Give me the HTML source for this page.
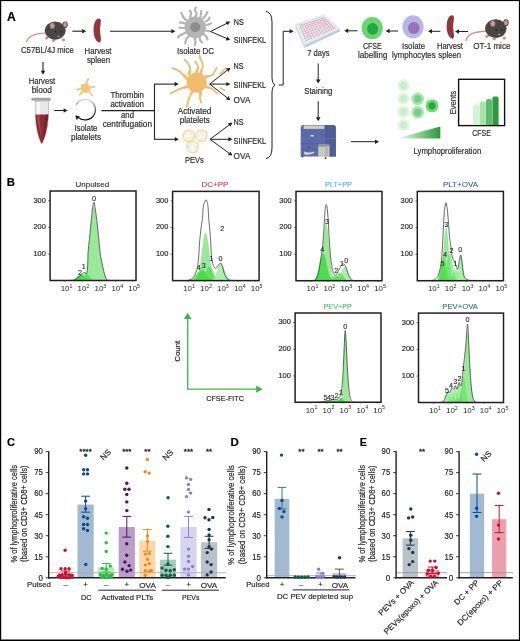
<!DOCTYPE html>
<html><head><meta charset="utf-8"><style>
html,body{margin:0;padding:0;background:#fff;overflow:hidden;width:520px;height:641px;}
svg{display:block;font-family:"Liberation Sans", sans-serif;will-change:transform;}
</style></head><body>
<svg width="520" height="641" viewBox="0 0 520 641">
<rect x="0" y="0" width="520" height="641" fill="#fff"/>
<rect x="0" y="0" width="520" height="1.1" fill="#000"/>
<rect x="0" y="0" width="1.2" height="641" fill="#000"/>
<rect x="518.9" y="0" width="1.1" height="641" fill="#000"/>
<rect x="0" y="639.5" width="520" height="1.5" fill="#000"/>
<text x="7.00" y="21.00" font-size="12" fill="#000" text-anchor="start" font-weight="bold" textLength="8.80" lengthAdjust="spacingAndGlyphs" stroke="#000" stroke-width="0.18">A</text>
<text x="6.70" y="186.40" font-size="11.2" fill="#000" text-anchor="start" font-weight="bold" textLength="8.20" lengthAdjust="spacingAndGlyphs" stroke="#000" stroke-width="0.18">B</text>
<text x="6.90" y="446.30" font-size="11.5" fill="#000" text-anchor="start" font-weight="bold" textLength="8.00" lengthAdjust="spacingAndGlyphs" stroke="#000" stroke-width="0.18">C</text>
<text x="230.50" y="446.20" font-size="11.2" fill="#000" text-anchor="start" font-weight="bold" textLength="8.30" lengthAdjust="spacingAndGlyphs" stroke="#000" stroke-width="0.18">D</text>
<text x="359.80" y="445.80" font-size="10.5" fill="#000" text-anchor="start" font-weight="bold" textLength="7.20" lengthAdjust="spacingAndGlyphs" stroke="#000" stroke-width="0.18">E</text>
<g transform="translate(55.20 30.60) scale(1.03) translate(-55.20 -30.60)"><path d="M 45.2 33.1 C 37.2 33.6, 29.2 34.6, 27.2 41.6" stroke="#c79690" stroke-width="1.3" fill="none" stroke-linecap="round"/><ellipse cx="46.9" cy="37.8" rx="1.7" ry="1.5" fill="#c99590"/><ellipse cx="53.6" cy="40.2" rx="1.7" ry="1.5" fill="#c99590"/><ellipse cx="63.2" cy="39.5" rx="1.7" ry="1.5" fill="#c99590"/><ellipse cx="55.2" cy="30.6" rx="10.2" ry="8.8" fill="#4a4646"/><ellipse cx="64.8" cy="25.0" rx="2.6" ry="3.2" fill="#4a4646"/><ellipse cx="64.8" cy="25.0" rx="1.8" ry="2.4" fill="#c99a95"/><ellipse cx="52.4" cy="25.9" rx="2.4" ry="3.0" fill="#c99a95" stroke="#5a5252" stroke-width="0.4"/><circle cx="55.6" cy="31.8" r="0.8" fill="#1c1a1a"/><circle cx="60.9" cy="31.8" r="0.8" fill="#1c1a1a"/><ellipse cx="58.4" cy="36.1" rx="1.0" ry="0.7" fill="#d49a95"/></g>
<text x="21.00" y="53.20" font-size="8.6" fill="#2a2a2a" text-anchor="start" textLength="52.80" lengthAdjust="spacingAndGlyphs" stroke="#2a2a2a" stroke-width="0.18">C57BL/4J mice</text>
<line x1="72.30" y1="31.20" x2="82.70" y2="31.20" stroke="#231f20" stroke-width="1.1"/>
<polygon points="86.20,31.20 82.20,33.50 82.20,28.90" fill="#231f20"/>
<path d="M 99.5 18.5 C 102.5 19.5, 99.5 26.5, 100.1 31.7 C 100.7 37.7, 102.0 41.5, 99.5 42.5 C 94.5 41.5, 93.0 32.9, 93.7 26.9 C 94.3 22.5, 96.0 18.0, 99.5 18.5 Z" fill="#93373b"/>
<text x="84.60" y="53.60" font-size="8.6" fill="#2a2a2a" text-anchor="start" textLength="26.90" lengthAdjust="spacingAndGlyphs" stroke="#2a2a2a" stroke-width="0.18">Harvest</text>
<text x="86.90" y="62.80" font-size="8.6" fill="#2a2a2a" text-anchor="start" textLength="23.10" lengthAdjust="spacingAndGlyphs" stroke="#2a2a2a" stroke-width="0.18">spleen</text>
<line x1="110.00" y1="31.30" x2="171.90" y2="31.30" stroke="#231f20" stroke-width="1.1"/>
<polygon points="175.40,31.30 171.40,33.60 171.40,29.00" fill="#231f20"/>
<path d="M 195.50 17.00 C 195.68 16.42, 196.70 14.58, 196.60 13.50 C 196.50 12.42, 195.03 11.48, 194.90 10.50 C 194.77 9.52, 195.65 8.08, 195.80 7.60" stroke="#b4b4b4" stroke-width="2.2" fill="none" stroke-linecap="round"/>
<path d="M 190.10 18.00 C 190.25 17.13, 191.07 14.03, 191.00 12.80 C 190.93 11.57, 189.92 10.97, 189.70 10.60" stroke="#b4b4b4" stroke-width="2.2" fill="none" stroke-linecap="round"/>
<path d="M 186.60 20.50 C 186.08 19.97, 184.38 18.58, 183.50 17.30 C 182.62 16.02, 181.67 13.55, 181.30 12.80" stroke="#b4b4b4" stroke-width="2.2" fill="none" stroke-linecap="round"/>
<path d="M 200.30 17.00 C 200.45 16.23, 201.12 13.38, 201.20 12.40 C 201.28 11.42, 200.87 11.32, 200.80 11.10" stroke="#b4b4b4" stroke-width="2.2" fill="none" stroke-linecap="round"/>
<path d="M 203.00 18.50 C 203.52 17.85, 205.37 15.68, 206.10 14.60 C 206.83 13.52, 207.18 12.43, 207.40 12.00" stroke="#b4b4b4" stroke-width="2.2" fill="none" stroke-linecap="round"/>
<path d="M 206.00 21.50 C 206.53 21.08, 208.63 19.67, 209.20 19.00 C 209.77 18.33, 209.37 17.75, 209.40 17.50" stroke="#b4b4b4" stroke-width="2.2" fill="none" stroke-linecap="round"/>
<path d="M 207.00 25.00 C 207.50 24.82, 209.30 24.18, 210.00 23.90 C 210.70 23.62, 211.00 23.40, 211.20 23.30" stroke="#b4b4b4" stroke-width="2.2" fill="none" stroke-linecap="round"/>
<path d="M 185.50 23.50 C 184.87 23.35, 182.62 22.75, 181.70 22.60 C 180.78 22.45, 180.28 22.60, 180.00 22.60" stroke="#b4b4b4" stroke-width="2.2" fill="none" stroke-linecap="round"/>
<path d="M 185.50 28.00 C 184.87 27.98, 182.70 27.95, 181.70 27.90 C 180.70 27.85, 179.87 27.73, 179.50 27.70" stroke="#b4b4b4" stroke-width="2.2" fill="none" stroke-linecap="round"/>
<path d="M 187.00 32.30 C 185.97 32.75, 182.33 34.18, 180.80 35.00 C 179.27 35.82, 178.30 36.83, 177.80 37.20" stroke="#b4b4b4" stroke-width="2.2" fill="none" stroke-linecap="round"/>
<path d="M 189.70 35.50 C 189.12 36.15, 186.93 38.08, 186.20 39.40 C 185.47 40.72, 185.45 42.73, 185.30 43.40" stroke="#b4b4b4" stroke-width="2.2" fill="none" stroke-linecap="round"/>
<path d="M 194.60 37.00 C 194.75 37.83, 195.47 40.63, 195.50 42.00 C 195.53 43.37, 194.92 44.67, 194.80 45.20" stroke="#b4b4b4" stroke-width="2.2" fill="none" stroke-linecap="round"/>
<path d="M 199.40 36.50 C 199.55 37.13, 199.85 39.30, 200.30 40.30 C 200.75 41.30, 201.80 42.13, 202.10 42.50" stroke="#b4b4b4" stroke-width="2.2" fill="none" stroke-linecap="round"/>
<path d="M 203.50 34.00 C 204.00 34.45, 205.85 35.80, 206.50 36.70 C 207.15 37.60, 207.25 38.95, 207.40 39.40" stroke="#b4b4b4" stroke-width="2.2" fill="none" stroke-linecap="round"/>
<path d="M 206.00 30.50 L 209.50 31.50" stroke="#b4b4b4" stroke-width="2.2" fill="none" stroke-linecap="round"/>
<circle cx="195.3" cy="27.3" r="10.8" fill="#b4b4b4"/>
<circle cx="195.3" cy="27.3" r="5.0" fill="#8c8c8c"/>
<text x="177.00" y="53.80" font-size="8.6" fill="#2a2a2a" text-anchor="start" textLength="37.00" lengthAdjust="spacingAndGlyphs" stroke="#2a2a2a" stroke-width="0.18">Isolate DC</text>
<line x1="210.50" y1="31.50" x2="227.07" y2="23.17" stroke="#231f20" stroke-width="1.0"/>
<polygon points="230.20,21.60 227.61,25.36 225.64,21.43" fill="#231f20"/>
<line x1="210.50" y1="31.50" x2="226.99" y2="38.61" stroke="#231f20" stroke-width="1.0"/>
<polygon points="230.20,40.00 225.66,40.44 227.40,36.40" fill="#231f20"/>
<text x="233.70" y="24.60" font-size="8.6" fill="#2a2a2a" text-anchor="start" textLength="10.00" lengthAdjust="spacingAndGlyphs" stroke="#2a2a2a" stroke-width="0.18">NS</text>
<text x="233.70" y="42.70" font-size="8.6" fill="#2a2a2a" text-anchor="start" textLength="32.40" lengthAdjust="spacingAndGlyphs" stroke="#2a2a2a" stroke-width="0.18">SIINFEKL</text>
<line x1="43.00" y1="62.00" x2="43.00" y2="71.30" stroke="#231f20" stroke-width="1.1"/>
<polygon points="43.00,74.80 40.70,70.80 45.30,70.80" fill="#231f20"/>
<text x="28.70" y="83.90" font-size="8.6" fill="#2a2a2a" text-anchor="start" textLength="26.50" lengthAdjust="spacingAndGlyphs" stroke="#2a2a2a" stroke-width="0.18">Harvest</text>
<text x="31.70" y="92.90" font-size="8.6" fill="#2a2a2a" text-anchor="start" textLength="20.30" lengthAdjust="spacingAndGlyphs" stroke="#2a2a2a" stroke-width="0.18">blood</text>
<path d="M 35.3 101 L 48.5 101 L 48.5 117 Q 47.6 133 42.2 143.6 L 41.2 143.6 Q 36.2 133 35.3 117 Z" fill="#e8e8e8" stroke="#a8a8a8" stroke-width="0.6"/>
<path d="M 35.6 114.6 L 48.2 114.6 L 48.2 117 Q 47.3 133 42.1 143.2 L 41.3 143.2 Q 36.5 133 35.6 117 Z" fill="#8b2c33"/>
<path d="M 37.2 114.6 L 39.6 114.6 L 39.6 121 L 41.4 138 L 37.2 119 Z" fill="#b8676c" opacity="0.55"/>
<path d="M 45.8 114.6 L 48.2 114.6 L 48.2 117 L 42.3 142.5 L 44.6 121 Z" fill="#6a1c22" opacity="0.6"/>
<rect x="37.0" y="102" width="3.0" height="12.3" fill="#f7f7f7"/>
<path d="M 31.2 99.3 Q 31.2 97.8 33 97.8 L 49.8 97.8 Q 50.6 97.8 50.6 99 L 50.6 100.8 L 33.5 100.8 Q 31.2 100.8 31.2 99.3 Z" fill="#a3a3a3"/>
<line x1="54.20" y1="110.50" x2="64.10" y2="110.50" stroke="#231f20" stroke-width="1.1"/>
<polygon points="67.60,110.50 63.60,112.80 63.60,108.20" fill="#231f20"/>
<path d="M 86.50 84.00 C 86.68 83.42, 87.28 81.37, 87.60 80.50 C 87.92 79.63, 88.27 79.08, 88.40 78.80" stroke="#f4c27a" stroke-width="1.7" fill="none" stroke-linecap="round"/>
<path d="M 89.50 87.30 C 90.00 87.23, 91.68 86.98, 92.50 86.90 C 93.32 86.82, 94.08 86.82, 94.40 86.80" stroke="#f4c27a" stroke-width="1.7" fill="none" stroke-linecap="round"/>
<path d="M 82.00 88.60 C 81.50 88.70, 79.83 89.03, 79.00 89.20 C 78.17 89.37, 77.33 89.53, 77.00 89.60" stroke="#f4c27a" stroke-width="1.7" fill="none" stroke-linecap="round"/>
<path d="M 83.00 91.50 C 82.63 91.83, 81.35 92.90, 80.80 93.50 C 80.25 94.10, 79.88 94.83, 79.70 95.10" stroke="#f4c27a" stroke-width="1.7" fill="none" stroke-linecap="round"/>
<path d="M 88.80 91.50 C 89.13 91.88, 90.27 93.17, 90.80 93.80 C 91.33 94.43, 91.80 95.05, 92.00 95.30" stroke="#f4c27a" stroke-width="1.7" fill="none" stroke-linecap="round"/>
<path d="M 83.00 86.00 L 81.80 84.90" stroke="#f4c27a" stroke-width="1.7" fill="none" stroke-linecap="round"/>
<circle cx="85.7" cy="88.3" r="4.7" fill="#f4c27a"/>
<defs><linearGradient id="cg" x1="0" y1="0" x2="0" y2="1"><stop offset="0" stop-color="#d8d8d8"/><stop offset="0.6" stop-color="#555"/><stop offset="1" stop-color="#111"/></linearGradient></defs>
<path d="M 78.5 117.5 A 10.3 10.3 0 1 0 76.2 104.6" stroke="url(#cg)" stroke-width="1.3" fill="none"/>
<polygon points="75.3,115.2 79.8,116.5 76.5,120" fill="#111"/>
<text x="74.40" y="130.80" font-size="8.6" fill="#2a2a2a" text-anchor="start" textLength="23.10" lengthAdjust="spacingAndGlyphs" stroke="#2a2a2a" stroke-width="0.18">Isolate</text>
<text x="71.00" y="139.50" font-size="8.6" fill="#2a2a2a" text-anchor="start" textLength="30.00" lengthAdjust="spacingAndGlyphs" stroke="#2a2a2a" stroke-width="0.18">platelets</text>
<line x1="101.30" y1="110.60" x2="154.50" y2="110.60" stroke="#231f20" stroke-width="1.1"/>
<line x1="154.50" y1="84.00" x2="154.50" y2="139.30" stroke="#231f20" stroke-width="1.1"/>
<text x="110.40" y="97.60" font-size="8.6" fill="#2a2a2a" text-anchor="start" textLength="33.60" lengthAdjust="spacingAndGlyphs" stroke="#2a2a2a" stroke-width="0.18">Thrombin</text>
<text x="110.40" y="107.10" font-size="8.6" fill="#2a2a2a" text-anchor="start" textLength="33.60" lengthAdjust="spacingAndGlyphs" stroke="#2a2a2a" stroke-width="0.18">activation</text>
<text x="121.00" y="117.80" font-size="8.6" fill="#2a2a2a" text-anchor="start" textLength="13.00" lengthAdjust="spacingAndGlyphs" stroke="#2a2a2a" stroke-width="0.18">and</text>
<text x="102.70" y="127.10" font-size="8.6" fill="#2a2a2a" text-anchor="start" textLength="49.30" lengthAdjust="spacingAndGlyphs" stroke="#2a2a2a" stroke-width="0.18">centrifugation</text>
<line x1="154.00" y1="84.10" x2="175.10" y2="84.10" stroke="#231f20" stroke-width="1.1"/>
<polygon points="178.60,84.10 174.60,86.40 174.60,81.80" fill="#231f20"/>
<line x1="154.00" y1="139.30" x2="175.30" y2="139.30" stroke="#231f20" stroke-width="1.1"/>
<polygon points="178.80,139.30 174.80,141.60 174.80,137.00" fill="#231f20"/>
<path d="M 200.60 73.30 C 200.98 72.05, 202.90 68.20, 202.90 65.80 C 202.90 63.40, 201.18 60.62, 200.60 58.90 C 200.02 57.18, 199.60 56.07, 199.40 55.50" stroke="#f2bb6e" stroke-width="1.9" fill="none" stroke-linecap="round"/>
<path d="M 200.60 73.30 L 201.41 70.67" stroke="#f2bb6e" stroke-width="2.8" fill="none" stroke-linecap="round"/>
<path d="M 189.10 73.90 C 189.28 72.93, 190.50 70.02, 190.20 68.10 C 189.90 66.18, 188.25 63.83, 187.30 62.40 C 186.35 60.97, 184.97 59.98, 184.50 59.50" stroke="#f2bb6e" stroke-width="1.9" fill="none" stroke-linecap="round"/>
<path d="M 189.10 73.90 L 189.48 71.87" stroke="#f2bb6e" stroke-width="2.8" fill="none" stroke-linecap="round"/>
<path d="M 196.60 72.20 C 196.88 71.33, 198.50 68.73, 198.30 67.00 C 198.10 65.27, 195.88 62.67, 195.40 61.80" stroke="#f2bb6e" stroke-width="1.9" fill="none" stroke-linecap="round"/>
<path d="M 196.60 72.20 L 197.19 70.38" stroke="#f2bb6e" stroke-width="2.8" fill="none" stroke-linecap="round"/>
<path d="M 186.80 78.50 C 185.63 77.35, 182.22 73.33, 179.80 71.60 C 177.38 69.87, 173.55 68.68, 172.30 68.10" stroke="#f2bb6e" stroke-width="1.9" fill="none" stroke-linecap="round"/>
<path d="M 186.80 78.50 L 184.35 76.08" stroke="#f2bb6e" stroke-width="2.8" fill="none" stroke-linecap="round"/>
<path d="M 187.30 86.60 C 186.05 86.98, 182.58 87.75, 179.80 88.90 C 177.02 90.05, 172.13 92.73, 170.60 93.50" stroke="#f2bb6e" stroke-width="1.9" fill="none" stroke-linecap="round"/>
<path d="M 187.30 86.60 L 184.68 87.41" stroke="#f2bb6e" stroke-width="2.8" fill="none" stroke-linecap="round"/>
<path d="M 192.50 91.20 C 191.93 92.35, 190.05 95.60, 189.10 98.10 C 188.15 100.60, 187.18 104.85, 186.80 106.20" stroke="#f2bb6e" stroke-width="1.9" fill="none" stroke-linecap="round"/>
<path d="M 192.50 91.20 L 191.31 93.61" stroke="#f2bb6e" stroke-width="2.8" fill="none" stroke-linecap="round"/>
<path d="M 200.60 92.40 C 200.50 93.35, 199.90 96.38, 200.00 98.10 C 200.10 99.82, 201.00 101.93, 201.20 102.70" stroke="#f2bb6e" stroke-width="1.9" fill="none" stroke-linecap="round"/>
<path d="M 200.60 92.40 L 200.39 94.39" stroke="#f2bb6e" stroke-width="2.8" fill="none" stroke-linecap="round"/>
<path d="M 205.80 76.80 C 206.85 76.52, 210.28 76.55, 212.10 75.10 C 213.92 73.65, 215.93 69.27, 216.70 68.10" stroke="#f2bb6e" stroke-width="1.9" fill="none" stroke-linecap="round"/>
<path d="M 205.80 76.80 L 208.00 76.20" stroke="#f2bb6e" stroke-width="2.8" fill="none" stroke-linecap="round"/>
<path d="M 205.80 86.60 C 206.85 86.98, 210.18 87.75, 212.10 88.90 C 214.02 90.05, 216.43 92.73, 217.30 93.50" stroke="#f2bb6e" stroke-width="1.9" fill="none" stroke-linecap="round"/>
<path d="M 205.80 86.60 L 208.00 87.41" stroke="#f2bb6e" stroke-width="2.8" fill="none" stroke-linecap="round"/>
<path d="M 220.20 73.90 L 226.00 68.10" stroke="#f2bb6e" stroke-width="1.5" fill="none" stroke-linecap="round"/>
<path d="M 220.20 87.80 L 224.50 90.50" stroke="#f2bb6e" stroke-width="1.5" fill="none" stroke-linecap="round"/>
<circle cx="196.6" cy="82.6" r="9.9" fill="#f2bb6e" stroke="#eeb35f" stroke-width="0.5"/>
<line x1="209.70" y1="84.10" x2="227.66" y2="69.87" stroke="#231f20" stroke-width="1.0"/>
<polygon points="230.40,67.70 228.63,71.91 225.90,68.46" fill="#231f20"/>
<line x1="209.70" y1="84.10" x2="226.90" y2="84.10" stroke="#231f20" stroke-width="1.0"/>
<polygon points="230.40,84.10 226.40,86.30 226.40,81.90" fill="#231f20"/>
<line x1="209.70" y1="84.10" x2="227.64" y2="98.14" stroke="#231f20" stroke-width="1.0"/>
<polygon points="230.40,100.30 225.89,99.57 228.61,96.10" fill="#231f20"/>
<text x="233.60" y="69.10" font-size="8.6" fill="#2a2a2a" text-anchor="start" textLength="10.00" lengthAdjust="spacingAndGlyphs" stroke="#2a2a2a" stroke-width="0.18">NS</text>
<text x="233.60" y="87.60" font-size="8.6" fill="#2a2a2a" text-anchor="start" textLength="32.60" lengthAdjust="spacingAndGlyphs" stroke="#2a2a2a" stroke-width="0.18">SIINFEKL</text>
<text x="233.60" y="103.10" font-size="8.6" fill="#2a2a2a" text-anchor="start" textLength="16.80" lengthAdjust="spacingAndGlyphs" stroke="#2a2a2a" stroke-width="0.18">OVA</text>
<text x="177.70" y="114.20" font-size="8.6" fill="#2a2a2a" text-anchor="start" textLength="33.70" lengthAdjust="spacingAndGlyphs" stroke="#2a2a2a" stroke-width="0.18">Activated</text>
<text x="179.80" y="123.40" font-size="8.6" fill="#2a2a2a" text-anchor="start" textLength="29.90" lengthAdjust="spacingAndGlyphs" stroke="#2a2a2a" stroke-width="0.18">platelets</text>
<circle cx="188.8" cy="135.8" r="5.6" fill="none" stroke="#f7d9a6" stroke-width="1.6"/>
<circle cx="188.8" cy="135.8" r="3.2" fill="none" stroke="#f9e3bd" stroke-width="1.0"/>
<circle cx="201.3" cy="135.8" r="5.6" fill="none" stroke="#f7d9a6" stroke-width="1.6"/>
<circle cx="201.3" cy="135.8" r="3.2" fill="none" stroke="#f9e3bd" stroke-width="1.0"/>
<circle cx="192.5" cy="147" r="5.6" fill="none" stroke="#f7d9a6" stroke-width="1.6"/>
<circle cx="192.5" cy="147" r="3.2" fill="none" stroke="#f9e3bd" stroke-width="1.0"/>
<text x="185.00" y="162.60" font-size="8.6" fill="#2a2a2a" text-anchor="start" textLength="18.70" lengthAdjust="spacingAndGlyphs" stroke="#2a2a2a" stroke-width="0.18">PEVs</text>
<line x1="210.00" y1="139.30" x2="229.60" y2="124.60" stroke="#231f20" stroke-width="1.0"/>
<polygon points="232.40,122.50 230.52,126.66 227.88,123.14" fill="#231f20"/>
<line x1="210.00" y1="139.30" x2="228.90" y2="139.30" stroke="#231f20" stroke-width="1.0"/>
<polygon points="232.40,139.30 228.40,141.50 228.40,137.10" fill="#231f20"/>
<line x1="210.00" y1="139.30" x2="229.57" y2="153.54" stroke="#231f20" stroke-width="1.0"/>
<polygon points="232.40,155.60 227.87,155.03 230.46,151.47" fill="#231f20"/>
<text x="233.60" y="125.40" font-size="8.6" fill="#2a2a2a" text-anchor="start" textLength="10.00" lengthAdjust="spacingAndGlyphs" stroke="#2a2a2a" stroke-width="0.18">NS</text>
<text x="233.60" y="143.50" font-size="8.6" fill="#2a2a2a" text-anchor="start" textLength="32.60" lengthAdjust="spacingAndGlyphs" stroke="#2a2a2a" stroke-width="0.18">SIINFEKL</text>
<text x="233.60" y="159.00" font-size="8.6" fill="#2a2a2a" text-anchor="start" textLength="16.80" lengthAdjust="spacingAndGlyphs" stroke="#2a2a2a" stroke-width="0.18">OVA</text>
<path d="M 266 11.3 Q 272 12.5 272 22 L 272 77 Q 272 83.5 275 85 Q 272 86.5 272 93 L 272 148 Q 272 157.5 266 158.5" stroke="#231f20" stroke-width="1.0" fill="none"/>
<path d="M 278.7 85 L 283.2 85 L 283.2 31.3" stroke="#231f20" stroke-width="1.0" fill="none"/>
<line x1="283.20" y1="31.30" x2="290.10" y2="31.30" stroke="#231f20" stroke-width="1.0"/>
<polygon points="293.60,31.30 289.60,33.60 289.60,29.00" fill="#231f20"/>
<polygon points="295.6,24.6 304.4,45.2 304.4,48 295.6,27.4" fill="#c3d5dc"/>
<polygon points="304.4,45.2 339.8,28.8 339.8,31.6 304.4,48" fill="#b9ccd4"/>
<polygon points="295.6,24.6 324.3,15.0 339.8,28.8 304.4,45.2" fill="#e4eef1" stroke="#cbdbe1" stroke-width="0.6"/>
<g><ellipse cx="300.10" cy="25.61" rx="1.0" ry="0.8" fill="#e7a0bb"/><ellipse cx="300.98" cy="27.71" rx="1.0" ry="0.8" fill="#e7a0bb"/><ellipse cx="301.85" cy="29.80" rx="1.0" ry="0.8" fill="#e7a0bb"/><ellipse cx="302.73" cy="31.90" rx="1.0" ry="0.8" fill="#e7a0bb"/><ellipse cx="303.61" cy="34.00" rx="1.0" ry="0.8" fill="#e7a0bb"/><ellipse cx="304.49" cy="36.10" rx="1.0" ry="0.8" fill="#e7a0bb"/><ellipse cx="305.37" cy="38.20" rx="1.0" ry="0.8" fill="#e7a0bb"/><ellipse cx="306.24" cy="40.30" rx="1.0" ry="0.8" fill="#e7a0bb"/><ellipse cx="302.24" cy="24.90" rx="1.0" ry="0.8" fill="#e7a0bb"/><ellipse cx="303.18" cy="26.94" rx="1.0" ry="0.8" fill="#e7a0bb"/><ellipse cx="304.11" cy="28.99" rx="1.0" ry="0.8" fill="#e7a0bb"/><ellipse cx="305.05" cy="31.03" rx="1.0" ry="0.8" fill="#e7a0bb"/><ellipse cx="305.98" cy="33.08" rx="1.0" ry="0.8" fill="#e7a0bb"/><ellipse cx="306.91" cy="35.12" rx="1.0" ry="0.8" fill="#e7a0bb"/><ellipse cx="307.85" cy="37.17" rx="1.0" ry="0.8" fill="#e7a0bb"/><ellipse cx="308.78" cy="39.21" rx="1.0" ry="0.8" fill="#e7a0bb"/><ellipse cx="304.39" cy="24.19" rx="1.0" ry="0.8" fill="#e7a0bb"/><ellipse cx="305.38" cy="26.18" rx="1.0" ry="0.8" fill="#e7a0bb"/><ellipse cx="306.37" cy="28.17" rx="1.0" ry="0.8" fill="#e7a0bb"/><ellipse cx="307.36" cy="30.16" rx="1.0" ry="0.8" fill="#e7a0bb"/><ellipse cx="308.35" cy="32.16" rx="1.0" ry="0.8" fill="#e7a0bb"/><ellipse cx="309.34" cy="34.15" rx="1.0" ry="0.8" fill="#e7a0bb"/><ellipse cx="310.33" cy="36.14" rx="1.0" ry="0.8" fill="#e7a0bb"/><ellipse cx="311.32" cy="38.13" rx="1.0" ry="0.8" fill="#e7a0bb"/><ellipse cx="306.53" cy="23.48" rx="1.0" ry="0.8" fill="#e7a0bb"/><ellipse cx="307.58" cy="25.42" rx="1.0" ry="0.8" fill="#e7a0bb"/><ellipse cx="308.63" cy="27.36" rx="1.0" ry="0.8" fill="#e7a0bb"/><ellipse cx="309.67" cy="29.30" rx="1.0" ry="0.8" fill="#e7a0bb"/><ellipse cx="310.72" cy="31.23" rx="1.0" ry="0.8" fill="#e7a0bb"/><ellipse cx="311.77" cy="33.17" rx="1.0" ry="0.8" fill="#e7a0bb"/><ellipse cx="312.81" cy="35.11" rx="1.0" ry="0.8" fill="#e7a0bb"/><ellipse cx="313.86" cy="37.05" rx="1.0" ry="0.8" fill="#e7a0bb"/><ellipse cx="308.68" cy="22.77" rx="1.0" ry="0.8" fill="#e7a0bb"/><ellipse cx="309.78" cy="24.65" rx="1.0" ry="0.8" fill="#e7a0bb"/><ellipse cx="310.88" cy="26.54" rx="1.0" ry="0.8" fill="#e7a0bb"/><ellipse cx="311.99" cy="28.43" rx="1.0" ry="0.8" fill="#e7a0bb"/><ellipse cx="313.09" cy="30.31" rx="1.0" ry="0.8" fill="#e7a0bb"/><ellipse cx="314.19" cy="32.20" rx="1.0" ry="0.8" fill="#e7a0bb"/><ellipse cx="315.30" cy="34.08" rx="1.0" ry="0.8" fill="#e7a0bb"/><ellipse cx="316.40" cy="35.97" rx="1.0" ry="0.8" fill="#e7a0bb"/><ellipse cx="310.82" cy="22.06" rx="1.0" ry="0.8" fill="#e7a0bb"/><ellipse cx="311.98" cy="23.89" rx="1.0" ry="0.8" fill="#e7a0bb"/><ellipse cx="313.14" cy="25.72" rx="1.0" ry="0.8" fill="#e7a0bb"/><ellipse cx="314.30" cy="27.56" rx="1.0" ry="0.8" fill="#e7a0bb"/><ellipse cx="315.46" cy="29.39" rx="1.0" ry="0.8" fill="#e7a0bb"/><ellipse cx="316.62" cy="31.22" rx="1.0" ry="0.8" fill="#e7a0bb"/><ellipse cx="317.78" cy="33.05" rx="1.0" ry="0.8" fill="#e7a0bb"/><ellipse cx="318.94" cy="34.89" rx="1.0" ry="0.8" fill="#e7a0bb"/><ellipse cx="312.97" cy="21.35" rx="1.0" ry="0.8" fill="#e7a0bb"/><ellipse cx="314.18" cy="23.13" rx="1.0" ry="0.8" fill="#e7a0bb"/><ellipse cx="315.40" cy="24.91" rx="1.0" ry="0.8" fill="#e7a0bb"/><ellipse cx="316.61" cy="26.69" rx="1.0" ry="0.8" fill="#e7a0bb"/><ellipse cx="317.83" cy="28.47" rx="1.0" ry="0.8" fill="#e7a0bb"/><ellipse cx="319.04" cy="30.25" rx="1.0" ry="0.8" fill="#e7a0bb"/><ellipse cx="320.26" cy="32.03" rx="1.0" ry="0.8" fill="#e7a0bb"/><ellipse cx="321.48" cy="33.81" rx="1.0" ry="0.8" fill="#e7a0bb"/><ellipse cx="315.11" cy="20.64" rx="1.0" ry="0.8" fill="#e7a0bb"/><ellipse cx="316.38" cy="22.36" rx="1.0" ry="0.8" fill="#e7a0bb"/><ellipse cx="317.65" cy="24.09" rx="1.0" ry="0.8" fill="#e7a0bb"/><ellipse cx="318.93" cy="25.82" rx="1.0" ry="0.8" fill="#e7a0bb"/><ellipse cx="320.20" cy="27.54" rx="1.0" ry="0.8" fill="#e7a0bb"/><ellipse cx="321.47" cy="29.27" rx="1.0" ry="0.8" fill="#e7a0bb"/><ellipse cx="322.74" cy="31.00" rx="1.0" ry="0.8" fill="#e7a0bb"/><ellipse cx="324.01" cy="32.72" rx="1.0" ry="0.8" fill="#e7a0bb"/><ellipse cx="317.26" cy="19.93" rx="1.0" ry="0.8" fill="#e7a0bb"/><ellipse cx="318.58" cy="21.60" rx="1.0" ry="0.8" fill="#e7a0bb"/><ellipse cx="319.91" cy="23.28" rx="1.0" ry="0.8" fill="#e7a0bb"/><ellipse cx="321.24" cy="24.95" rx="1.0" ry="0.8" fill="#e7a0bb"/><ellipse cx="322.57" cy="26.62" rx="1.0" ry="0.8" fill="#e7a0bb"/><ellipse cx="323.90" cy="28.30" rx="1.0" ry="0.8" fill="#e7a0bb"/><ellipse cx="325.22" cy="29.97" rx="1.0" ry="0.8" fill="#e7a0bb"/><ellipse cx="326.55" cy="31.64" rx="1.0" ry="0.8" fill="#e7a0bb"/><ellipse cx="319.40" cy="19.22" rx="1.0" ry="0.8" fill="#e7a0bb"/><ellipse cx="320.78" cy="20.84" rx="1.0" ry="0.8" fill="#e7a0bb"/><ellipse cx="322.17" cy="22.46" rx="1.0" ry="0.8" fill="#e7a0bb"/><ellipse cx="323.55" cy="24.08" rx="1.0" ry="0.8" fill="#e7a0bb"/><ellipse cx="324.94" cy="25.70" rx="1.0" ry="0.8" fill="#e7a0bb"/><ellipse cx="326.32" cy="27.32" rx="1.0" ry="0.8" fill="#e7a0bb"/><ellipse cx="327.71" cy="28.94" rx="1.0" ry="0.8" fill="#e7a0bb"/><ellipse cx="329.09" cy="30.56" rx="1.0" ry="0.8" fill="#e7a0bb"/><ellipse cx="321.55" cy="18.51" rx="1.0" ry="0.8" fill="#e7a0bb"/><ellipse cx="322.99" cy="20.08" rx="1.0" ry="0.8" fill="#e7a0bb"/><ellipse cx="324.43" cy="21.64" rx="1.0" ry="0.8" fill="#e7a0bb"/><ellipse cx="325.87" cy="23.21" rx="1.0" ry="0.8" fill="#e7a0bb"/><ellipse cx="327.31" cy="24.78" rx="1.0" ry="0.8" fill="#e7a0bb"/><ellipse cx="328.75" cy="26.34" rx="1.0" ry="0.8" fill="#e7a0bb"/><ellipse cx="330.19" cy="27.91" rx="1.0" ry="0.8" fill="#e7a0bb"/><ellipse cx="331.63" cy="29.48" rx="1.0" ry="0.8" fill="#e7a0bb"/><ellipse cx="323.69" cy="17.80" rx="1.0" ry="0.8" fill="#e7a0bb"/><ellipse cx="325.19" cy="19.31" rx="1.0" ry="0.8" fill="#e7a0bb"/><ellipse cx="326.68" cy="20.83" rx="1.0" ry="0.8" fill="#e7a0bb"/><ellipse cx="328.18" cy="22.34" rx="1.0" ry="0.8" fill="#e7a0bb"/><ellipse cx="329.68" cy="23.85" rx="1.0" ry="0.8" fill="#e7a0bb"/><ellipse cx="331.17" cy="25.37" rx="1.0" ry="0.8" fill="#e7a0bb"/><ellipse cx="332.67" cy="26.88" rx="1.0" ry="0.8" fill="#e7a0bb"/><ellipse cx="334.17" cy="28.40" rx="1.0" ry="0.8" fill="#e7a0bb"/></g>
<text x="307.30" y="56.20" font-size="8.6" fill="#2a2a2a" text-anchor="start" textLength="22.30" lengthAdjust="spacingAndGlyphs" stroke="#2a2a2a" stroke-width="0.18">7 days</text>
<line x1="357.50" y1="30.80" x2="347.70" y2="30.80" stroke="#231f20" stroke-width="1.0"/>
<polygon points="344.20,30.80 348.20,28.50 348.20,33.10" fill="#231f20"/>
<ellipse cx="372.2" cy="28.1" rx="10.6" ry="11.2" fill="#6fd46f"/>
<ellipse cx="372.6" cy="28.8" rx="5.6" ry="5.9" fill="#22aa44"/>
<text x="363.00" y="49.40" font-size="8.6" fill="#2a2a2a" text-anchor="start" textLength="18.70" lengthAdjust="spacingAndGlyphs" stroke="#2a2a2a" stroke-width="0.18">CFSE</text>
<text x="358.00" y="57.90" font-size="8.6" fill="#2a2a2a" text-anchor="start" textLength="29.50" lengthAdjust="spacingAndGlyphs" stroke="#2a2a2a" stroke-width="0.18">labelling</text>
<line x1="398.00" y1="31.00" x2="389.10" y2="31.00" stroke="#231f20" stroke-width="1.0"/>
<polygon points="385.60,31.00 389.60,28.70 389.60,33.30" fill="#231f20"/>
<ellipse cx="413" cy="26.8" rx="10.6" ry="11.5" fill="#b8b5e8"/>
<ellipse cx="413.8" cy="28" rx="5.8" ry="6" fill="#9a72b8"/>
<text x="402.00" y="49.00" font-size="8.6" fill="#2a2a2a" text-anchor="start" textLength="23.00" lengthAdjust="spacingAndGlyphs" stroke="#2a2a2a" stroke-width="0.18">Isolate</text>
<text x="392.00" y="57.60" font-size="8.6" fill="#2a2a2a" text-anchor="start" textLength="43.60" lengthAdjust="spacingAndGlyphs" stroke="#2a2a2a" stroke-width="0.18">lymphocytes</text>
<line x1="440.40" y1="31.30" x2="431.50" y2="31.30" stroke="#231f20" stroke-width="1.0"/>
<polygon points="428.00,31.30 432.00,29.00 432.00,33.60" fill="#231f20"/>
<path d="M 452.6 15.3 C 455.6 16.3, 452.6 23.3, 453.2 28.2 C 453.8 34.1, 455.1 37.8, 452.6 38.8 C 447.6 37.8, 446.1 29.4, 446.8 23.5 C 447.4 19.3, 449.1 14.8, 452.6 15.3 Z" fill="#93373b"/>
<text x="437.00" y="49.20" font-size="8.6" fill="#2a2a2a" text-anchor="start" textLength="25.90" lengthAdjust="spacingAndGlyphs" stroke="#2a2a2a" stroke-width="0.18">Harvest</text>
<text x="438.30" y="57.60" font-size="8.6" fill="#2a2a2a" text-anchor="start" textLength="22.70" lengthAdjust="spacingAndGlyphs" stroke="#2a2a2a" stroke-width="0.18">spleen</text>
<line x1="468.00" y1="31.50" x2="458.50" y2="31.50" stroke="#231f20" stroke-width="1.0"/>
<polygon points="455.00,31.50 459.00,29.20 459.00,33.80" fill="#231f20"/>
<g transform="translate(495.80 28.60) scale(1.06) translate(-495.80 -28.60)"><path d="M 485.8 31.1 C 477.8 31.6, 469.8 32.6, 467.8 39.6" stroke="#c79690" stroke-width="1.3" fill="none" stroke-linecap="round"/><ellipse cx="487.5" cy="35.8" rx="1.7" ry="1.5" fill="#c99590"/><ellipse cx="494.2" cy="38.2" rx="1.7" ry="1.5" fill="#c99590"/><ellipse cx="503.8" cy="37.5" rx="1.7" ry="1.5" fill="#c99590"/><ellipse cx="495.8" cy="28.6" rx="10.2" ry="8.8" fill="#4a4646"/><ellipse cx="505.4" cy="23.0" rx="2.6" ry="3.2" fill="#4a4646"/><ellipse cx="505.4" cy="23.0" rx="1.8" ry="2.4" fill="#c99a95"/><ellipse cx="493.0" cy="23.9" rx="2.4" ry="3.0" fill="#c99a95" stroke="#5a5252" stroke-width="0.4"/><circle cx="496.2" cy="29.8" r="0.8" fill="#1c1a1a"/><circle cx="501.5" cy="29.8" r="0.8" fill="#1c1a1a"/><ellipse cx="499.0" cy="34.1" rx="1.0" ry="0.7" fill="#d49a95"/></g>
<text x="473.30" y="49.20" font-size="8.6" fill="#2a2a2a" text-anchor="start" textLength="37.10" lengthAdjust="spacingAndGlyphs" stroke="#2a2a2a" stroke-width="0.18">OT-1 mice</text>
<line x1="318.20" y1="63.50" x2="318.20" y2="80.00" stroke="#231f20" stroke-width="1.0"/>
<polygon points="318.20,83.50 315.90,79.50 320.50,79.50" fill="#231f20"/>
<text x="304.20" y="94.10" font-size="8.6" fill="#2a2a2a" text-anchor="start" textLength="28.20" lengthAdjust="spacingAndGlyphs" stroke="#2a2a2a" stroke-width="0.18">Staining</text>
<line x1="318.20" y1="101.20" x2="318.20" y2="117.70" stroke="#231f20" stroke-width="1.0"/>
<polygon points="318.20,121.20 315.90,117.20 320.50,117.20" fill="#231f20"/>
<path d="M 300.7 128 Q 300.7 125.1 303.5 125.1 L 333 125.1 Q 335.8 125.1 335.8 128 L 335.8 156.4 L 300.7 156.4 Z" fill="#5b6ba8"/>
<path d="M 325.2 125.1 L 333 125.1 Q 335.8 125.1 335.8 128 L 335.8 156.4 L 325.2 156.4 Z" fill="#4f5d98"/>
<rect x="303.6" y="125.5" width="20.8" height="3.4" fill="#cfcfc8"/>
<line x1="300.7" y1="138.4" x2="335.8" y2="138.4" stroke="#6c7bb5" stroke-width="0.5"/>
<line x1="300.7" y1="143.8" x2="318" y2="143.8" stroke="#4a578f" stroke-width="0.6"/>
<line x1="300.7" y1="149.5" x2="318" y2="149.5" stroke="#4a578f" stroke-width="0.5"/>
<rect x="310.6" y="135" width="3.2" height="1.5" fill="#d8dbe8"/>
<rect x="307.4" y="146.6" width="2.8" height="1.2" fill="#3e4a80"/>
<path d="M 304 151.6 Q 309 153.4 314.2 151.4 L 314.2 153 Q 309 155.6 304.4 154.4 Z" fill="#d9d9d4"/>
<rect x="318.2" y="144.6" width="11.3" height="12.4" rx="0.8" fill="#c9c9c4"/>
<rect x="318.2" y="144.6" width="11.3" height="2.0" fill="#8e8e8a"/>
<rect x="325" y="146" width="3.2" height="10" fill="#b5b5b0"/>
<circle cx="302.3" cy="156.6" r="0.8" fill="#2a2a2a"/>
<circle cx="325.5" cy="158.2" r="0.9" fill="#2a2a2a"/>
<line x1="351.00" y1="141.70" x2="375.50" y2="141.70" stroke="#231f20" stroke-width="1.0"/>
<polygon points="379.00,141.70 375.00,144.00 375.00,139.40" fill="#231f20"/>
<circle cx="403.5" cy="85.4" r="6.1" fill="#e0f5e0"/><circle cx="403.5" cy="85.4" r="3.6" fill="#cdeccf"/>
<circle cx="403.5" cy="98.7" r="6.1" fill="#e0f5e0"/><circle cx="403.5" cy="98.7" r="3.6" fill="#cdeccf"/>
<circle cx="403.5" cy="111.8" r="6.1" fill="#e0f5e0"/><circle cx="403.5" cy="111.8" r="3.6" fill="#cdeccf"/>
<circle cx="403.5" cy="125" r="6.1" fill="#e0f5e0"/><circle cx="403.5" cy="125" r="3.6" fill="#cdeccf"/>
<circle cx="417.7" cy="98.9" r="6.3" fill="#a9e6ab"/><circle cx="417.7" cy="98.9" r="3.6" fill="#72cf80"/>
<circle cx="417.7" cy="112.3" r="6.3" fill="#a9e6ab"/><circle cx="417.7" cy="112.3" r="3.6" fill="#72cf80"/>
<circle cx="432" cy="105.8" r="6.5" fill="#6fd86f"/><circle cx="432" cy="105.8" r="3.6" fill="#23a93b"/>
<defs><linearGradient id="tg" x1="0" y1="0" x2="1" y2="0"><stop offset="0" stop-color="#ffffff"/><stop offset="1" stop-color="#239b38"/></linearGradient></defs>
<polygon points="396,138.6 440.3,126.6 440.3,138.6" fill="url(#tg)"/>
<text x="413.50" y="153.90" font-size="9.2" fill="#2a2a2a" text-anchor="start" textLength="67.70" lengthAdjust="spacingAndGlyphs" stroke="#2a2a2a" stroke-width="0.18">Lymphoproliferation</text>
<rect x="458.6" y="79.3" width="46" height="46.3" fill="none" stroke="#111" stroke-width="1.4"/>
<path d="M 473 125 L 473 106.6 Q 473 104.6 475 104.6 L 477.3 104.6 Q 479.3 104.6 479.3 106.6 L 479.3 125 Z" fill="#d4f2d4"/>
<path d="M 479.6 125 L 479.6 103.5 Q 479.6 101.5 481.6 101.5 L 483.6 101.5 Q 485.6 101.5 485.6 103.5 L 485.6 125 Z" fill="#a6e3a6"/>
<path d="M 485.8 125 L 485.8 101 Q 485.8 99 487.8 99 L 490 99 Q 492 99 492 101 L 492 125 Z" fill="#5dbb6c"/>
<path d="M 492.4 125 L 492.4 98.5 Q 492.4 96.5 494.4 96.5 L 496.6 96.5 Q 498.6 96.5 498.6 98.5 L 498.6 125 Z" fill="#2e9a40"/>
<text x="455.60" y="114.60" font-size="8.6" fill="#2a2a2a" text-anchor="start" textLength="23.80" lengthAdjust="spacingAndGlyphs" transform="rotate(-90 455.60 114.60)" stroke="#2a2a2a" stroke-width="0.18">Events</text>
<text x="472.30" y="135.80" font-size="8.6" fill="#2a2a2a" text-anchor="start" textLength="18.50" lengthAdjust="spacingAndGlyphs" stroke="#2a2a2a" stroke-width="0.18">CFSE</text>
<text x="92.35" y="187.00" font-size="8.1" fill="#231f20" text-anchor="middle" textLength="33.70" lengthAdjust="spacingAndGlyphs" stroke="#231f20" stroke-width="0.1">Unpulsed</text>
<path d="M 79.00 280.50 C 79.75 280.00, 82.25 278.48, 83.50 277.50 C 84.75 276.52, 85.80 276.52, 86.50 274.60 C 87.20 272.68, 87.38 269.73, 87.70 266.00 C 88.02 262.27, 88.05 256.85, 88.40 252.20 C 88.75 247.55, 89.33 242.78, 89.80 238.10 C 90.27 233.42, 90.72 228.45, 91.20 224.10 C 91.68 219.75, 92.25 214.97, 92.70 212.00 C 93.15 209.03, 93.50 206.30, 93.90 206.30 C 94.30 206.30, 94.58 209.03, 95.10 212.00 C 95.62 214.97, 96.45 219.75, 97.00 224.10 C 97.55 228.45, 97.93 233.42, 98.40 238.10 C 98.87 242.78, 99.10 247.37, 99.80 252.20 C 100.50 257.03, 101.70 262.97, 102.60 267.10 C 103.50 271.23, 104.37 274.77, 105.20 277.00 C 106.03 279.23, 107.20 279.92, 107.60 280.50 Z" fill="#9ae99a" stroke="#5ccf5c" stroke-width="0.4" stroke-opacity="0.6"/>
<path d="M 63.50 280.50 L 63.50 280.50 L 63.75 280.50 L 64.00 280.50 L 64.25 280.50 L 64.50 280.50 L 64.75 280.50 L 65.00 280.50 L 65.25 280.50 L 65.50 280.50 L 65.75 280.50 L 66.00 280.50 L 66.25 280.50 L 66.50 280.49 L 66.75 280.49 L 67.00 280.49 L 67.25 280.49 L 67.50 280.49 L 67.75 280.48 L 68.00 280.48 L 68.25 280.48 L 68.50 280.47 L 68.75 280.46 L 69.00 280.45 L 69.25 280.44 L 69.50 280.43 L 69.75 280.42 L 70.00 280.40 L 70.25 280.39 L 70.50 280.36 L 70.75 280.34 L 71.00 280.31 L 71.25 280.27 L 71.50 280.24 L 71.75 280.19 L 72.00 280.14 L 72.25 280.09 L 72.50 280.02 L 72.75 279.95 L 73.00 279.87 L 73.25 279.78 L 73.50 279.69 L 73.75 279.58 L 74.00 279.47 L 74.25 279.34 L 74.50 279.20 L 74.75 279.06 L 75.00 278.90 L 75.25 278.73 L 75.50 278.55 L 75.75 278.36 L 76.00 278.17 L 76.25 277.96 L 76.50 277.75 L 76.75 277.54 L 77.00 277.31 L 77.25 277.09 L 77.50 276.86 L 77.75 276.63 L 78.00 276.41 L 78.25 276.19 L 78.50 275.97 L 78.75 275.76 L 79.00 275.56 L 79.25 275.38 L 79.50 275.21 L 79.75 275.05 L 80.00 274.91 L 80.25 274.79 L 80.50 274.68 L 80.75 274.60 L 81.00 274.55 L 81.25 274.51 L 81.50 274.50 L 81.75 274.52 L 82.00 274.58 L 82.25 274.68 L 82.50 274.82 L 82.75 275.00 L 83.00 275.21 L 83.25 275.44 L 83.50 275.70 L 83.75 275.97 L 84.00 276.26 L 84.25 276.56 L 84.50 276.86 L 84.75 277.16 L 85.00 277.46 L 85.25 277.75 L 85.50 278.03 L 85.75 278.30 L 86.00 278.55 L 86.25 278.79 L 86.50 279.00 L 86.75 279.20 L 87.00 279.38 L 87.25 279.54 L 87.50 279.69 L 87.75 279.82 L 88.00 279.93 L 88.25 280.02 L 88.50 280.11 L 88.75 280.18 L 89.00 280.24 L 89.25 280.29 L 89.50 280.33 L 89.75 280.36 L 90.00 280.39 L 90.25 280.41 L 90.50 280.43 L 90.75 280.45 L 91.00 280.46 L 91.25 280.47 L 91.50 280.48 L 91.75 280.48 L 92.00 280.49 L 92.25 280.49 L 92.50 280.49 L 92.75 280.49 L 93.00 280.50 L 93.25 280.50 L 93.50 280.50 L 93.75 280.50 L 94.00 280.50 L 94.25 280.50 L 94.50 280.50 L 94.75 280.50 L 95.00 280.50 L 95.25 280.50 L 95.50 280.50 L 95.75 280.50 L 96.00 280.50 L 96.25 280.50 L 96.50 280.50 L 96.75 280.50 L 97.00 280.50 L 97.25 280.50 L 97.50 280.50 L 97.75 280.50 L 98.00 280.50 L 98.25 280.50 L 98.50 280.50 L 98.75 280.50 L 99.00 280.50 L 99.25 280.50 L 99.50 280.50 L 99.50 280.50 Z" fill="#4ddd4d" stroke="#5ccf5c" stroke-width="0.4" stroke-opacity="0.6"/>
<path d="M 72.50 280.50 L 72.50 280.50 L 72.75 280.50 L 73.00 280.50 L 73.25 280.50 L 73.50 280.50 L 73.75 280.50 L 74.00 280.50 L 74.25 280.50 L 74.50 280.50 L 74.75 280.49 L 75.00 280.49 L 75.25 280.49 L 75.50 280.48 L 75.75 280.48 L 76.00 280.47 L 76.25 280.46 L 76.50 280.45 L 76.75 280.44 L 77.00 280.42 L 77.25 280.39 L 77.50 280.36 L 77.75 280.33 L 78.00 280.29 L 78.25 280.23 L 78.50 280.17 L 78.75 280.10 L 79.00 280.01 L 79.25 279.90 L 79.50 279.78 L 79.75 279.64 L 80.00 279.48 L 80.25 279.31 L 80.50 279.10 L 80.75 278.88 L 81.00 278.63 L 81.25 278.36 L 81.50 278.07 L 81.75 277.75 L 82.00 277.42 L 82.25 277.07 L 82.50 276.70 L 82.75 276.33 L 83.00 275.95 L 83.25 275.57 L 83.50 275.20 L 83.75 274.84 L 84.00 274.49 L 84.25 274.17 L 84.50 273.88 L 84.75 273.62 L 85.00 273.41 L 85.25 273.23 L 85.50 273.10 L 85.75 273.03 L 86.00 273.00 L 86.25 273.03 L 86.50 273.10 L 86.75 273.23 L 87.00 273.41 L 87.25 273.62 L 87.50 273.88 L 87.75 274.17 L 88.00 274.49 L 88.25 274.84 L 88.50 275.20 L 88.75 275.57 L 89.00 275.95 L 89.25 276.33 L 89.50 276.70 L 89.75 277.07 L 90.00 277.42 L 90.25 277.75 L 90.50 278.07 L 90.75 278.36 L 91.00 278.63 L 91.25 278.88 L 91.50 279.10 L 91.75 279.31 L 92.00 279.48 L 92.25 279.64 L 92.50 279.78 L 92.75 279.90 L 93.00 280.01 L 93.25 280.10 L 93.50 280.17 L 93.75 280.23 L 94.00 280.29 L 94.25 280.33 L 94.50 280.36 L 94.75 280.39 L 95.00 280.42 L 95.25 280.44 L 95.50 280.45 L 95.75 280.46 L 96.00 280.47 L 96.25 280.48 L 96.50 280.48 L 96.75 280.49 L 97.00 280.49 L 97.25 280.49 L 97.50 280.50 L 97.75 280.50 L 98.00 280.50 L 98.25 280.50 L 98.50 280.50 L 98.75 280.50 L 99.00 280.50 L 99.25 280.50 L 99.50 280.50 L 99.50 280.50 Z" fill="rgba(70,222,70,0.72)" stroke="#5ccf5c" stroke-width="0.4" stroke-opacity="0.6"/>
<path d="M 50.80 280.50 C 54.33 280.48, 67.97 280.57, 72.00 280.40 C 76.03 280.23, 74.00 279.98, 75.00 279.50 C 76.00 279.02, 77.00 278.22, 78.00 277.50 C 79.00 276.78, 80.17 275.90, 81.00 275.20 C 81.83 274.50, 82.33 273.73, 83.00 273.30 C 83.67 272.87, 84.45 272.55, 85.00 272.60 C 85.55 272.65, 85.92 273.93, 86.30 273.60 C 86.68 273.27, 87.05 272.53, 87.30 270.60 C 87.55 268.67, 87.67 265.07, 87.80 262.00 C 87.93 258.93, 87.82 256.18, 88.10 252.20 C 88.38 248.22, 89.03 242.78, 89.50 238.10 C 89.97 233.42, 90.43 228.78, 90.90 224.10 C 91.37 219.42, 91.90 213.35, 92.30 210.00 C 92.70 206.65, 93.03 205.32, 93.30 204.00 C 93.57 202.68, 93.70 202.10, 93.90 202.10 C 94.10 202.10, 94.25 202.68, 94.50 204.00 C 94.75 205.32, 94.93 206.65, 95.40 210.00 C 95.87 213.35, 96.75 219.42, 97.30 224.10 C 97.85 228.78, 98.23 233.42, 98.70 238.10 C 99.17 242.78, 99.67 248.55, 100.10 252.20 C 100.53 255.85, 100.83 257.52, 101.30 260.00 C 101.77 262.48, 102.42 264.93, 102.90 267.10 C 103.38 269.27, 103.77 271.35, 104.20 273.00 C 104.63 274.65, 105.03 275.90, 105.50 277.00 C 105.97 278.10, 106.42 279.03, 107.00 279.60 C 107.58 280.17, 104.28 280.25, 109.00 280.40 C 113.72 280.55, 130.92 280.48, 135.30 280.50" fill="none" stroke="#383838" stroke-width="0.75"/>
<text x="94.00" y="200.60" font-size="7.2" fill="#222" text-anchor="middle" stroke="#222" stroke-width="0.1">0</text>
<text x="83.70" y="268.80" font-size="7.2" fill="#222" text-anchor="middle" stroke="#222" stroke-width="0.1">1</text>
<text x="80.00" y="274.70" font-size="7.2" fill="#222" text-anchor="middle" stroke="#222" stroke-width="0.1">2</text>
<rect x="50.10" y="191.00" width="85.90" height="89.50" fill="none" stroke="#231f20" stroke-width="1.5"/>
<line x1="48.10" y1="254.10" x2="50.10" y2="254.10" stroke="#231f20" stroke-width="0.6"/>
<text x="45.80" y="255.90" font-size="7.9" fill="#231f20" text-anchor="end" textLength="12.40" lengthAdjust="spacingAndGlyphs" stroke="#231f20" stroke-width="0.18">100</text>
<line x1="48.10" y1="227.40" x2="50.10" y2="227.40" stroke="#231f20" stroke-width="0.6"/>
<text x="45.80" y="229.20" font-size="7.9" fill="#231f20" text-anchor="end" textLength="12.40" lengthAdjust="spacingAndGlyphs" stroke="#231f20" stroke-width="0.18">200</text>
<line x1="48.10" y1="200.70" x2="50.10" y2="200.70" stroke="#231f20" stroke-width="0.6"/>
<text x="45.80" y="202.50" font-size="7.9" fill="#231f20" text-anchor="end" textLength="12.40" lengthAdjust="spacingAndGlyphs" stroke="#231f20" stroke-width="0.18">300</text>
<text x="60.70" y="290.70" font-size="7.9" fill="#231f20">10<tspan font-size="5.3" dy="-3.2">1</tspan></text>
<line x1="65.00" y1="280.50" x2="65.00" y2="281.70" stroke="#231f20" stroke-width="0.5"/>
<text x="77.60" y="290.70" font-size="7.9" fill="#231f20">10<tspan font-size="5.3" dy="-3.2">2</tspan></text>
<line x1="81.90" y1="280.50" x2="81.90" y2="281.70" stroke="#231f20" stroke-width="0.5"/>
<text x="94.50" y="290.70" font-size="7.9" fill="#231f20">10<tspan font-size="5.3" dy="-3.2">3</tspan></text>
<line x1="98.80" y1="280.50" x2="98.80" y2="281.70" stroke="#231f20" stroke-width="0.5"/>
<text x="111.40" y="290.70" font-size="7.9" fill="#231f20">10<tspan font-size="5.3" dy="-3.2">4</tspan></text>
<line x1="115.70" y1="280.50" x2="115.70" y2="281.70" stroke="#231f20" stroke-width="0.5"/>
<text x="128.30" y="290.70" font-size="7.9" fill="#231f20">10<tspan font-size="5.3" dy="-3.2">5</tspan></text>
<line x1="132.60" y1="280.50" x2="132.60" y2="281.70" stroke="#231f20" stroke-width="0.5"/>
<text x="214.95" y="187.40" font-size="8.1" fill="#d6304f" text-anchor="middle" textLength="26.90" lengthAdjust="spacingAndGlyphs" stroke="#d6304f" stroke-width="0.1">DC+PP</text>
<path d="M 189.85 280.60 L 189.85 280.60 L 190.10 280.60 L 190.35 280.60 L 190.60 280.60 L 190.85 280.59 L 191.10 280.59 L 191.35 280.59 L 191.60 280.58 L 191.85 280.58 L 192.10 280.57 L 192.35 280.56 L 192.60 280.55 L 192.85 280.54 L 193.10 280.52 L 193.35 280.50 L 193.60 280.47 L 193.85 280.43 L 194.10 280.39 L 194.35 280.33 L 194.60 280.26 L 194.85 280.18 L 195.10 280.07 L 195.35 279.95 L 195.60 279.80 L 195.85 279.62 L 196.10 279.41 L 196.35 279.16 L 196.60 278.86 L 196.85 278.52 L 197.10 278.12 L 197.35 277.65 L 197.60 277.12 L 197.85 276.52 L 198.10 275.83 L 198.35 275.05 L 198.60 274.19 L 198.85 273.22 L 199.10 272.15 L 199.35 270.98 L 199.60 269.69 L 199.85 268.31 L 200.10 266.81 L 200.35 265.21 L 200.60 263.51 L 200.85 261.73 L 201.10 259.86 L 201.35 257.92 L 201.60 255.93 L 201.85 253.90 L 202.10 251.85 L 202.35 249.80 L 202.60 247.77 L 202.85 245.79 L 203.10 243.87 L 203.35 242.05 L 203.60 240.34 L 203.85 238.77 L 204.10 237.36 L 204.35 236.13 L 204.60 235.10 L 204.85 234.28 L 205.10 233.68 L 205.35 233.32 L 205.60 233.20 L 205.85 233.32 L 206.10 233.68 L 206.35 234.28 L 206.60 235.10 L 206.85 236.13 L 207.10 237.36 L 207.35 238.77 L 207.60 240.34 L 207.85 242.05 L 208.10 243.87 L 208.35 245.79 L 208.60 247.77 L 208.85 249.80 L 209.10 251.85 L 209.35 253.90 L 209.60 255.93 L 209.85 257.92 L 210.10 259.86 L 210.35 261.73 L 210.60 263.51 L 210.85 265.21 L 211.10 266.81 L 211.35 268.31 L 211.60 269.69 L 211.85 270.98 L 212.10 272.15 L 212.35 273.22 L 212.60 274.19 L 212.85 275.05 L 213.10 275.83 L 213.35 276.52 L 213.60 277.12 L 213.85 277.65 L 214.10 278.12 L 214.35 278.52 L 214.60 278.86 L 214.85 279.16 L 215.10 279.41 L 215.35 279.62 L 215.60 279.80 L 215.85 279.95 L 216.10 280.07 L 216.35 280.18 L 216.60 280.26 L 216.85 280.33 L 217.10 280.39 L 217.35 280.43 L 217.60 280.47 L 217.85 280.50 L 218.10 280.52 L 218.35 280.54 L 218.60 280.55 L 218.85 280.56 L 219.10 280.57 L 219.35 280.58 L 219.60 280.58 L 219.85 280.59 L 220.10 280.59 L 220.35 280.59 L 220.60 280.60 L 220.85 280.60 L 221.10 280.60 L 221.35 280.60 L 221.35 280.60 Z" fill="#9ae99a" stroke="#5ccf5c" stroke-width="0.4" stroke-opacity="0.6"/>
<path d="M 185.20 280.60 L 185.20 280.60 L 185.45 280.60 L 185.70 280.60 L 185.95 280.60 L 186.20 280.60 L 186.45 280.60 L 186.70 280.60 L 186.95 280.60 L 187.20 280.60 L 187.45 280.59 L 187.70 280.59 L 187.95 280.59 L 188.20 280.59 L 188.45 280.59 L 188.70 280.58 L 188.95 280.58 L 189.20 280.57 L 189.45 280.56 L 189.70 280.55 L 189.95 280.54 L 190.20 280.53 L 190.45 280.51 L 190.70 280.50 L 190.95 280.47 L 191.20 280.45 L 191.45 280.41 L 191.70 280.38 L 191.95 280.33 L 192.20 280.28 L 192.45 280.22 L 192.70 280.15 L 192.95 280.07 L 193.20 279.97 L 193.45 279.87 L 193.70 279.75 L 193.95 279.62 L 194.20 279.47 L 194.45 279.30 L 194.70 279.11 L 194.95 278.91 L 195.20 278.68 L 195.45 278.43 L 195.70 278.17 L 195.95 277.88 L 196.20 277.57 L 196.45 277.24 L 196.70 276.89 L 196.95 276.52 L 197.20 276.13 L 197.45 275.73 L 197.70 275.31 L 197.95 274.89 L 198.20 274.45 L 198.45 274.02 L 198.70 273.58 L 198.95 273.14 L 199.20 272.71 L 199.45 272.30 L 199.70 271.90 L 199.95 271.51 L 200.20 271.16 L 200.45 270.83 L 200.70 270.53 L 200.95 270.27 L 201.20 270.05 L 201.45 269.87 L 201.70 269.74 L 201.95 269.65 L 202.20 269.60 L 202.45 269.61 L 202.70 269.66 L 202.95 269.76 L 203.20 269.90 L 203.45 270.09 L 203.70 270.32 L 203.95 270.59 L 204.20 270.89 L 204.45 271.23 L 204.70 271.59 L 204.95 271.97 L 205.20 272.38 L 205.45 272.80 L 205.70 273.23 L 205.95 273.66 L 206.20 274.10 L 206.45 274.54 L 206.70 274.97 L 206.95 275.40 L 207.20 275.81 L 207.45 276.21 L 207.70 276.59 L 207.95 276.96 L 208.20 277.30 L 208.45 277.63 L 208.70 277.94 L 208.95 278.22 L 209.20 278.48 L 209.45 278.73 L 209.70 278.95 L 209.95 279.15 L 210.20 279.33 L 210.45 279.50 L 210.70 279.64 L 210.95 279.78 L 211.20 279.89 L 211.45 279.99 L 211.70 280.08 L 211.95 280.16 L 212.20 280.23 L 212.45 280.29 L 212.70 280.34 L 212.95 280.38 L 213.20 280.42 L 213.45 280.45 L 213.70 280.48 L 213.95 280.50 L 214.20 280.52 L 214.45 280.53 L 214.70 280.55 L 214.95 280.56 L 215.20 280.57 L 215.45 280.57 L 215.70 280.58 L 215.95 280.58 L 216.20 280.59 L 216.45 280.59 L 216.70 280.59 L 216.95 280.59 L 217.20 280.59 L 217.45 280.60 L 217.70 280.60 L 217.95 280.60 L 218.20 280.60 L 218.45 280.60 L 218.70 280.60 L 218.95 280.60 L 219.20 280.60 L 219.40 280.60 Z" fill="#4ddd4d" stroke="#5ccf5c" stroke-width="0.4" stroke-opacity="0.6"/>
<path d="M 182.40 280.60 L 182.40 280.60 L 182.65 280.60 L 182.90 280.60 L 183.15 280.60 L 183.40 280.60 L 183.65 280.60 L 183.90 280.60 L 184.15 280.60 L 184.40 280.60 L 184.65 280.60 L 184.90 280.59 L 185.15 280.59 L 185.40 280.59 L 185.65 280.59 L 185.90 280.59 L 186.15 280.58 L 186.40 280.58 L 186.65 280.57 L 186.90 280.56 L 187.15 280.55 L 187.40 280.54 L 187.65 280.53 L 187.90 280.51 L 188.15 280.50 L 188.40 280.47 L 188.65 280.45 L 188.90 280.42 L 189.15 280.38 L 189.40 280.34 L 189.65 280.29 L 189.90 280.23 L 190.15 280.16 L 190.40 280.09 L 190.65 280.00 L 190.90 279.90 L 191.15 279.80 L 191.40 279.67 L 191.65 279.53 L 191.90 279.38 L 192.15 279.21 L 192.40 279.03 L 192.65 278.83 L 192.90 278.61 L 193.15 278.37 L 193.40 278.12 L 193.65 277.85 L 193.90 277.56 L 194.15 277.26 L 194.40 276.94 L 194.65 276.61 L 194.90 276.27 L 195.15 275.93 L 195.40 275.57 L 195.65 275.21 L 195.90 274.85 L 196.15 274.50 L 196.40 274.15 L 196.65 273.81 L 196.90 273.48 L 197.15 273.17 L 197.40 272.87 L 197.65 272.61 L 197.90 272.36 L 198.15 272.15 L 198.40 271.97 L 198.65 271.82 L 198.90 271.71 L 199.15 271.64 L 199.40 271.60 L 199.65 271.61 L 199.90 271.65 L 200.15 271.73 L 200.40 271.85 L 200.65 272.00 L 200.90 272.19 L 201.15 272.41 L 201.40 272.66 L 201.65 272.93 L 201.90 273.23 L 202.15 273.54 L 202.40 273.87 L 202.65 274.22 L 202.90 274.57 L 203.15 274.93 L 203.40 275.28 L 203.65 275.64 L 203.90 276.00 L 204.15 276.34 L 204.40 276.68 L 204.65 277.01 L 204.90 277.32 L 205.15 277.62 L 205.40 277.90 L 205.65 278.17 L 205.90 278.42 L 206.15 278.65 L 206.40 278.87 L 206.65 279.07 L 206.90 279.25 L 207.15 279.41 L 207.40 279.56 L 207.65 279.70 L 207.90 279.82 L 208.15 279.93 L 208.40 280.02 L 208.65 280.10 L 208.90 280.18 L 209.15 280.24 L 209.40 280.30 L 209.65 280.35 L 209.90 280.39 L 210.15 280.42 L 210.40 280.45 L 210.65 280.48 L 210.90 280.50 L 211.15 280.52 L 211.40 280.53 L 211.65 280.55 L 211.90 280.56 L 212.15 280.56 L 212.40 280.57 L 212.65 280.58 L 212.90 280.58 L 213.15 280.59 L 213.40 280.59 L 213.65 280.59 L 213.90 280.59 L 214.15 280.59 L 214.40 280.60 L 214.65 280.60 L 214.90 280.60 L 215.15 280.60 L 215.40 280.60 L 215.65 280.60 L 215.90 280.60 L 216.15 280.60 L 216.40 280.60 L 216.60 280.60 Z" fill="rgba(70,222,70,0.72)" stroke="#5ccf5c" stroke-width="0.4" stroke-opacity="0.6"/>
<path d="M 193.65 280.60 L 193.65 280.60 L 193.90 280.60 L 194.15 280.60 L 194.40 280.60 L 194.65 280.60 L 194.90 280.60 L 195.15 280.60 L 195.40 280.60 L 195.65 280.59 L 195.90 280.59 L 196.15 280.59 L 196.40 280.59 L 196.65 280.58 L 196.90 280.58 L 197.15 280.57 L 197.40 280.56 L 197.65 280.55 L 197.90 280.54 L 198.15 280.52 L 198.40 280.50 L 198.65 280.47 L 198.90 280.44 L 199.15 280.41 L 199.40 280.36 L 199.65 280.31 L 199.90 280.25 L 200.15 280.17 L 200.40 280.09 L 200.65 279.98 L 200.90 279.87 L 201.15 279.73 L 201.40 279.57 L 201.65 279.39 L 201.90 279.19 L 202.15 278.96 L 202.40 278.71 L 202.65 278.42 L 202.90 278.10 L 203.15 277.76 L 203.40 277.38 L 203.65 276.97 L 203.90 276.53 L 204.15 276.05 L 204.40 275.55 L 204.65 275.03 L 204.90 274.47 L 205.15 273.90 L 205.40 273.31 L 205.65 272.71 L 205.90 272.11 L 206.15 271.50 L 206.40 270.90 L 206.65 270.32 L 206.90 269.75 L 207.15 269.21 L 207.40 268.71 L 207.65 268.25 L 207.90 267.83 L 208.15 267.46 L 208.40 267.16 L 208.65 266.92 L 208.90 266.74 L 209.15 266.64 L 209.40 266.60 L 209.65 266.64 L 209.90 266.74 L 210.15 266.92 L 210.40 267.16 L 210.65 267.46 L 210.90 267.83 L 211.15 268.25 L 211.40 268.71 L 211.65 269.21 L 211.90 269.75 L 212.15 270.32 L 212.40 270.90 L 212.65 271.50 L 212.90 272.11 L 213.15 272.71 L 213.40 273.31 L 213.65 273.90 L 213.90 274.47 L 214.15 275.03 L 214.40 275.55 L 214.65 276.05 L 214.90 276.53 L 215.15 276.97 L 215.40 277.38 L 215.65 277.76 L 215.90 278.10 L 216.15 278.42 L 216.40 278.71 L 216.65 278.96 L 216.90 279.19 L 217.15 279.39 L 217.40 279.57 L 217.65 279.73 L 217.90 279.87 L 218.15 279.98 L 218.40 280.09 L 218.65 280.17 L 218.90 280.25 L 219.15 280.31 L 219.40 280.36 L 219.65 280.41 L 219.90 280.44 L 220.15 280.47 L 220.40 280.50 L 220.65 280.52 L 220.90 280.54 L 221.15 280.55 L 221.40 280.56 L 221.65 280.57 L 221.90 280.58 L 222.15 280.58 L 222.40 280.59 L 222.65 280.59 L 222.90 280.59 L 223.15 280.59 L 223.40 280.60 L 223.65 280.60 L 223.90 280.60 L 224.15 280.60 L 224.40 280.60 L 224.65 280.60 L 224.90 280.60 L 225.15 280.60 L 225.15 280.60 Z" fill="rgba(70,222,70,0.72)" stroke="#5ccf5c" stroke-width="0.4" stroke-opacity="0.6"/>
<path d="M 203.50 280.60 L 203.50 280.60 L 203.75 280.60 L 204.00 280.60 L 204.25 280.60 L 204.50 280.60 L 204.75 280.60 L 205.00 280.60 L 205.25 280.60 L 205.50 280.60 L 205.75 280.60 L 206.00 280.60 L 206.25 280.60 L 206.50 280.60 L 206.75 280.60 L 207.00 280.60 L 207.25 280.60 L 207.50 280.60 L 207.75 280.59 L 208.00 280.59 L 208.25 280.59 L 208.50 280.59 L 208.75 280.58 L 209.00 280.58 L 209.25 280.57 L 209.50 280.56 L 209.75 280.55 L 210.00 280.53 L 210.25 280.51 L 210.50 280.48 L 210.75 280.45 L 211.00 280.41 L 211.25 280.36 L 211.50 280.30 L 211.75 280.23 L 212.00 280.14 L 212.25 280.04 L 212.50 279.91 L 212.75 279.76 L 213.00 279.59 L 213.25 279.38 L 213.50 279.15 L 213.75 278.88 L 214.00 278.57 L 214.25 278.23 L 214.50 277.84 L 214.75 277.40 L 215.00 276.92 L 215.25 276.40 L 215.50 275.83 L 215.75 275.21 L 216.00 274.55 L 216.25 273.85 L 216.50 273.12 L 216.75 272.36 L 217.00 271.57 L 217.25 270.77 L 217.50 269.97 L 217.75 269.17 L 218.00 268.38 L 218.25 267.62 L 218.50 266.89 L 218.75 266.22 L 219.00 265.60 L 219.25 265.05 L 219.50 264.58 L 219.75 264.19 L 220.00 263.90 L 220.25 263.70 L 220.50 263.61 L 220.75 263.61 L 221.00 263.69 L 221.25 263.85 L 221.50 264.07 L 221.75 264.36 L 222.00 264.72 L 222.25 265.13 L 222.50 265.60 L 222.75 266.11 L 223.00 266.67 L 223.25 267.27 L 223.50 267.89 L 223.75 268.54 L 224.00 269.21 L 224.25 269.88 L 224.50 270.56 L 224.75 271.24 L 225.00 271.90 L 225.25 272.56 L 225.50 273.20 L 225.75 273.81 L 226.00 274.41 L 226.25 274.97 L 226.50 275.51 L 226.75 276.01 L 227.00 276.48 L 227.25 276.92 L 227.50 277.33 L 227.75 277.70 L 228.00 278.05 L 228.25 278.36 L 228.50 278.64 L 228.75 278.90 L 229.00 279.12 L 229.25 279.33 L 229.50 279.51 L 229.75 279.66 L 230.00 279.80 L 230.25 279.92 L 230.50 280.03 L 230.75 280.12 L 231.00 280.20 L 231.25 280.27 L 231.50 280.32 L 231.75 280.37 L 232.00 280.41 L 232.25 280.45 L 232.50 280.47 L 232.75 280.50 L 233.00 280.52 L 233.25 280.53 L 233.50 280.55 L 233.75 280.56 L 234.00 280.57 L 234.25 280.57 L 234.50 280.58 L 234.75 280.58 L 235.00 280.59 L 235.25 280.59 L 235.50 280.59 L 235.75 280.59 L 236.00 280.60 L 236.25 280.60 L 236.50 280.60 L 236.75 280.60 L 237.00 280.60 L 237.25 280.60 L 237.50 280.60 L 237.70 280.60 Z" fill="#acefac" stroke="#5ccf5c" stroke-width="0.4" stroke-opacity="0.6"/>
<path d="M 173.40 280.60 C 175.33 280.58, 182.43 280.57, 185.00 280.50 C 187.57 280.43, 187.60 280.53, 188.80 280.20 C 190.00 279.87, 191.23 279.27, 192.20 278.50 C 193.17 277.73, 193.88 276.88, 194.60 275.60 C 195.32 274.32, 196.02 272.25, 196.50 270.80 C 196.98 269.35, 197.17 268.83, 197.50 266.90 C 197.83 264.97, 198.17 263.00, 198.50 259.20 C 198.83 255.40, 199.23 247.92, 199.50 244.10 C 199.77 240.28, 199.80 239.28, 200.10 236.30 C 200.40 233.32, 200.90 229.18, 201.30 226.20 C 201.70 223.22, 202.18 221.52, 202.50 218.40 C 202.82 215.28, 202.88 210.13, 203.20 207.50 C 203.52 204.87, 203.93 203.90, 204.40 202.60 C 204.87 201.30, 205.52 199.70, 206.00 199.70 C 206.48 199.70, 206.95 201.30, 207.30 202.60 C 207.65 203.90, 207.87 204.87, 208.10 207.50 C 208.33 210.13, 208.47 215.28, 208.70 218.40 C 208.93 221.52, 209.23 223.22, 209.50 226.20 C 209.77 229.18, 210.08 233.32, 210.30 236.30 C 210.52 239.28, 210.65 241.40, 210.80 244.10 C 210.95 246.80, 210.93 249.50, 211.20 252.50 C 211.47 255.50, 211.97 259.78, 212.40 262.10 C 212.83 264.42, 213.27 265.35, 213.80 266.40 C 214.33 267.45, 214.95 268.47, 215.60 268.40 C 216.25 268.33, 216.87 266.88, 217.70 266.00 C 218.53 265.12, 219.80 263.03, 220.60 263.10 C 221.40 263.17, 221.95 264.88, 222.50 266.40 C 223.05 267.92, 223.33 270.43, 223.90 272.20 C 224.47 273.97, 225.17 275.80, 225.90 277.00 C 226.63 278.20, 227.27 278.83, 228.30 279.40 C 229.33 279.97, 227.10 280.20, 232.10 280.40 C 237.10 280.60, 253.93 280.57, 258.30 280.60" fill="none" stroke="#383838" stroke-width="0.75"/>
<text x="222.30" y="231.00" font-size="7.2" fill="#222" text-anchor="middle" stroke="#222" stroke-width="0.1">2</text>
<text x="220.60" y="261.30" font-size="7.2" fill="#222" text-anchor="middle" stroke="#222" stroke-width="0.1">0</text>
<text x="211.20" y="260.60" font-size="7.2" fill="#222" text-anchor="middle" stroke="#222" stroke-width="0.1">1</text>
<text x="198.80" y="269.70" font-size="7.2" fill="#222" text-anchor="middle" stroke="#222" stroke-width="0.1">4</text>
<text x="203.80" y="267.60" font-size="7.2" fill="#222" text-anchor="middle" stroke="#222" stroke-width="0.1">3</text>
<rect x="172.60" y="191.40" width="86.50" height="89.20" fill="none" stroke="#231f20" stroke-width="1.5"/>
<line x1="170.60" y1="254.20" x2="172.60" y2="254.20" stroke="#231f20" stroke-width="0.6"/>
<text x="168.30" y="256.00" font-size="7.9" fill="#231f20" text-anchor="end" textLength="12.40" lengthAdjust="spacingAndGlyphs" stroke="#231f20" stroke-width="0.18">100</text>
<line x1="170.60" y1="227.50" x2="172.60" y2="227.50" stroke="#231f20" stroke-width="0.6"/>
<text x="168.30" y="229.30" font-size="7.9" fill="#231f20" text-anchor="end" textLength="12.40" lengthAdjust="spacingAndGlyphs" stroke="#231f20" stroke-width="0.18">200</text>
<line x1="170.60" y1="200.80" x2="172.60" y2="200.80" stroke="#231f20" stroke-width="0.6"/>
<text x="168.30" y="202.60" font-size="7.9" fill="#231f20" text-anchor="end" textLength="12.40" lengthAdjust="spacingAndGlyphs" stroke="#231f20" stroke-width="0.18">300</text>
<text x="183.20" y="290.80" font-size="7.9" fill="#231f20">10<tspan font-size="5.3" dy="-3.2">1</tspan></text>
<line x1="187.50" y1="280.60" x2="187.50" y2="281.80" stroke="#231f20" stroke-width="0.5"/>
<text x="200.10" y="290.80" font-size="7.9" fill="#231f20">10<tspan font-size="5.3" dy="-3.2">2</tspan></text>
<line x1="204.40" y1="280.60" x2="204.40" y2="281.80" stroke="#231f20" stroke-width="0.5"/>
<text x="217.00" y="290.80" font-size="7.9" fill="#231f20">10<tspan font-size="5.3" dy="-3.2">3</tspan></text>
<line x1="221.30" y1="280.60" x2="221.30" y2="281.80" stroke="#231f20" stroke-width="0.5"/>
<text x="233.90" y="290.80" font-size="7.9" fill="#231f20">10<tspan font-size="5.3" dy="-3.2">4</tspan></text>
<line x1="238.20" y1="280.60" x2="238.20" y2="281.80" stroke="#231f20" stroke-width="0.5"/>
<text x="250.80" y="290.80" font-size="7.9" fill="#231f20">10<tspan font-size="5.3" dy="-3.2">5</tspan></text>
<line x1="255.10" y1="280.60" x2="255.10" y2="281.80" stroke="#231f20" stroke-width="0.5"/>
<text x="338.45" y="187.40" font-size="8.1" fill="#49aee3" text-anchor="middle" textLength="26.90" lengthAdjust="spacingAndGlyphs" stroke="#49aee3" stroke-width="0.1">PLT+PP</text>
<path d="M 312.50 280.70 L 312.50 280.70 L 312.75 280.70 L 313.00 280.70 L 313.25 280.70 L 313.50 280.70 L 313.75 280.70 L 314.00 280.69 L 314.25 280.69 L 314.50 280.69 L 314.75 280.68 L 315.00 280.67 L 315.25 280.66 L 315.50 280.65 L 315.75 280.63 L 316.00 280.60 L 316.25 280.57 L 316.50 280.52 L 316.75 280.46 L 317.00 280.37 L 317.25 280.27 L 317.50 280.13 L 317.75 279.96 L 318.00 279.74 L 318.25 279.46 L 318.50 279.12 L 318.75 278.70 L 319.00 278.20 L 319.25 277.58 L 319.50 276.85 L 319.75 275.98 L 320.00 274.96 L 320.25 273.78 L 320.50 272.42 L 320.75 270.87 L 321.00 269.13 L 321.25 267.18 L 321.50 265.03 L 321.75 262.69 L 322.00 260.15 L 322.25 257.45 L 322.50 254.60 L 322.75 251.64 L 323.00 248.59 L 323.25 245.51 L 323.50 242.44 L 323.75 239.43 L 324.00 236.53 L 324.25 233.81 L 324.50 231.32 L 324.75 229.11 L 325.00 227.22 L 325.25 225.71 L 325.50 224.60 L 325.75 223.93 L 326.00 223.70 L 326.25 223.90 L 326.50 224.49 L 326.75 225.45 L 327.00 226.78 L 327.25 228.44 L 327.50 230.40 L 327.75 232.62 L 328.00 235.06 L 328.25 237.67 L 328.50 240.42 L 328.75 243.25 L 329.00 246.13 L 329.25 249.00 L 329.50 251.84 L 329.75 254.60 L 330.00 257.27 L 330.25 259.80 L 330.50 262.19 L 330.75 264.43 L 331.00 266.49 L 331.25 268.37 L 331.50 270.08 L 331.75 271.62 L 332.00 272.99 L 332.25 274.19 L 332.50 275.25 L 332.75 276.17 L 333.00 276.95 L 333.25 277.63 L 333.50 278.20 L 333.75 278.67 L 334.00 279.07 L 334.25 279.40 L 334.50 279.67 L 334.75 279.89 L 335.00 280.07 L 335.25 280.21 L 335.50 280.32 L 335.75 280.41 L 336.00 280.48 L 336.25 280.53 L 336.50 280.58 L 336.75 280.61 L 337.00 280.63 L 337.25 280.65 L 337.50 280.66 L 337.75 280.67 L 338.00 280.68 L 338.25 280.69 L 338.50 280.69 L 338.75 280.69 L 339.00 280.70 L 339.25 280.70 L 339.50 280.70 L 339.50 280.70 Z" fill="#9ae99a" stroke="#5ccf5c" stroke-width="0.4" stroke-opacity="0.6"/>
<path d="M 307.80 280.70 L 307.80 280.70 L 308.05 280.70 L 308.30 280.70 L 308.55 280.70 L 308.80 280.70 L 309.05 280.69 L 309.30 280.69 L 309.55 280.69 L 309.80 280.69 L 310.05 280.68 L 310.30 280.68 L 310.55 280.67 L 310.80 280.66 L 311.05 280.65 L 311.30 280.63 L 311.55 280.61 L 311.80 280.59 L 312.05 280.56 L 312.30 280.52 L 312.55 280.48 L 312.80 280.42 L 313.05 280.35 L 313.30 280.27 L 313.55 280.17 L 313.80 280.05 L 314.05 279.90 L 314.30 279.73 L 314.55 279.54 L 314.80 279.30 L 315.05 279.03 L 315.30 278.72 L 315.55 278.36 L 315.80 277.96 L 316.05 277.50 L 316.30 276.98 L 316.55 276.40 L 316.80 275.76 L 317.05 275.05 L 317.30 274.28 L 317.55 273.44 L 317.80 272.54 L 318.05 271.57 L 318.30 270.55 L 318.55 269.47 L 318.80 268.34 L 319.05 267.17 L 319.30 265.97 L 319.55 264.76 L 319.80 263.53 L 320.05 262.31 L 320.30 261.11 L 320.55 259.94 L 320.80 258.82 L 321.05 257.77 L 321.30 256.80 L 321.55 255.91 L 321.80 255.14 L 322.05 254.48 L 322.30 253.95 L 322.55 253.56 L 322.80 253.31 L 323.05 253.20 L 323.30 253.25 L 323.55 253.44 L 323.80 253.78 L 324.05 254.25 L 324.30 254.86 L 324.55 255.59 L 324.80 256.43 L 325.05 257.37 L 325.30 258.39 L 325.55 259.49 L 325.80 260.64 L 326.05 261.83 L 326.30 263.04 L 326.55 264.27 L 326.80 265.49 L 327.05 266.70 L 327.30 267.88 L 327.55 269.02 L 327.80 270.12 L 328.05 271.17 L 328.30 272.16 L 328.55 273.09 L 328.80 273.95 L 329.05 274.75 L 329.30 275.48 L 329.55 276.15 L 329.80 276.75 L 330.05 277.30 L 330.30 277.78 L 330.55 278.21 L 330.80 278.58 L 331.05 278.91 L 331.30 279.20 L 331.55 279.45 L 331.80 279.66 L 332.05 279.84 L 332.30 279.99 L 332.55 280.12 L 332.80 280.23 L 333.05 280.32 L 333.30 280.39 L 333.55 280.46 L 333.80 280.51 L 334.05 280.55 L 334.30 280.58 L 334.55 280.61 L 334.80 280.63 L 335.05 280.64 L 335.30 280.66 L 335.55 280.67 L 335.80 280.67 L 336.05 280.68 L 336.30 280.69 L 336.55 280.69 L 336.80 280.69 L 337.05 280.69 L 337.30 280.70 L 337.55 280.70 L 337.80 280.70 L 338.05 280.70 L 338.30 280.70 L 338.40 280.70 Z" fill="#4ddd4d" stroke="#5ccf5c" stroke-width="0.4" stroke-opacity="0.6"/>
<path d="M 331.40 280.70 L 331.40 280.70 L 331.65 280.70 L 331.90 280.70 L 332.15 280.70 L 332.40 280.70 L 332.65 280.70 L 332.90 280.70 L 333.15 280.70 L 333.40 280.70 L 333.65 280.70 L 333.90 280.70 L 334.15 280.70 L 334.40 280.70 L 334.65 280.70 L 334.90 280.70 L 335.15 280.69 L 335.40 280.69 L 335.65 280.69 L 335.90 280.68 L 336.15 280.67 L 336.40 280.66 L 336.65 280.64 L 336.90 280.62 L 337.15 280.59 L 337.40 280.54 L 337.65 280.49 L 337.90 280.42 L 338.15 280.33 L 338.40 280.22 L 338.65 280.08 L 338.90 279.91 L 339.15 279.71 L 339.40 279.46 L 339.65 279.16 L 339.90 278.81 L 340.15 278.40 L 340.40 277.93 L 340.65 277.40 L 340.90 276.81 L 341.15 276.15 L 341.40 275.45 L 341.65 274.69 L 341.90 273.89 L 342.15 273.05 L 342.40 272.21 L 342.65 271.36 L 342.90 270.53 L 343.15 269.74 L 343.40 269.01 L 343.65 268.35 L 343.90 267.78 L 344.15 267.32 L 344.40 266.98 L 344.65 266.77 L 344.90 266.70 L 345.15 266.75 L 345.40 266.89 L 345.65 267.13 L 345.90 267.46 L 346.15 267.86 L 346.40 268.35 L 346.65 268.89 L 346.90 269.49 L 347.15 270.13 L 347.40 270.81 L 347.65 271.50 L 347.90 272.21 L 348.15 272.91 L 348.40 273.61 L 348.65 274.29 L 348.90 274.94 L 349.15 275.57 L 349.40 276.15 L 349.65 276.70 L 349.90 277.21 L 350.15 277.67 L 350.40 278.09 L 350.65 278.47 L 350.90 278.81 L 351.15 279.10 L 351.40 279.36 L 351.65 279.59 L 351.90 279.78 L 352.15 279.95 L 352.40 280.08 L 352.65 280.20 L 352.90 280.30 L 353.15 280.38 L 353.40 280.45 L 353.65 280.50 L 353.90 280.54 L 354.15 280.58 L 354.40 280.61 L 354.65 280.63 L 354.90 280.65 L 355.15 280.66 L 355.40 280.67 L 355.65 280.68 L 355.90 280.68 L 356.15 280.69 L 356.40 280.69 L 356.65 280.69 L 356.90 280.70 L 357.15 280.70 L 357.40 280.70 L 357.65 280.70 L 357.90 280.70 L 358.15 280.70 L 358.40 280.70 L 358.40 280.70 Z" fill="#acefac" stroke="#5ccf5c" stroke-width="0.4" stroke-opacity="0.6"/>
<path d="M 326.50 280.70 L 326.50 280.70 L 326.75 280.70 L 327.00 280.70 L 327.25 280.70 L 327.50 280.70 L 327.75 280.70 L 328.00 280.70 L 328.25 280.70 L 328.50 280.69 L 328.75 280.69 L 329.00 280.69 L 329.25 280.69 L 329.50 280.68 L 329.75 280.68 L 330.00 280.67 L 330.25 280.66 L 330.50 280.65 L 330.75 280.63 L 331.00 280.61 L 331.25 280.59 L 331.50 280.56 L 331.75 280.52 L 332.00 280.47 L 332.25 280.42 L 332.50 280.35 L 332.75 280.27 L 333.00 280.17 L 333.25 280.06 L 333.50 279.93 L 333.75 279.79 L 334.00 279.62 L 334.25 279.43 L 334.50 279.21 L 334.75 278.97 L 335.00 278.71 L 335.25 278.42 L 335.50 278.10 L 335.75 277.77 L 336.00 277.41 L 336.25 277.04 L 336.50 276.65 L 336.75 276.25 L 337.00 275.85 L 337.25 275.44 L 337.50 275.05 L 337.75 274.66 L 338.00 274.29 L 338.25 273.95 L 338.50 273.64 L 338.75 273.37 L 339.00 273.13 L 339.25 272.95 L 339.50 272.81 L 339.75 272.73 L 340.00 272.70 L 340.25 272.73 L 340.50 272.81 L 340.75 272.95 L 341.00 273.13 L 341.25 273.37 L 341.50 273.64 L 341.75 273.95 L 342.00 274.29 L 342.25 274.66 L 342.50 275.05 L 342.75 275.44 L 343.00 275.85 L 343.25 276.25 L 343.50 276.65 L 343.75 277.04 L 344.00 277.41 L 344.25 277.77 L 344.50 278.10 L 344.75 278.42 L 345.00 278.71 L 345.25 278.97 L 345.50 279.21 L 345.75 279.43 L 346.00 279.62 L 346.25 279.79 L 346.50 279.93 L 346.75 280.06 L 347.00 280.17 L 347.25 280.27 L 347.50 280.35 L 347.75 280.42 L 348.00 280.47 L 348.25 280.52 L 348.50 280.56 L 348.75 280.59 L 349.00 280.61 L 349.25 280.63 L 349.50 280.65 L 349.75 280.66 L 350.00 280.67 L 350.25 280.68 L 350.50 280.68 L 350.75 280.69 L 351.00 280.69 L 351.25 280.69 L 351.50 280.69 L 351.75 280.70 L 352.00 280.70 L 352.25 280.70 L 352.50 280.70 L 352.75 280.70 L 353.00 280.70 L 353.25 280.70 L 353.50 280.70 L 353.50 280.70 Z" fill="rgba(70,222,70,0.72)" stroke="#5ccf5c" stroke-width="0.4" stroke-opacity="0.6"/>
<path d="M 322.30 280.70 L 322.30 280.70 L 322.55 280.70 L 322.80 280.70 L 323.05 280.70 L 323.30 280.70 L 323.55 280.70 L 323.80 280.70 L 324.05 280.70 L 324.30 280.70 L 324.55 280.70 L 324.80 280.69 L 325.05 280.69 L 325.30 280.69 L 325.55 280.69 L 325.80 280.68 L 326.05 280.67 L 326.30 280.67 L 326.55 280.66 L 326.80 280.64 L 327.05 280.63 L 327.30 280.61 L 327.55 280.59 L 327.80 280.56 L 328.05 280.52 L 328.30 280.48 L 328.55 280.43 L 328.80 280.37 L 329.05 280.30 L 329.30 280.22 L 329.55 280.13 L 329.80 280.02 L 330.05 279.90 L 330.30 279.77 L 330.55 279.62 L 330.80 279.45 L 331.05 279.27 L 331.30 279.08 L 331.55 278.87 L 331.80 278.64 L 332.05 278.41 L 332.30 278.17 L 332.55 277.92 L 332.80 277.67 L 333.05 277.42 L 333.30 277.17 L 333.55 276.93 L 333.80 276.70 L 334.05 276.48 L 334.30 276.29 L 334.55 276.12 L 334.80 275.97 L 335.05 275.85 L 335.30 275.77 L 335.55 275.72 L 335.80 275.70 L 336.05 275.72 L 336.30 275.77 L 336.55 275.85 L 336.80 275.97 L 337.05 276.12 L 337.30 276.29 L 337.55 276.48 L 337.80 276.70 L 338.05 276.93 L 338.30 277.17 L 338.55 277.42 L 338.80 277.67 L 339.05 277.92 L 339.30 278.17 L 339.55 278.41 L 339.80 278.64 L 340.05 278.87 L 340.30 279.08 L 340.55 279.27 L 340.80 279.45 L 341.05 279.62 L 341.30 279.77 L 341.55 279.90 L 341.80 280.02 L 342.05 280.13 L 342.30 280.22 L 342.55 280.30 L 342.80 280.37 L 343.05 280.43 L 343.30 280.48 L 343.55 280.52 L 343.80 280.56 L 344.05 280.59 L 344.30 280.61 L 344.55 280.63 L 344.80 280.64 L 345.05 280.66 L 345.30 280.67 L 345.55 280.67 L 345.80 280.68 L 346.05 280.69 L 346.30 280.69 L 346.55 280.69 L 346.80 280.69 L 347.05 280.70 L 347.30 280.70 L 347.55 280.70 L 347.80 280.70 L 348.05 280.70 L 348.30 280.70 L 348.55 280.70 L 348.80 280.70 L 349.05 280.70 L 349.30 280.70 L 349.30 280.70 Z" fill="rgba(70,222,70,0.72)" stroke="#5ccf5c" stroke-width="0.4" stroke-opacity="0.6"/>
<path d="M 296.50 280.70 L 296.75 280.70 L 297.00 280.70 L 297.25 280.70 L 297.50 280.70 L 297.75 280.70 L 298.00 280.70 L 298.25 280.70 L 298.50 280.70 L 298.75 280.70 L 299.00 280.70 L 299.25 280.70 L 299.50 280.70 L 299.75 280.70 L 300.00 280.70 L 300.25 280.70 L 300.50 280.70 L 300.75 280.70 L 301.00 280.70 L 301.25 280.70 L 301.50 280.70 L 301.75 280.70 L 302.00 280.70 L 302.25 280.70 L 302.50 280.70 L 302.75 280.70 L 303.00 280.70 L 303.25 280.70 L 303.50 280.70 L 303.75 280.70 L 304.00 280.70 L 304.25 280.70 L 304.50 280.70 L 304.75 280.70 L 305.00 280.70 L 305.25 280.70 L 305.50 280.70 L 305.75 280.70 L 306.00 280.70 L 306.25 280.70 L 306.50 280.70 L 306.75 280.70 L 307.00 280.70 L 307.25 280.70 L 307.50 280.70 L 307.75 280.70 L 308.00 280.70 L 308.25 280.70 L 308.50 280.70 L 308.75 280.70 L 309.00 280.70 L 309.25 280.70 L 309.50 280.70 L 309.75 280.70 L 310.00 280.70 L 310.25 280.70 L 310.50 280.70 L 310.75 280.70 L 311.00 280.70 L 311.25 280.70 L 311.50 280.69 L 311.75 280.69 L 312.00 280.69 L 312.25 280.68 L 312.50 280.67 L 312.75 280.66 L 313.00 280.64 L 313.25 280.62 L 313.50 280.59 L 313.75 280.56 L 314.00 280.51 L 314.25 280.45 L 314.50 280.37 L 314.75 280.27 L 315.00 280.14 L 315.25 279.98 L 315.50 279.79 L 315.75 279.55 L 316.00 279.27 L 316.25 278.93 L 316.50 278.53 L 316.75 278.06 L 317.00 277.52 L 317.25 276.89 L 317.50 276.18 L 317.75 275.38 L 318.00 274.48 L 318.25 273.49 L 318.50 272.40 L 318.75 271.22 L 319.00 269.94 L 319.25 268.58 L 319.50 267.14 L 319.75 265.64 L 320.00 264.07 L 320.25 262.47 L 320.50 260.83 L 320.75 259.17 L 321.00 257.51 L 321.25 255.85 L 321.50 254.18 L 321.75 252.50 L 322.00 250.76 L 322.25 248.92 L 322.50 246.90 L 322.75 244.61 L 323.00 241.97 L 323.25 238.92 L 323.50 235.43 L 323.75 231.52 L 324.00 227.32 L 324.25 222.97 L 324.50 218.69 L 324.75 214.72 L 325.00 211.27 L 325.25 208.50 L 325.50 206.50 L 325.75 205.25 L 326.00 204.69 L 326.25 204.68 L 326.50 204.96 L 326.75 205.63 L 327.00 206.82 L 327.25 208.60 L 327.50 210.99 L 327.75 213.98 L 328.00 217.50 L 328.25 221.45 L 328.50 225.71 L 328.75 230.11 L 329.00 234.53 L 329.25 238.84 L 329.50 242.91 L 329.75 246.68 L 330.00 250.11 L 330.25 253.17 L 330.50 255.90 L 330.75 258.30 L 331.00 260.44 L 331.25 262.34 L 331.50 264.05 L 331.75 265.59 L 332.00 266.99 L 332.25 268.27 L 332.50 269.43 L 332.75 270.48 L 333.00 271.42 L 333.25 272.26 L 333.50 272.99 L 333.75 273.61 L 334.00 274.13 L 334.25 274.55 L 334.50 274.86 L 334.75 275.08 L 335.00 275.21 L 335.25 275.25 L 335.50 275.21 L 335.75 275.10 L 336.00 274.91 L 336.25 274.67 L 336.50 274.37 L 336.75 274.02 L 337.00 273.63 L 337.25 273.19 L 337.50 272.73 L 337.75 272.24 L 338.00 271.73 L 338.25 271.21 L 338.50 270.67 L 338.75 270.13 L 339.00 269.59 L 339.25 269.06 L 339.50 268.53 L 339.75 268.02 L 340.00 267.53 L 340.25 267.05 L 340.50 266.61 L 340.75 266.19 L 341.00 265.80 L 341.25 265.45 L 341.50 265.13 L 341.75 264.85 L 342.00 264.61 L 342.25 264.42 L 342.50 264.26 L 342.75 264.14 L 343.00 264.06 L 343.25 264.01 L 343.50 264.00 L 343.75 264.03 L 344.00 264.11 L 344.25 264.27 L 344.50 264.51 L 344.75 264.82 L 345.00 265.20 L 345.25 265.66 L 345.50 266.18 L 345.75 266.76 L 346.00 267.39 L 346.25 268.07 L 346.50 268.79 L 346.75 269.53 L 347.00 270.29 L 347.25 271.06 L 347.50 271.83 L 347.75 272.59 L 348.00 273.33 L 348.25 274.05 L 348.50 274.73 L 348.75 275.39 L 349.00 276.00 L 349.25 276.57 L 349.50 277.09 L 349.75 277.57 L 350.00 278.00 L 350.25 278.40 L 350.50 278.74 L 350.75 279.05 L 351.00 279.32 L 351.25 279.55 L 351.50 279.75 L 351.75 279.92 L 352.00 280.07 L 352.25 280.19 L 352.50 280.29 L 352.75 280.37 L 353.00 280.44 L 353.25 280.50 L 353.50 280.54 L 353.75 280.58 L 354.00 280.61 L 354.25 280.63 L 354.50 280.65 L 354.75 280.66 L 355.00 280.67 L 355.25 280.68 L 355.50 280.68 L 355.75 280.69 L 356.00 280.69 L 356.25 280.69 L 356.50 280.70 L 356.75 280.70 L 357.00 280.70 L 357.25 280.70 L 357.50 280.70 L 357.75 280.70 L 358.00 280.70 L 358.25 280.70 L 358.50 280.70 L 358.75 280.70 L 359.00 280.70 L 359.25 280.70 L 359.50 280.70 L 359.75 280.70 L 360.00 280.70 L 360.25 280.70 L 360.50 280.70 L 360.75 280.70 L 361.00 280.70 L 361.25 280.70 L 361.50 280.70 L 361.75 280.70 L 362.00 280.70 L 362.25 280.70 L 362.50 280.70 L 362.75 280.70 L 363.00 280.70 L 363.25 280.70 L 363.50 280.70 L 363.75 280.70 L 364.00 280.70 L 364.25 280.70 L 364.50 280.70 L 364.75 280.70 L 365.00 280.70 L 365.25 280.70 L 365.50 280.70 L 365.75 280.70 L 366.00 280.70 L 366.25 280.70 L 366.50 280.70 L 366.75 280.70 L 367.00 280.70 L 367.25 280.70 L 367.50 280.70 L 367.75 280.70 L 368.00 280.70 L 368.25 280.70 L 368.50 280.70 L 368.75 280.70 L 369.00 280.70 L 369.25 280.70 L 369.50 280.70 L 369.75 280.70 L 370.00 280.70 L 370.25 280.70 L 370.50 280.70 L 370.75 280.70 L 371.00 280.70 L 371.25 280.70 L 371.50 280.70 L 371.75 280.70 L 372.00 280.70 L 372.25 280.70 L 372.50 280.70 L 372.75 280.70 L 373.00 280.70 L 373.25 280.70 L 373.50 280.70 L 373.75 280.70 L 374.00 280.70 L 374.25 280.70 L 374.50 280.70 L 374.75 280.70 L 375.00 280.70 L 375.25 280.70 L 375.50 280.70 L 375.75 280.70 L 376.00 280.70 L 376.25 280.70 L 376.50 280.70 L 376.75 280.70 L 377.00 280.70 L 377.25 280.70 L 377.50 280.70 L 377.75 280.70 L 378.00 280.70 L 378.25 280.70 L 378.50 280.70 L 378.75 280.70 L 379.00 280.70 L 379.25 280.70 L 379.50 280.70 L 379.75 280.70 L 380.00 280.70 L 380.25 280.70 L 380.50 280.70 L 380.75 280.70 L 381.00 280.70 L 381.25 280.70 L 381.50 280.70" fill="none" stroke="#383838" stroke-width="0.75"/>
<text x="326.90" y="223.50" font-size="7.2" fill="#222" text-anchor="middle" stroke="#222" stroke-width="0.1">3</text>
<text x="322.20" y="252.20" font-size="7.2" fill="#222" text-anchor="middle" stroke="#222" stroke-width="0.1">4</text>
<text x="336.20" y="273.20" font-size="7.2" fill="#222" text-anchor="middle" stroke="#222" stroke-width="0.1">2</text>
<text x="342.00" y="266.20" font-size="7.2" fill="#222" text-anchor="middle" stroke="#222" stroke-width="0.1">1</text>
<text x="346.30" y="262.70" font-size="7.2" fill="#222" text-anchor="middle" stroke="#222" stroke-width="0.1">0</text>
<rect x="296.00" y="191.40" width="86.00" height="89.30" fill="none" stroke="#231f20" stroke-width="1.5"/>
<line x1="294.00" y1="254.30" x2="296.00" y2="254.30" stroke="#231f20" stroke-width="0.6"/>
<text x="291.70" y="256.10" font-size="7.9" fill="#231f20" text-anchor="end" textLength="12.40" lengthAdjust="spacingAndGlyphs" stroke="#231f20" stroke-width="0.18">100</text>
<line x1="294.00" y1="227.60" x2="296.00" y2="227.60" stroke="#231f20" stroke-width="0.6"/>
<text x="291.70" y="229.40" font-size="7.9" fill="#231f20" text-anchor="end" textLength="12.40" lengthAdjust="spacingAndGlyphs" stroke="#231f20" stroke-width="0.18">200</text>
<line x1="294.00" y1="200.90" x2="296.00" y2="200.90" stroke="#231f20" stroke-width="0.6"/>
<text x="291.70" y="202.70" font-size="7.9" fill="#231f20" text-anchor="end" textLength="12.40" lengthAdjust="spacingAndGlyphs" stroke="#231f20" stroke-width="0.18">300</text>
<text x="306.60" y="290.90" font-size="7.9" fill="#231f20">10<tspan font-size="5.3" dy="-3.2">1</tspan></text>
<line x1="310.90" y1="280.70" x2="310.90" y2="281.90" stroke="#231f20" stroke-width="0.5"/>
<text x="323.50" y="290.90" font-size="7.9" fill="#231f20">10<tspan font-size="5.3" dy="-3.2">2</tspan></text>
<line x1="327.80" y1="280.70" x2="327.80" y2="281.90" stroke="#231f20" stroke-width="0.5"/>
<text x="340.40" y="290.90" font-size="7.9" fill="#231f20">10<tspan font-size="5.3" dy="-3.2">3</tspan></text>
<line x1="344.70" y1="280.70" x2="344.70" y2="281.90" stroke="#231f20" stroke-width="0.5"/>
<text x="357.30" y="290.90" font-size="7.9" fill="#231f20">10<tspan font-size="5.3" dy="-3.2">4</tspan></text>
<line x1="361.60" y1="280.70" x2="361.60" y2="281.90" stroke="#231f20" stroke-width="0.5"/>
<text x="374.20" y="290.90" font-size="7.9" fill="#231f20">10<tspan font-size="5.3" dy="-3.2">5</tspan></text>
<line x1="378.50" y1="280.70" x2="378.50" y2="281.90" stroke="#231f20" stroke-width="0.5"/>
<text x="460.45" y="187.40" font-size="8.1" fill="#2f5f8f" text-anchor="middle" textLength="35.10" lengthAdjust="spacingAndGlyphs" stroke="#2f5f8f" stroke-width="0.1">PLT+OVA</text>
<path d="M 434.30 280.70 L 434.30 280.70 L 434.55 280.70 L 434.80 280.70 L 435.05 280.70 L 435.30 280.70 L 435.55 280.70 L 435.80 280.70 L 436.05 280.70 L 436.30 280.69 L 436.55 280.69 L 436.80 280.68 L 437.05 280.67 L 437.30 280.66 L 437.55 280.64 L 437.80 280.61 L 438.05 280.57 L 438.30 280.51 L 438.55 280.42 L 438.80 280.31 L 439.05 280.15 L 439.30 279.94 L 439.55 279.67 L 439.80 279.31 L 440.05 278.84 L 440.30 278.26 L 440.55 277.52 L 440.80 276.61 L 441.05 275.50 L 441.30 274.17 L 441.55 272.59 L 441.80 270.75 L 442.05 268.64 L 442.30 266.25 L 442.55 263.59 L 442.80 260.68 L 443.05 257.55 L 443.30 254.24 L 443.55 250.82 L 443.80 247.35 L 444.05 243.91 L 444.30 240.60 L 444.55 237.50 L 444.80 234.71 L 445.05 232.31 L 445.30 230.39 L 445.55 229.00 L 445.80 228.20 L 446.05 228.01 L 446.30 228.35 L 446.55 229.17 L 446.80 230.44 L 447.05 232.13 L 447.30 234.19 L 447.55 236.58 L 447.80 239.23 L 448.05 242.08 L 448.30 245.06 L 448.55 248.12 L 448.80 251.19 L 449.05 254.22 L 449.30 257.15 L 449.55 259.95 L 449.80 262.59 L 450.05 265.04 L 450.30 267.28 L 450.55 269.30 L 450.80 271.11 L 451.05 272.71 L 451.30 274.10 L 451.55 275.30 L 451.80 276.32 L 452.05 277.18 L 452.30 277.90 L 452.55 278.49 L 452.80 278.98 L 453.05 279.37 L 453.30 279.68 L 453.55 279.92 L 453.80 280.11 L 454.05 280.26 L 454.30 280.38 L 454.55 280.46 L 454.80 280.53 L 455.05 280.58 L 455.30 280.61 L 455.55 280.64 L 455.80 280.66 L 456.05 280.67 L 456.30 280.68 L 456.55 280.69 L 456.80 280.69 L 457.05 280.69 L 457.30 280.70 L 457.55 280.70 L 457.70 280.70 Z" fill="#9ae99a" stroke="#5ccf5c" stroke-width="0.4" stroke-opacity="0.6"/>
<path d="M 431.70 280.70 L 431.70 280.70 L 431.95 280.70 L 432.20 280.70 L 432.45 280.70 L 432.70 280.70 L 432.95 280.70 L 433.20 280.70 L 433.45 280.70 L 433.70 280.70 L 433.95 280.70 L 434.20 280.70 L 434.45 280.70 L 434.70 280.70 L 434.95 280.70 L 435.20 280.70 L 435.45 280.70 L 435.70 280.69 L 435.95 280.69 L 436.20 280.68 L 436.45 280.67 L 436.70 280.65 L 436.95 280.62 L 437.20 280.58 L 437.45 280.52 L 437.70 280.43 L 437.95 280.31 L 438.20 280.13 L 438.45 279.89 L 438.70 279.57 L 438.95 279.15 L 439.20 278.61 L 439.45 277.93 L 439.70 277.10 L 439.95 276.08 L 440.20 274.89 L 440.45 273.51 L 440.70 271.96 L 440.95 270.25 L 441.20 268.42 L 441.45 266.53 L 441.70 264.62 L 441.95 262.76 L 442.20 261.04 L 442.45 259.52 L 442.70 258.27 L 442.95 257.36 L 443.20 256.83 L 443.45 256.70 L 443.70 256.86 L 443.95 257.23 L 444.20 257.81 L 444.45 258.58 L 444.70 259.52 L 444.95 260.61 L 445.20 261.81 L 445.45 263.11 L 445.70 264.47 L 445.95 265.86 L 446.20 267.26 L 446.45 268.64 L 446.70 269.97 L 446.95 271.25 L 447.20 272.45 L 447.45 273.57 L 447.70 274.59 L 447.95 275.51 L 448.20 276.33 L 448.45 277.06 L 448.70 277.69 L 448.95 278.24 L 449.20 278.71 L 449.45 279.10 L 449.70 279.43 L 449.95 279.70 L 450.20 279.91 L 450.45 280.09 L 450.70 280.23 L 450.95 280.35 L 451.20 280.43 L 451.45 280.50 L 451.70 280.55 L 451.95 280.59 L 452.20 280.62 L 452.45 280.64 L 452.70 280.66 L 452.95 280.67 L 453.20 280.68 L 453.45 280.69 L 453.70 280.69 L 453.95 280.69 L 454.20 280.70 L 454.45 280.70 L 454.70 280.70 L 454.95 280.70 L 455.10 280.70 Z" fill="rgba(70,222,70,0.72)" stroke="#5ccf5c" stroke-width="0.4" stroke-opacity="0.6"/>
<path d="M 429.90 280.70 L 429.90 280.70 L 430.15 280.70 L 430.40 280.70 L 430.65 280.70 L 430.90 280.70 L 431.15 280.70 L 431.40 280.70 L 431.65 280.70 L 431.90 280.70 L 432.15 280.70 L 432.40 280.70 L 432.65 280.70 L 432.90 280.70 L 433.15 280.70 L 433.40 280.70 L 433.65 280.70 L 433.90 280.70 L 434.15 280.69 L 434.40 280.69 L 434.65 280.68 L 434.90 280.67 L 435.15 280.66 L 435.40 280.63 L 435.65 280.60 L 435.90 280.54 L 436.15 280.47 L 436.40 280.37 L 436.65 280.23 L 436.90 280.04 L 437.15 279.80 L 437.40 279.48 L 437.65 279.09 L 437.90 278.60 L 438.15 278.01 L 438.40 277.31 L 438.65 276.51 L 438.90 275.60 L 439.15 274.60 L 439.40 273.54 L 439.65 272.43 L 439.90 271.32 L 440.15 270.24 L 440.40 269.23 L 440.65 268.35 L 440.90 267.62 L 441.15 267.09 L 441.40 266.78 L 441.65 266.70 L 441.90 266.79 L 442.15 267.01 L 442.40 267.35 L 442.65 267.80 L 442.90 268.35 L 443.15 268.98 L 443.40 269.68 L 443.65 270.44 L 443.90 271.23 L 444.15 272.05 L 444.40 272.86 L 444.65 273.66 L 444.90 274.44 L 445.15 275.19 L 445.40 275.89 L 445.65 276.54 L 445.90 277.13 L 446.15 277.67 L 446.40 278.15 L 446.65 278.58 L 446.90 278.95 L 447.15 279.27 L 447.40 279.54 L 447.65 279.77 L 447.90 279.96 L 448.15 280.11 L 448.40 280.24 L 448.65 280.35 L 448.90 280.43 L 449.15 280.49 L 449.40 280.54 L 449.65 280.58 L 449.90 280.61 L 450.15 280.64 L 450.40 280.65 L 450.65 280.67 L 450.90 280.68 L 451.15 280.68 L 451.40 280.69 L 451.65 280.69 L 451.90 280.69 L 452.15 280.70 L 452.40 280.70 L 452.65 280.70 L 452.90 280.70 L 453.15 280.70 L 453.30 280.70 Z" fill="rgba(70,222,70,0.72)" stroke="#5ccf5c" stroke-width="0.4" stroke-opacity="0.6"/>
<path d="M 438.30 280.70 L 438.30 280.70 L 438.55 280.70 L 438.80 280.70 L 439.05 280.70 L 439.30 280.69 L 439.55 280.69 L 439.80 280.69 L 440.05 280.68 L 440.30 280.67 L 440.55 280.66 L 440.80 280.65 L 441.05 280.63 L 441.30 280.60 L 441.55 280.56 L 441.80 280.51 L 442.05 280.45 L 442.30 280.36 L 442.55 280.25 L 442.80 280.12 L 443.05 279.94 L 443.30 279.72 L 443.55 279.46 L 443.80 279.13 L 444.05 278.73 L 444.30 278.26 L 444.55 277.70 L 444.80 277.05 L 445.05 276.29 L 445.30 275.43 L 445.55 274.46 L 445.80 273.38 L 446.05 272.19 L 446.30 270.89 L 446.55 269.50 L 446.80 268.04 L 447.05 266.52 L 447.30 264.95 L 447.55 263.38 L 447.80 261.82 L 448.05 260.32 L 448.30 258.90 L 448.55 257.59 L 448.80 256.43 L 449.05 255.44 L 449.30 254.66 L 449.55 254.10 L 449.80 253.78 L 450.05 253.70 L 450.30 253.88 L 450.55 254.30 L 450.80 254.95 L 451.05 255.81 L 451.30 256.87 L 451.55 258.10 L 451.80 259.45 L 452.05 260.91 L 452.30 262.44 L 452.55 264.01 L 452.80 265.58 L 453.05 267.13 L 453.30 268.63 L 453.55 270.07 L 453.80 271.42 L 454.05 272.67 L 454.30 273.82 L 454.55 274.86 L 454.80 275.79 L 455.05 276.61 L 455.30 277.32 L 455.55 277.93 L 455.80 278.46 L 456.05 278.90 L 456.30 279.27 L 456.55 279.57 L 456.80 279.82 L 457.05 280.02 L 457.30 280.18 L 457.55 280.30 L 457.80 280.40 L 458.05 280.48 L 458.30 280.53 L 458.55 280.58 L 458.80 280.61 L 459.05 280.64 L 459.30 280.66 L 459.55 280.67 L 459.80 280.68 L 460.05 280.68 L 460.30 280.69 L 460.55 280.69 L 460.80 280.70 L 461.05 280.70 L 461.30 280.70 L 461.55 280.70 L 461.70 280.70 Z" fill="rgba(90,226,90,0.6)" stroke="#5ccf5c" stroke-width="0.4" stroke-opacity="0.6"/>
<path d="M 444.75 280.70 L 444.75 280.70 L 445.00 280.70 L 445.25 280.70 L 445.50 280.70 L 445.75 280.70 L 446.00 280.70 L 446.25 280.69 L 446.50 280.69 L 446.75 280.69 L 447.00 280.68 L 447.25 280.68 L 447.50 280.67 L 447.75 280.65 L 448.00 280.63 L 448.25 280.61 L 448.50 280.58 L 448.75 280.54 L 449.00 280.48 L 449.25 280.41 L 449.50 280.33 L 449.75 280.22 L 450.00 280.08 L 450.25 279.92 L 450.50 279.72 L 450.75 279.49 L 451.00 279.21 L 451.25 278.89 L 451.50 278.52 L 451.75 278.11 L 452.00 277.64 L 452.25 277.13 L 452.50 276.57 L 452.75 275.97 L 453.00 275.35 L 453.25 274.69 L 453.50 274.03 L 453.75 273.36 L 454.00 272.71 L 454.25 272.09 L 454.50 271.51 L 454.75 270.99 L 455.00 270.55 L 455.25 270.18 L 455.50 269.92 L 455.75 269.75 L 456.00 269.70 L 456.25 269.75 L 456.50 269.92 L 456.75 270.18 L 457.00 270.55 L 457.25 270.99 L 457.50 271.51 L 457.75 272.09 L 458.00 272.71 L 458.25 273.36 L 458.50 274.03 L 458.75 274.69 L 459.00 275.35 L 459.25 275.97 L 459.50 276.57 L 459.75 277.13 L 460.00 277.64 L 460.25 278.11 L 460.50 278.52 L 460.75 278.89 L 461.00 279.21 L 461.25 279.49 L 461.50 279.72 L 461.75 279.92 L 462.00 280.08 L 462.25 280.22 L 462.50 280.33 L 462.75 280.41 L 463.00 280.48 L 463.25 280.54 L 463.50 280.58 L 463.75 280.61 L 464.00 280.63 L 464.25 280.65 L 464.50 280.67 L 464.75 280.68 L 465.00 280.68 L 465.25 280.69 L 465.50 280.69 L 465.75 280.69 L 466.00 280.70 L 466.25 280.70 L 466.50 280.70 L 466.75 280.70 L 467.00 280.70 L 467.25 280.70 L 467.25 280.70 Z" fill="rgba(90,226,90,0.6)" stroke="#5ccf5c" stroke-width="0.4" stroke-opacity="0.6"/>
<path d="M 451.80 280.70 L 451.80 280.70 L 452.05 280.70 L 452.30 280.70 L 452.55 280.70 L 452.80 280.70 L 453.05 280.70 L 453.30 280.70 L 453.55 280.70 L 453.80 280.70 L 454.05 280.70 L 454.30 280.69 L 454.55 280.69 L 454.80 280.68 L 455.05 280.66 L 455.30 280.63 L 455.55 280.59 L 455.80 280.51 L 456.05 280.40 L 456.30 280.23 L 456.55 279.97 L 456.80 279.61 L 457.05 279.12 L 457.30 278.44 L 457.55 277.56 L 457.80 276.44 L 458.05 275.06 L 458.30 273.41 L 458.55 271.51 L 458.80 269.39 L 459.05 267.12 L 459.30 264.78 L 459.55 262.50 L 459.80 260.38 L 460.05 258.57 L 460.30 257.18 L 460.55 256.30 L 460.80 256.00 L 461.05 256.19 L 461.30 256.76 L 461.55 257.68 L 461.80 258.90 L 462.05 260.38 L 462.30 262.06 L 462.55 263.86 L 462.80 265.72 L 463.05 267.58 L 463.30 269.39 L 463.55 271.10 L 463.80 272.68 L 464.05 274.10 L 464.30 275.36 L 464.55 276.44 L 464.80 277.36 L 465.05 278.12 L 465.30 278.73 L 465.55 279.23 L 465.80 279.61 L 466.05 279.91 L 466.30 280.14 L 466.55 280.30 L 466.80 280.43 L 467.05 280.51 L 467.30 280.57 L 467.55 280.62 L 467.80 280.65 L 468.05 280.67 L 468.30 280.68 L 468.55 280.69 L 468.80 280.69 L 469.05 280.70 L 469.30 280.70 L 469.55 280.70 L 469.80 280.70 L 469.80 280.70 Z" fill="#acefac" stroke="#5ccf5c" stroke-width="0.4" stroke-opacity="0.6"/>
<path d="M 418.00 280.70 C 419.67 280.68, 425.78 280.63, 428.00 280.60 C 430.22 280.57, 430.20 280.67, 431.30 280.50 C 432.40 280.33, 433.48 280.32, 434.60 279.60 C 435.72 278.88, 437.12 277.87, 438.00 276.20 C 438.88 274.53, 439.35 272.02, 439.90 269.60 C 440.45 267.18, 440.92 264.80, 441.30 261.70 C 441.68 258.60, 441.93 254.98, 442.20 251.00 C 442.47 247.02, 442.68 242.22, 442.90 237.80 C 443.12 233.38, 443.25 228.92, 443.50 224.50 C 443.75 220.08, 444.12 214.55, 444.40 211.30 C 444.68 208.05, 444.95 206.45, 445.20 205.00 C 445.45 203.55, 445.67 202.60, 445.90 202.60 C 446.13 202.60, 446.33 203.55, 446.60 205.00 C 446.87 206.45, 447.17 208.05, 447.50 211.30 C 447.83 214.55, 448.25 220.08, 448.60 224.50 C 448.95 228.92, 449.27 234.47, 449.60 237.80 C 449.93 241.13, 450.30 242.30, 450.60 244.50 C 450.90 246.70, 451.08 248.80, 451.40 251.00 C 451.72 253.20, 451.98 255.92, 452.50 257.70 C 453.02 259.48, 453.83 260.15, 454.50 261.70 C 455.17 263.25, 455.93 265.78, 456.50 267.00 C 457.07 268.22, 457.42 270.12, 457.90 269.00 C 458.38 267.88, 458.92 262.63, 459.40 260.30 C 459.88 257.97, 460.40 255.00, 460.80 255.00 C 461.20 255.00, 461.40 257.42, 461.80 260.30 C 462.20 263.18, 462.72 269.42, 463.20 272.30 C 463.68 275.18, 463.93 276.38, 464.70 277.60 C 465.47 278.82, 466.95 279.13, 467.80 279.60 C 468.65 280.07, 464.00 280.22, 469.80 280.40 C 475.60 280.58, 497.13 280.65, 502.60 280.70" fill="none" stroke="#383838" stroke-width="0.75"/>
<text x="446.30" y="227.00" font-size="7.2" fill="#222" text-anchor="middle" stroke="#222" stroke-width="0.1">3</text>
<text x="451.40" y="252.90" font-size="7.2" fill="#222" text-anchor="middle" stroke="#222" stroke-width="0.1">2</text>
<text x="460.30" y="252.20" font-size="7.2" fill="#222" text-anchor="middle" stroke="#222" stroke-width="0.1">0</text>
<text x="444.90" y="257.10" font-size="7.2" fill="#222" text-anchor="middle" stroke="#222" stroke-width="0.1">4</text>
<text x="442.50" y="265.50" font-size="7.2" fill="#222" text-anchor="middle" stroke="#222" stroke-width="0.1">5</text>
<text x="455.20" y="266.20" font-size="7.2" fill="#222" text-anchor="middle" stroke="#222" stroke-width="0.1">1</text>
<rect x="417.30" y="191.40" width="86.10" height="89.30" fill="none" stroke="#231f20" stroke-width="1.5"/>
<line x1="415.30" y1="254.30" x2="417.30" y2="254.30" stroke="#231f20" stroke-width="0.6"/>
<text x="413.00" y="256.10" font-size="7.9" fill="#231f20" text-anchor="end" textLength="12.40" lengthAdjust="spacingAndGlyphs" stroke="#231f20" stroke-width="0.18">100</text>
<line x1="415.30" y1="227.60" x2="417.30" y2="227.60" stroke="#231f20" stroke-width="0.6"/>
<text x="413.00" y="229.40" font-size="7.9" fill="#231f20" text-anchor="end" textLength="12.40" lengthAdjust="spacingAndGlyphs" stroke="#231f20" stroke-width="0.18">200</text>
<line x1="415.30" y1="200.90" x2="417.30" y2="200.90" stroke="#231f20" stroke-width="0.6"/>
<text x="413.00" y="202.70" font-size="7.9" fill="#231f20" text-anchor="end" textLength="12.40" lengthAdjust="spacingAndGlyphs" stroke="#231f20" stroke-width="0.18">300</text>
<text x="427.90" y="290.90" font-size="7.9" fill="#231f20">10<tspan font-size="5.3" dy="-3.2">1</tspan></text>
<line x1="432.20" y1="280.70" x2="432.20" y2="281.90" stroke="#231f20" stroke-width="0.5"/>
<text x="444.80" y="290.90" font-size="7.9" fill="#231f20">10<tspan font-size="5.3" dy="-3.2">2</tspan></text>
<line x1="449.10" y1="280.70" x2="449.10" y2="281.90" stroke="#231f20" stroke-width="0.5"/>
<text x="461.70" y="290.90" font-size="7.9" fill="#231f20">10<tspan font-size="5.3" dy="-3.2">3</tspan></text>
<line x1="466.00" y1="280.70" x2="466.00" y2="281.90" stroke="#231f20" stroke-width="0.5"/>
<text x="478.60" y="290.90" font-size="7.9" fill="#231f20">10<tspan font-size="5.3" dy="-3.2">4</tspan></text>
<line x1="482.90" y1="280.70" x2="482.90" y2="281.90" stroke="#231f20" stroke-width="0.5"/>
<text x="495.50" y="290.90" font-size="7.9" fill="#231f20">10<tspan font-size="5.3" dy="-3.2">5</tspan></text>
<line x1="499.80" y1="280.70" x2="499.80" y2="281.90" stroke="#231f20" stroke-width="0.5"/>
<text x="337.70" y="309.00" font-size="8.1" fill="#3fbf5f" text-anchor="middle" textLength="28.40" lengthAdjust="spacingAndGlyphs" stroke="#3fbf5f" stroke-width="0.1">PEV+PP</text>
<path d="M 337.32 402.30 L 337.32 402.30 L 337.57 402.30 L 337.82 402.30 L 338.07 402.30 L 338.32 402.30 L 338.57 402.30 L 338.82 402.30 L 339.07 402.29 L 339.32 402.28 L 339.57 402.26 L 339.82 402.23 L 340.07 402.17 L 340.32 402.06 L 340.57 401.88 L 340.82 401.58 L 341.07 401.11 L 341.32 400.39 L 341.57 399.31 L 341.82 397.77 L 342.07 395.63 L 342.32 392.78 L 342.57 389.09 L 342.82 384.52 L 343.07 379.07 L 343.32 372.83 L 343.57 366.01 L 343.82 358.92 L 344.07 351.97 L 344.32 345.62 L 344.57 340.33 L 344.82 336.54 L 345.07 334.55 L 345.32 334.47 L 345.57 335.84 L 345.82 338.50 L 346.07 342.29 L 346.32 346.99 L 346.57 352.36 L 346.82 358.12 L 347.07 364.00 L 347.32 369.77 L 347.57 375.23 L 347.82 380.22 L 348.07 384.66 L 348.32 388.49 L 348.57 391.71 L 348.82 394.34 L 349.07 396.44 L 349.32 398.07 L 349.57 399.31 L 349.82 400.23 L 350.07 400.90 L 350.32 401.37 L 350.57 401.69 L 350.82 401.91 L 351.07 402.06 L 351.32 402.15 L 351.57 402.21 L 351.82 402.25 L 352.07 402.27 L 352.32 402.28 L 352.57 402.29 L 352.82 402.29 L 353.07 402.30 L 353.07 402.30 Z" fill="#9ae99a" stroke="#5ccf5c" stroke-width="0.4" stroke-opacity="0.6"/>
<path d="M 332.00 402.30 L 332.00 402.30 L 332.25 402.30 L 332.50 402.30 L 332.75 402.30 L 333.00 402.30 L 333.25 402.30 L 333.50 402.30 L 333.75 402.29 L 334.00 402.29 L 334.25 402.28 L 334.50 402.28 L 334.75 402.27 L 335.00 402.25 L 335.25 402.23 L 335.50 402.20 L 335.75 402.16 L 336.00 402.10 L 336.25 402.03 L 336.50 401.94 L 336.75 401.83 L 337.00 401.69 L 337.25 401.52 L 337.50 401.33 L 337.75 401.10 L 338.00 400.84 L 338.25 400.55 L 338.50 400.24 L 338.75 399.91 L 339.00 399.57 L 339.25 399.23 L 339.50 398.90 L 339.75 398.60 L 340.00 398.33 L 340.25 398.11 L 340.50 397.94 L 340.75 397.84 L 341.00 397.80 L 341.25 397.84 L 341.50 397.94 L 341.75 398.11 L 342.00 398.33 L 342.25 398.60 L 342.50 398.90 L 342.75 399.23 L 343.00 399.57 L 343.25 399.91 L 343.50 400.24 L 343.75 400.55 L 344.00 400.84 L 344.25 401.10 L 344.50 401.33 L 344.75 401.52 L 345.00 401.69 L 345.25 401.83 L 345.50 401.94 L 345.75 402.03 L 346.00 402.10 L 346.25 402.16 L 346.50 402.20 L 346.75 402.23 L 347.00 402.25 L 347.25 402.27 L 347.50 402.28 L 347.75 402.28 L 348.00 402.29 L 348.25 402.29 L 348.50 402.30 L 348.75 402.30 L 349.00 402.30 L 349.25 402.30 L 349.50 402.30 L 349.75 402.30 L 350.00 402.30 L 350.00 402.30 Z" fill="#4ddd4d" stroke="#5ccf5c" stroke-width="0.4" stroke-opacity="0.6"/>
<path d="M 322.50 402.30 L 322.50 402.30 L 322.75 402.30 L 323.00 402.30 L 323.25 402.30 L 323.50 402.30 L 323.75 402.30 L 324.00 402.30 L 324.25 402.30 L 324.50 402.30 L 324.75 402.30 L 325.00 402.30 L 325.25 402.30 L 325.50 402.29 L 325.75 402.29 L 326.00 402.29 L 326.25 402.28 L 326.50 402.28 L 326.75 402.27 L 327.00 402.27 L 327.25 402.26 L 327.50 402.25 L 327.75 402.23 L 328.00 402.21 L 328.25 402.19 L 328.50 402.17 L 328.75 402.14 L 329.00 402.10 L 329.25 402.06 L 329.50 402.01 L 329.75 401.96 L 330.00 401.89 L 330.25 401.82 L 330.50 401.74 L 330.75 401.65 L 331.00 401.55 L 331.25 401.44 L 331.50 401.33 L 331.75 401.20 L 332.00 401.07 L 332.25 400.93 L 332.50 400.78 L 332.75 400.63 L 333.00 400.48 L 333.25 400.33 L 333.50 400.18 L 333.75 400.04 L 334.00 399.90 L 334.25 399.77 L 334.50 399.65 L 334.75 399.55 L 335.00 399.46 L 335.25 399.39 L 335.50 399.34 L 335.75 399.31 L 336.00 399.30 L 336.25 399.31 L 336.50 399.34 L 336.75 399.39 L 337.00 399.46 L 337.25 399.55 L 337.50 399.65 L 337.75 399.77 L 338.00 399.90 L 338.25 400.04 L 338.50 400.18 L 338.75 400.33 L 339.00 400.48 L 339.25 400.63 L 339.50 400.78 L 339.75 400.93 L 340.00 401.07 L 340.25 401.20 L 340.50 401.33 L 340.75 401.44 L 341.00 401.55 L 341.25 401.65 L 341.50 401.74 L 341.75 401.82 L 342.00 401.89 L 342.25 401.96 L 342.50 402.01 L 342.75 402.06 L 343.00 402.10 L 343.25 402.14 L 343.50 402.17 L 343.75 402.19 L 344.00 402.21 L 344.25 402.23 L 344.50 402.25 L 344.75 402.26 L 345.00 402.27 L 345.25 402.27 L 345.50 402.28 L 345.75 402.28 L 346.00 402.29 L 346.25 402.29 L 346.50 402.29 L 346.75 402.30 L 347.00 402.30 L 347.25 402.30 L 347.50 402.30 L 347.75 402.30 L 348.00 402.30 L 348.25 402.30 L 348.50 402.30 L 348.75 402.30 L 349.00 402.30 L 349.25 402.30 L 349.50 402.30 L 349.50 402.30 Z" fill="rgba(70,222,70,0.72)" stroke="#5ccf5c" stroke-width="0.4" stroke-opacity="0.6"/>
<path d="M 311.00 402.30 L 311.00 402.30 L 311.25 402.30 L 311.50 402.30 L 311.75 402.30 L 312.00 402.30 L 312.25 402.30 L 312.50 402.30 L 312.75 402.30 L 313.00 402.30 L 313.25 402.30 L 313.50 402.30 L 313.75 402.30 L 314.00 402.30 L 314.25 402.30 L 314.50 402.30 L 314.75 402.30 L 315.00 402.30 L 315.25 402.30 L 315.50 402.29 L 315.75 402.29 L 316.00 402.29 L 316.25 402.29 L 316.50 402.29 L 316.75 402.28 L 317.00 402.28 L 317.25 402.28 L 317.50 402.27 L 317.75 402.27 L 318.00 402.26 L 318.25 402.25 L 318.50 402.24 L 318.75 402.23 L 319.00 402.22 L 319.25 402.21 L 319.50 402.19 L 319.75 402.18 L 320.00 402.16 L 320.25 402.14 L 320.50 402.11 L 320.75 402.09 L 321.00 402.06 L 321.25 402.02 L 321.50 401.99 L 321.75 401.95 L 322.00 401.91 L 322.25 401.87 L 322.50 401.82 L 322.75 401.77 L 323.00 401.72 L 323.25 401.66 L 323.50 401.60 L 323.75 401.54 L 324.00 401.48 L 324.25 401.41 L 324.50 401.34 L 324.75 401.28 L 325.00 401.21 L 325.25 401.14 L 325.50 401.07 L 325.75 401.01 L 326.00 400.94 L 326.25 400.88 L 326.50 400.82 L 326.75 400.76 L 327.00 400.71 L 327.25 400.66 L 327.50 400.62 L 327.75 400.59 L 328.00 400.56 L 328.25 400.53 L 328.50 400.51 L 328.75 400.50 L 329.00 400.50 L 329.25 400.50 L 329.50 400.51 L 329.75 400.53 L 330.00 400.56 L 330.25 400.59 L 330.50 400.62 L 330.75 400.66 L 331.00 400.71 L 331.25 400.76 L 331.50 400.82 L 331.75 400.88 L 332.00 400.94 L 332.25 401.01 L 332.50 401.07 L 332.75 401.14 L 333.00 401.21 L 333.25 401.28 L 333.50 401.34 L 333.75 401.41 L 334.00 401.48 L 334.25 401.54 L 334.50 401.60 L 334.75 401.66 L 335.00 401.72 L 335.25 401.77 L 335.50 401.82 L 335.75 401.87 L 336.00 401.91 L 336.25 401.95 L 336.50 401.99 L 336.75 402.02 L 337.00 402.06 L 337.25 402.09 L 337.50 402.11 L 337.75 402.14 L 338.00 402.16 L 338.25 402.18 L 338.50 402.19 L 338.75 402.21 L 339.00 402.22 L 339.25 402.23 L 339.50 402.24 L 339.75 402.25 L 340.00 402.26 L 340.25 402.27 L 340.50 402.27 L 340.75 402.28 L 341.00 402.28 L 341.25 402.28 L 341.50 402.29 L 341.75 402.29 L 342.00 402.29 L 342.25 402.29 L 342.50 402.29 L 342.75 402.30 L 343.00 402.30 L 343.25 402.30 L 343.50 402.30 L 343.75 402.30 L 344.00 402.30 L 344.25 402.30 L 344.50 402.30 L 344.75 402.30 L 345.00 402.30 L 345.25 402.30 L 345.50 402.30 L 345.75 402.30 L 346.00 402.30 L 346.25 402.30 L 346.50 402.30 L 346.75 402.30 L 347.00 402.30 L 347.00 402.30 Z" fill="rgba(70,222,70,0.72)" stroke="#5ccf5c" stroke-width="0.4" stroke-opacity="0.6"/>
<path d="M 295.60 402.30 L 295.85 402.30 L 296.10 402.30 L 296.35 402.30 L 296.60 402.30 L 296.85 402.30 L 297.10 402.30 L 297.35 402.30 L 297.60 402.30 L 297.85 402.30 L 298.10 402.30 L 298.35 402.30 L 298.60 402.30 L 298.85 402.30 L 299.10 402.30 L 299.35 402.30 L 299.60 402.30 L 299.85 402.30 L 300.10 402.30 L 300.35 402.30 L 300.60 402.30 L 300.85 402.30 L 301.10 402.30 L 301.35 402.30 L 301.60 402.30 L 301.85 402.30 L 302.10 402.30 L 302.35 402.30 L 302.60 402.30 L 302.85 402.30 L 303.10 402.30 L 303.35 402.30 L 303.60 402.30 L 303.85 402.30 L 304.10 402.30 L 304.35 402.30 L 304.60 402.30 L 304.85 402.30 L 305.10 402.30 L 305.35 402.30 L 305.60 402.30 L 305.85 402.30 L 306.10 402.30 L 306.35 402.30 L 306.60 402.30 L 306.85 402.30 L 307.10 402.30 L 307.35 402.30 L 307.60 402.30 L 307.85 402.30 L 308.10 402.30 L 308.35 402.30 L 308.60 402.30 L 308.85 402.30 L 309.10 402.30 L 309.35 402.30 L 309.60 402.30 L 309.85 402.30 L 310.10 402.30 L 310.35 402.30 L 310.60 402.30 L 310.85 402.30 L 311.10 402.30 L 311.35 402.30 L 311.60 402.30 L 311.85 402.30 L 312.10 402.30 L 312.35 402.30 L 312.60 402.30 L 312.85 402.30 L 313.10 402.30 L 313.35 402.30 L 313.60 402.30 L 313.85 402.30 L 314.10 402.30 L 314.35 402.30 L 314.60 402.29 L 314.85 402.29 L 315.10 402.29 L 315.35 402.29 L 315.60 402.29 L 315.85 402.29 L 316.10 402.28 L 316.35 402.28 L 316.60 402.27 L 316.85 402.27 L 317.10 402.26 L 317.35 402.26 L 317.60 402.25 L 317.85 402.24 L 318.10 402.23 L 318.35 402.22 L 318.60 402.21 L 318.85 402.19 L 319.10 402.17 L 319.35 402.16 L 319.60 402.13 L 319.85 402.11 L 320.10 402.09 L 320.35 402.06 L 320.60 402.03 L 320.85 402.00 L 321.10 401.96 L 321.35 401.92 L 321.60 401.88 L 321.85 401.84 L 322.10 401.79 L 322.35 401.75 L 322.60 401.70 L 322.85 401.64 L 323.10 401.59 L 323.35 401.54 L 323.60 401.48 L 323.85 401.42 L 324.10 401.36 L 324.35 401.31 L 324.60 401.25 L 324.85 401.19 L 325.10 401.14 L 325.35 401.08 L 325.60 401.03 L 325.85 400.98 L 326.10 400.93 L 326.35 400.88 L 326.60 400.84 L 326.85 400.80 L 327.10 400.76 L 327.35 400.72 L 327.60 400.69 L 327.85 400.66 L 328.10 400.62 L 328.35 400.59 L 328.60 400.56 L 328.85 400.53 L 329.10 400.49 L 329.35 400.46 L 329.60 400.42 L 329.85 400.38 L 330.10 400.33 L 330.35 400.29 L 330.60 400.23 L 330.85 400.18 L 331.10 400.12 L 331.35 400.05 L 331.60 399.98 L 331.85 399.92 L 332.10 399.85 L 332.35 399.78 L 332.60 399.71 L 332.85 399.64 L 333.10 399.58 L 333.35 399.53 L 333.60 399.48 L 333.85 399.45 L 334.10 399.42 L 334.35 399.40 L 334.60 399.39 L 334.85 399.38 L 335.10 399.39 L 335.35 399.39 L 335.60 399.40 L 335.85 399.41 L 336.10 399.41 L 336.35 399.40 L 336.60 399.37 L 336.85 399.33 L 337.10 399.26 L 337.35 399.16 L 337.60 399.04 L 337.85 398.89 L 338.10 398.70 L 338.35 398.48 L 338.60 398.24 L 338.85 397.96 L 339.10 397.66 L 339.35 397.33 L 339.60 396.96 L 339.85 396.54 L 340.10 396.06 L 340.35 395.51 L 340.60 394.84 L 340.85 394.02 L 341.10 393.00 L 341.35 391.74 L 341.60 390.18 L 341.85 388.26 L 342.10 385.91 L 342.35 383.08 L 342.60 379.73 L 342.85 375.83 L 343.10 371.37 L 343.35 366.39 L 343.60 360.96 L 343.85 355.19 L 344.10 349.27 L 344.35 343.45 L 344.60 338.06 L 344.85 333.52 L 345.10 330.50 L 345.35 330.79 L 345.60 333.46 L 345.85 337.20 L 346.10 341.63 L 346.35 346.47 L 346.60 351.52 L 346.85 356.60 L 347.10 361.58 L 347.35 366.36 L 347.60 370.86 L 347.85 375.03 L 348.10 378.85 L 348.35 382.29 L 348.60 385.36 L 348.85 388.06 L 349.10 390.42 L 349.35 392.46 L 349.60 394.21 L 349.85 395.69 L 350.10 396.93 L 350.35 397.97 L 350.60 398.83 L 350.85 399.54 L 351.10 400.12 L 351.35 400.58 L 351.60 400.96 L 351.85 401.26 L 352.10 401.49 L 352.35 401.68 L 352.60 401.83 L 352.85 401.94 L 353.10 402.03 L 353.35 402.09 L 353.60 402.15 L 353.85 402.19 L 354.10 402.22 L 354.35 402.24 L 354.60 402.25 L 354.85 402.27 L 355.10 402.28 L 355.35 402.28 L 355.60 402.29 L 355.85 402.29 L 356.10 402.29 L 356.35 402.30 L 356.60 402.30 L 356.85 402.30 L 357.10 402.30 L 357.35 402.30 L 357.60 402.30 L 357.85 402.30 L 358.10 402.30 L 358.35 402.30 L 358.60 402.30 L 358.85 402.30 L 359.10 402.30 L 359.35 402.30 L 359.60 402.30 L 359.85 402.30 L 360.10 402.30 L 360.35 402.30 L 360.60 402.30 L 360.85 402.30 L 361.10 402.30 L 361.35 402.30 L 361.60 402.30 L 361.85 402.30 L 362.10 402.30 L 362.35 402.30 L 362.60 402.30 L 362.85 402.30 L 363.10 402.30 L 363.35 402.30 L 363.60 402.30 L 363.85 402.30 L 364.10 402.30 L 364.35 402.30 L 364.60 402.30 L 364.85 402.30 L 365.10 402.30 L 365.35 402.30 L 365.60 402.30 L 365.85 402.30 L 366.10 402.30 L 366.35 402.30 L 366.60 402.30 L 366.85 402.30 L 367.10 402.30 L 367.35 402.30 L 367.60 402.30 L 367.85 402.30 L 368.10 402.30 L 368.35 402.30 L 368.60 402.30 L 368.85 402.30 L 369.10 402.30 L 369.35 402.30 L 369.60 402.30 L 369.85 402.30 L 370.10 402.30 L 370.35 402.30 L 370.60 402.30 L 370.85 402.30 L 371.10 402.30 L 371.35 402.30 L 371.60 402.30 L 371.85 402.30 L 372.10 402.30 L 372.35 402.30 L 372.60 402.30 L 372.85 402.30 L 373.10 402.30 L 373.35 402.30 L 373.60 402.30 L 373.85 402.30 L 374.10 402.30 L 374.35 402.30 L 374.60 402.30 L 374.85 402.30 L 375.10 402.30 L 375.35 402.30 L 375.60 402.30 L 375.85 402.30 L 376.10 402.30 L 376.35 402.30 L 376.60 402.30 L 376.85 402.30 L 377.10 402.30 L 377.35 402.30 L 377.60 402.30 L 377.85 402.30 L 378.10 402.30 L 378.35 402.30 L 378.60 402.30 L 378.85 402.30 L 379.10 402.30 L 379.35 402.30 L 379.60 402.30 L 379.85 402.30 L 380.10 402.30 L 380.35 402.30" fill="none" stroke="#383838" stroke-width="0.75"/>
<text x="345.20" y="328.50" font-size="7.2" fill="#222" text-anchor="middle" stroke="#222" stroke-width="0.1">0</text>
<text x="325.50" y="400.40" font-size="7.2" fill="#222" text-anchor="middle" stroke="#222" stroke-width="0.1">5</text>
<text x="329.00" y="400.40" font-size="7.2" fill="#222" text-anchor="middle" stroke="#222" stroke-width="0.1">4</text>
<text x="332.60" y="399.90" font-size="7.2" fill="#222" text-anchor="middle" stroke="#222" stroke-width="0.1">3</text>
<text x="336.80" y="398.30" font-size="7.2" fill="#222" text-anchor="middle" stroke="#222" stroke-width="0.1">2</text>
<text x="341.00" y="394.70" font-size="7.2" fill="#222" text-anchor="middle" stroke="#222" stroke-width="0.1">1</text>
<rect x="295.10" y="313.00" width="85.90" height="89.30" fill="none" stroke="#231f20" stroke-width="1.5"/>
<line x1="293.10" y1="375.90" x2="295.10" y2="375.90" stroke="#231f20" stroke-width="0.6"/>
<text x="290.80" y="377.70" font-size="7.9" fill="#231f20" text-anchor="end" textLength="12.40" lengthAdjust="spacingAndGlyphs" stroke="#231f20" stroke-width="0.18">100</text>
<line x1="293.10" y1="349.20" x2="295.10" y2="349.20" stroke="#231f20" stroke-width="0.6"/>
<text x="290.80" y="351.00" font-size="7.9" fill="#231f20" text-anchor="end" textLength="12.40" lengthAdjust="spacingAndGlyphs" stroke="#231f20" stroke-width="0.18">200</text>
<line x1="293.10" y1="322.50" x2="295.10" y2="322.50" stroke="#231f20" stroke-width="0.6"/>
<text x="290.80" y="324.30" font-size="7.9" fill="#231f20" text-anchor="end" textLength="12.40" lengthAdjust="spacingAndGlyphs" stroke="#231f20" stroke-width="0.18">300</text>
<text x="305.70" y="412.50" font-size="7.9" fill="#231f20">10<tspan font-size="5.3" dy="-3.2">1</tspan></text>
<line x1="310.00" y1="402.30" x2="310.00" y2="403.50" stroke="#231f20" stroke-width="0.5"/>
<text x="322.60" y="412.50" font-size="7.9" fill="#231f20">10<tspan font-size="5.3" dy="-3.2">2</tspan></text>
<line x1="326.90" y1="402.30" x2="326.90" y2="403.50" stroke="#231f20" stroke-width="0.5"/>
<text x="339.50" y="412.50" font-size="7.9" fill="#231f20">10<tspan font-size="5.3" dy="-3.2">3</tspan></text>
<line x1="343.80" y1="402.30" x2="343.80" y2="403.50" stroke="#231f20" stroke-width="0.5"/>
<text x="356.40" y="412.50" font-size="7.9" fill="#231f20">10<tspan font-size="5.3" dy="-3.2">4</tspan></text>
<line x1="360.70" y1="402.30" x2="360.70" y2="403.50" stroke="#231f20" stroke-width="0.5"/>
<text x="373.30" y="412.50" font-size="7.9" fill="#231f20">10<tspan font-size="5.3" dy="-3.2">5</tspan></text>
<line x1="377.60" y1="402.30" x2="377.60" y2="403.50" stroke="#231f20" stroke-width="0.5"/>
<text x="460.15" y="309.10" font-size="8.1" fill="#1f7a5f" text-anchor="middle" textLength="35.70" lengthAdjust="spacingAndGlyphs" stroke="#1f7a5f" stroke-width="0.1">PEV+OVA</text>
<path d="M 448.16 402.50 L 448.16 402.50 L 448.41 402.49 L 448.66 402.49 L 448.91 402.49 L 449.16 402.49 L 449.41 402.49 L 449.66 402.49 L 449.91 402.48 L 450.16 402.48 L 450.41 402.48 L 450.66 402.47 L 450.91 402.47 L 451.16 402.46 L 451.41 402.45 L 451.66 402.45 L 451.91 402.44 L 452.16 402.42 L 452.41 402.41 L 452.66 402.39 L 452.91 402.38 L 453.16 402.35 L 453.41 402.33 L 453.66 402.30 L 453.91 402.26 L 454.16 402.22 L 454.41 402.18 L 454.66 402.13 L 454.91 402.06 L 455.16 401.99 L 455.41 401.91 L 455.66 401.82 L 455.91 401.71 L 456.16 401.59 L 456.41 401.45 L 456.66 401.30 L 456.91 401.12 L 457.16 400.91 L 457.41 400.68 L 457.66 400.42 L 457.91 400.13 L 458.16 399.80 L 458.41 399.43 L 458.66 399.01 L 458.91 398.54 L 459.16 398.02 L 459.41 397.44 L 459.66 396.80 L 459.91 396.08 L 460.16 395.29 L 460.41 394.42 L 460.66 393.45 L 460.91 392.40 L 461.16 391.24 L 461.41 389.98 L 461.66 388.61 L 461.91 387.12 L 462.16 385.51 L 462.41 383.77 L 462.66 381.90 L 462.91 379.90 L 463.16 377.76 L 463.41 375.49 L 463.66 373.09 L 463.91 370.56 L 464.16 367.91 L 464.41 365.14 L 464.66 362.27 L 464.91 359.32 L 465.16 356.29 L 465.41 353.22 L 465.66 350.14 L 465.91 347.07 L 466.16 344.06 L 466.41 341.16 L 466.66 338.43 L 466.91 335.94 L 467.16 333.80 L 467.41 332.16 L 467.66 331.72 L 467.91 333.99 L 468.16 337.40 L 468.41 341.45 L 468.66 345.86 L 468.91 350.45 L 469.16 355.07 L 469.41 359.62 L 469.66 364.01 L 469.91 368.18 L 470.16 372.09 L 470.41 375.73 L 470.66 379.06 L 470.91 382.09 L 471.16 384.83 L 471.41 387.28 L 471.66 389.45 L 471.91 391.36 L 472.16 393.04 L 472.41 394.51 L 472.66 395.77 L 472.91 396.86 L 473.16 397.80 L 473.41 398.59 L 473.66 399.27 L 473.91 399.83 L 474.16 400.31 L 474.41 400.71 L 474.66 401.04 L 474.91 401.31 L 475.16 401.54 L 475.41 401.73 L 475.66 401.88 L 475.91 402.00 L 476.16 402.10 L 476.41 402.18 L 476.66 402.25 L 476.91 402.30 L 477.16 402.34 L 477.41 402.38 L 477.66 402.40 L 477.91 402.43 L 478.16 402.44 L 478.41 402.45 L 478.66 402.47 L 478.91 402.47 L 479.16 402.48 L 479.41 402.48 L 479.66 402.49 L 479.91 402.49 L 480.16 402.49 L 480.41 402.49 L 480.66 402.50 L 480.91 402.50 L 481.16 402.50 L 481.41 402.50 L 481.66 402.50 L 481.91 402.50 L 482.16 402.50 L 482.41 402.50 L 482.66 402.50 L 482.91 402.50 L 483.16 402.50 L 483.41 402.50 L 483.66 402.50 L 483.91 402.50 L 484.16 402.50 L 484.41 402.50 L 484.66 402.50 L 484.91 402.50 L 485.16 402.50 L 485.41 402.50 L 485.66 402.50 L 485.91 402.50 L 486.16 402.50 L 486.41 402.50 L 486.66 402.50 L 486.91 402.50 L 487.04 402.50 Z" fill="#9ae99a" stroke="#5ccf5c" stroke-width="0.4" stroke-opacity="0.6"/>
<path d="M 455.20 402.50 L 455.20 402.50 L 455.45 402.50 L 455.70 402.50 L 455.95 402.49 L 456.20 402.49 L 456.45 402.48 L 456.70 402.47 L 456.95 402.45 L 457.20 402.42 L 457.45 402.37 L 457.70 402.29 L 457.95 402.19 L 458.20 402.03 L 458.45 401.81 L 458.70 401.51 L 458.95 401.10 L 459.20 400.56 L 459.45 399.86 L 459.70 398.98 L 459.95 397.90 L 460.20 396.60 L 460.45 395.08 L 460.70 393.34 L 460.95 391.41 L 461.20 389.34 L 461.45 387.17 L 461.70 384.99 L 461.95 382.87 L 462.20 380.93 L 462.45 379.24 L 462.70 377.91 L 462.95 376.99 L 463.20 376.54 L 463.45 376.59 L 463.70 377.13 L 463.95 378.14 L 464.20 379.56 L 464.45 381.30 L 464.70 383.29 L 464.95 385.42 L 465.20 387.61 L 465.45 389.76 L 465.70 391.81 L 465.95 393.70 L 466.20 395.40 L 466.45 396.88 L 466.70 398.13 L 466.95 399.17 L 467.20 400.01 L 467.45 400.68 L 467.70 401.19 L 467.95 401.58 L 468.20 401.86 L 468.45 402.07 L 468.70 402.21 L 468.95 402.31 L 469.20 402.38 L 469.45 402.42 L 469.70 402.45 L 469.95 402.47 L 470.20 402.48 L 470.45 402.49 L 470.70 402.49 L 470.95 402.50 L 471.20 402.50 L 471.40 402.50 Z" fill="rgba(90,226,90,0.55)" stroke="#5ccf5c" stroke-width="0.4" stroke-opacity="0.6"/>
<path d="M 452.25 402.50 L 452.25 402.50 L 452.50 402.50 L 452.75 402.50 L 453.00 402.49 L 453.25 402.49 L 453.50 402.48 L 453.75 402.46 L 454.00 402.42 L 454.25 402.37 L 454.50 402.28 L 454.75 402.14 L 455.00 401.93 L 455.25 401.62 L 455.50 401.19 L 455.75 400.59 L 456.00 399.79 L 456.25 398.77 L 456.50 397.51 L 456.75 396.01 L 457.00 394.28 L 457.25 392.37 L 457.50 390.37 L 457.75 388.37 L 458.00 386.49 L 458.25 384.85 L 458.50 383.58 L 458.75 382.78 L 459.00 382.50 L 459.25 382.78 L 459.50 383.58 L 459.75 384.85 L 460.00 386.49 L 460.25 388.37 L 460.50 390.37 L 460.75 392.37 L 461.00 394.28 L 461.25 396.01 L 461.50 397.51 L 461.75 398.77 L 462.00 399.79 L 462.25 400.59 L 462.50 401.19 L 462.75 401.62 L 463.00 401.93 L 463.25 402.14 L 463.50 402.28 L 463.75 402.37 L 464.00 402.42 L 464.25 402.46 L 464.50 402.48 L 464.75 402.49 L 465.00 402.49 L 465.25 402.50 L 465.50 402.50 L 465.75 402.50 L 465.75 402.50 Z" fill="rgba(90,226,90,0.55)" stroke="#5ccf5c" stroke-width="0.4" stroke-opacity="0.6"/>
<path d="M 448.10 402.50 L 448.10 402.50 L 448.35 402.50 L 448.60 402.50 L 448.85 402.50 L 449.10 402.49 L 449.35 402.48 L 449.60 402.47 L 449.85 402.45 L 450.10 402.42 L 450.35 402.37 L 450.60 402.29 L 450.85 402.17 L 451.10 401.99 L 451.35 401.74 L 451.60 401.40 L 451.85 400.94 L 452.10 400.33 L 452.35 399.58 L 452.60 398.65 L 452.85 397.55 L 453.10 396.28 L 453.35 394.89 L 453.60 393.40 L 453.85 391.89 L 454.10 390.42 L 454.35 389.09 L 454.60 387.96 L 454.85 387.12 L 455.10 386.62 L 455.35 386.51 L 455.60 386.78 L 455.85 387.42 L 456.10 388.38 L 456.35 389.60 L 456.60 391.00 L 456.85 392.49 L 457.10 394.00 L 457.35 395.46 L 457.60 396.81 L 457.85 398.01 L 458.10 399.04 L 458.35 399.90 L 458.60 400.59 L 458.85 401.13 L 459.10 401.55 L 459.35 401.85 L 459.60 402.07 L 459.85 402.22 L 460.10 402.32 L 460.35 402.39 L 460.60 402.43 L 460.85 402.46 L 461.10 402.48 L 461.35 402.49 L 461.60 402.49 L 461.85 402.50 L 462.10 402.50 L 462.35 402.50 L 462.50 402.50 Z" fill="rgba(90,226,90,0.55)" stroke="#5ccf5c" stroke-width="0.4" stroke-opacity="0.6"/>
<path d="M 444.60 402.50 L 444.60 402.50 L 444.85 402.50 L 445.10 402.50 L 445.35 402.50 L 445.60 402.49 L 445.85 402.49 L 446.10 402.48 L 446.35 402.46 L 446.60 402.43 L 446.85 402.39 L 447.10 402.33 L 447.35 402.23 L 447.60 402.09 L 447.85 401.88 L 448.10 401.60 L 448.35 401.23 L 448.60 400.74 L 448.85 400.12 L 449.10 399.37 L 449.35 398.47 L 449.60 397.45 L 449.85 396.31 L 450.10 395.11 L 450.35 393.88 L 450.60 392.69 L 450.85 391.60 L 451.10 390.69 L 451.35 390.00 L 451.60 389.60 L 451.85 389.51 L 452.10 389.73 L 452.35 390.25 L 452.60 391.03 L 452.85 392.02 L 453.10 393.15 L 453.35 394.37 L 453.60 395.60 L 453.85 396.78 L 454.10 397.87 L 454.35 398.85 L 454.60 399.69 L 454.85 400.39 L 455.10 400.95 L 455.35 401.39 L 455.60 401.73 L 455.85 401.97 L 456.10 402.15 L 456.35 402.27 L 456.60 402.36 L 456.85 402.41 L 457.10 402.45 L 457.35 402.47 L 457.60 402.48 L 457.85 402.49 L 458.10 402.49 L 458.35 402.50 L 458.60 402.50 L 458.85 402.50 L 459.00 402.50 Z" fill="rgba(90,226,90,0.55)" stroke="#5ccf5c" stroke-width="0.4" stroke-opacity="0.6"/>
<path d="M 437.20 402.50 L 437.20 402.50 L 437.45 402.50 L 437.70 402.50 L 437.95 402.50 L 438.20 402.50 L 438.45 402.50 L 438.70 402.49 L 438.95 402.49 L 439.20 402.49 L 439.45 402.48 L 439.70 402.47 L 439.95 402.46 L 440.20 402.45 L 440.45 402.43 L 440.70 402.40 L 440.95 402.37 L 441.20 402.32 L 441.45 402.26 L 441.70 402.18 L 441.95 402.08 L 442.20 401.96 L 442.45 401.81 L 442.70 401.63 L 442.95 401.41 L 443.20 401.15 L 443.45 400.84 L 443.70 400.49 L 443.95 400.09 L 444.20 399.64 L 444.45 399.15 L 444.70 398.61 L 444.95 398.04 L 445.20 397.44 L 445.45 396.81 L 445.70 396.18 L 445.95 395.56 L 446.20 394.95 L 446.45 394.38 L 446.70 393.86 L 446.95 393.41 L 447.20 393.04 L 447.45 392.76 L 447.70 392.58 L 447.95 392.50 L 448.20 392.56 L 448.45 392.81 L 448.70 393.23 L 448.95 393.80 L 449.20 394.49 L 449.45 395.27 L 449.70 396.10 L 449.95 396.94 L 450.20 397.76 L 450.45 398.54 L 450.70 399.25 L 450.95 399.89 L 451.20 400.44 L 451.45 400.91 L 451.70 401.29 L 451.95 401.60 L 452.20 401.84 L 452.45 402.03 L 452.70 402.17 L 452.95 402.27 L 453.20 402.35 L 453.45 402.40 L 453.70 402.43 L 453.95 402.46 L 454.20 402.47 L 454.45 402.48 L 454.70 402.49 L 454.95 402.49 L 455.20 402.50 L 455.45 402.50 L 455.70 402.50 L 455.95 402.50 L 456.20 402.50 L 456.45 402.50 L 456.70 402.50 L 456.95 402.50 L 457.20 402.50 L 457.45 402.50 L 457.70 402.50 L 457.95 402.50 L 458.20 402.50 L 458.45 402.50 L 458.70 402.50 L 458.80 402.50 Z" fill="rgba(90,226,90,0.55)" stroke="#5ccf5c" stroke-width="0.4" stroke-opacity="0.6"/>
<path d="M 419.00 402.50 L 419.25 402.50 L 419.50 402.50 L 419.75 402.50 L 420.00 402.50 L 420.25 402.50 L 420.50 402.50 L 420.75 402.50 L 421.00 402.50 L 421.25 402.50 L 421.50 402.50 L 421.75 402.50 L 422.00 402.50 L 422.25 402.50 L 422.50 402.50 L 422.75 402.50 L 423.00 402.50 L 423.25 402.50 L 423.50 402.50 L 423.75 402.50 L 424.00 402.50 L 424.25 402.50 L 424.50 402.50 L 424.75 402.50 L 425.00 402.50 L 425.25 402.50 L 425.50 402.50 L 425.75 402.50 L 426.00 402.50 L 426.25 402.50 L 426.50 402.50 L 426.75 402.50 L 427.00 402.50 L 427.25 402.50 L 427.50 402.50 L 427.75 402.50 L 428.00 402.50 L 428.25 402.50 L 428.50 402.50 L 428.75 402.50 L 429.00 402.50 L 429.25 402.50 L 429.50 402.50 L 429.75 402.50 L 430.00 402.50 L 430.25 402.50 L 430.50 402.50 L 430.75 402.50 L 431.00 402.50 L 431.25 402.50 L 431.50 402.50 L 431.75 402.50 L 432.00 402.50 L 432.25 402.50 L 432.50 402.50 L 432.75 402.50 L 433.00 402.50 L 433.25 402.50 L 433.50 402.50 L 433.75 402.50 L 434.00 402.50 L 434.25 402.50 L 434.50 402.50 L 434.75 402.50 L 435.00 402.50 L 435.25 402.50 L 435.50 402.50 L 435.75 402.50 L 436.00 402.50 L 436.25 402.50 L 436.50 402.50 L 436.75 402.50 L 437.00 402.50 L 437.25 402.50 L 437.50 402.50 L 437.75 402.50 L 438.00 402.50 L 438.25 402.50 L 438.50 402.50 L 438.75 402.50 L 439.00 402.50 L 439.25 402.49 L 439.50 402.49 L 439.75 402.48 L 440.00 402.48 L 440.25 402.47 L 440.50 402.45 L 440.75 402.43 L 441.00 402.40 L 441.25 402.37 L 441.50 402.32 L 441.75 402.25 L 442.00 402.17 L 442.25 402.06 L 442.50 401.93 L 442.75 401.76 L 443.00 401.56 L 443.25 401.31 L 443.50 401.03 L 443.75 400.69 L 444.00 400.30 L 444.25 399.85 L 444.50 399.36 L 444.75 398.82 L 445.00 398.23 L 445.25 397.61 L 445.50 396.96 L 445.75 396.30 L 446.00 395.65 L 446.25 395.01 L 446.50 394.41 L 446.75 393.85 L 447.00 393.37 L 447.25 392.95 L 447.50 392.62 L 447.75 392.36 L 448.00 392.17 L 448.25 392.10 L 448.50 392.17 L 448.75 392.33 L 449.00 392.51 L 449.25 392.65 L 449.50 392.68 L 449.75 392.55 L 450.00 392.22 L 450.25 391.71 L 450.50 391.06 L 450.75 390.32 L 451.00 389.59 L 451.25 388.95 L 451.50 388.48 L 451.75 388.22 L 452.00 388.20 L 452.25 388.37 L 452.50 388.67 L 452.75 389.00 L 453.00 389.27 L 453.25 389.37 L 453.50 389.25 L 453.75 388.88 L 454.00 388.30 L 454.25 387.58 L 454.50 386.83 L 454.75 386.18 L 455.00 385.74 L 455.25 385.58 L 455.50 385.76 L 455.75 386.24 L 456.00 386.94 L 456.25 387.73 L 456.50 388.46 L 456.75 388.99 L 457.00 389.18 L 457.25 388.97 L 457.50 388.34 L 457.75 387.36 L 458.00 386.16 L 458.25 384.89 L 458.50 383.76 L 458.75 382.91 L 459.00 382.47 L 459.25 382.47 L 459.50 382.88 L 459.75 383.60 L 460.00 384.47 L 460.25 385.30 L 460.50 385.92 L 460.75 386.17 L 461.00 385.95 L 461.25 385.23 L 461.50 384.00 L 461.75 382.32 L 462.00 380.27 L 462.25 377.96 L 462.50 375.48 L 462.75 372.94 L 463.00 370.43 L 463.25 367.99 L 463.50 365.67 L 463.75 363.48 L 464.00 361.38 L 464.25 359.36 L 464.50 357.34 L 464.75 355.27 L 465.00 353.07 L 465.25 350.70 L 465.50 348.10 L 465.75 345.26 L 466.00 342.17 L 466.25 338.89 L 466.50 335.49 L 466.75 332.09 L 467.00 328.87 L 467.25 326.09 L 467.50 324.19 L 467.75 325.21 L 468.00 328.85 L 468.25 333.44 L 468.50 338.55 L 468.75 343.90 L 469.00 349.31 L 469.25 354.64 L 469.50 359.77 L 469.75 364.64 L 470.00 369.18 L 470.25 373.38 L 470.50 377.21 L 470.75 380.68 L 471.00 383.78 L 471.25 386.53 L 471.50 388.95 L 471.75 391.06 L 472.00 392.90 L 472.25 394.48 L 472.50 395.83 L 472.75 396.99 L 473.00 397.96 L 473.25 398.78 L 473.50 399.46 L 473.75 400.03 L 474.00 400.50 L 474.25 400.89 L 474.50 401.21 L 474.75 401.47 L 475.00 401.68 L 475.25 401.85 L 475.50 401.99 L 475.75 402.10 L 476.00 402.18 L 476.25 402.25 L 476.50 402.31 L 476.75 402.35 L 477.00 402.38 L 477.25 402.41 L 477.50 402.43 L 477.75 402.45 L 478.00 402.46 L 478.25 402.47 L 478.50 402.48 L 478.75 402.48 L 479.00 402.49 L 479.25 402.49 L 479.50 402.49 L 479.75 402.49 L 480.00 402.50 L 480.25 402.50 L 480.50 402.50 L 480.75 402.50 L 481.00 402.50 L 481.25 402.50 L 481.50 402.50 L 481.75 402.50 L 482.00 402.50 L 482.25 402.50 L 482.50 402.50 L 482.75 402.50 L 483.00 402.50 L 483.25 402.50 L 483.50 402.50 L 483.75 402.50 L 484.00 402.50 L 484.25 402.50 L 484.50 402.50 L 484.75 402.50 L 485.00 402.50 L 485.25 402.50 L 485.50 402.50 L 485.75 402.50 L 486.00 402.50 L 486.25 402.50 L 486.50 402.50 L 486.75 402.50 L 487.00 402.50 L 487.25 402.50 L 487.50 402.50 L 487.75 402.50 L 488.00 402.50 L 488.25 402.50 L 488.50 402.50 L 488.75 402.50 L 489.00 402.50 L 489.25 402.50 L 489.50 402.50 L 489.75 402.50 L 490.00 402.50 L 490.25 402.50 L 490.50 402.50 L 490.75 402.50 L 491.00 402.50 L 491.25 402.50 L 491.50 402.50 L 491.75 402.50 L 492.00 402.50 L 492.25 402.50 L 492.50 402.50 L 492.75 402.50 L 493.00 402.50 L 493.25 402.50 L 493.50 402.50 L 493.75 402.50 L 494.00 402.50 L 494.25 402.50 L 494.50 402.50 L 494.75 402.50 L 495.00 402.50 L 495.25 402.50 L 495.50 402.50 L 495.75 402.50 L 496.00 402.50 L 496.25 402.50 L 496.50 402.50 L 496.75 402.50 L 497.00 402.50 L 497.25 402.50 L 497.50 402.50 L 497.75 402.50 L 498.00 402.50 L 498.25 402.50 L 498.50 402.50 L 498.75 402.50 L 499.00 402.50 L 499.25 402.50 L 499.50 402.50 L 499.75 402.50 L 500.00 402.50 L 500.25 402.50 L 500.50 402.50 L 500.75 402.50 L 501.00 402.50 L 501.25 402.50 L 501.50 402.50 L 501.75 402.50 L 502.00 402.50 L 502.25 402.50 L 502.50 402.50 L 502.75 402.50 L 503.00 402.50" fill="none" stroke="#383838" stroke-width="0.75"/>
<text x="467.60" y="321.50" font-size="7.2" fill="#222" text-anchor="middle" stroke="#222" stroke-width="0.1">0</text>
<text x="463.40" y="370.90" font-size="7.2" fill="#222" text-anchor="middle" stroke="#222" stroke-width="0.1">1</text>
<text x="459.50" y="381.40" font-size="7.2" fill="#222" text-anchor="middle" stroke="#222" stroke-width="0.1">2</text>
<text x="455.30" y="384.20" font-size="7.2" fill="#222" text-anchor="middle" stroke="#222" stroke-width="0.1">3</text>
<text x="451.00" y="387.70" font-size="7.2" fill="#222" text-anchor="middle" stroke="#222" stroke-width="0.1">4</text>
<text x="446.90" y="392.60" font-size="7.2" fill="#222" text-anchor="middle" stroke="#222" stroke-width="0.1">5</text>
<rect x="418.50" y="313.10" width="85.00" height="89.40" fill="none" stroke="#231f20" stroke-width="1.5"/>
<line x1="416.50" y1="376.10" x2="418.50" y2="376.10" stroke="#231f20" stroke-width="0.6"/>
<text x="414.20" y="377.90" font-size="7.9" fill="#231f20" text-anchor="end" textLength="12.40" lengthAdjust="spacingAndGlyphs" stroke="#231f20" stroke-width="0.18">100</text>
<line x1="416.50" y1="349.40" x2="418.50" y2="349.40" stroke="#231f20" stroke-width="0.6"/>
<text x="414.20" y="351.20" font-size="7.9" fill="#231f20" text-anchor="end" textLength="12.40" lengthAdjust="spacingAndGlyphs" stroke="#231f20" stroke-width="0.18">200</text>
<line x1="416.50" y1="322.70" x2="418.50" y2="322.70" stroke="#231f20" stroke-width="0.6"/>
<text x="414.20" y="324.50" font-size="7.9" fill="#231f20" text-anchor="end" textLength="12.40" lengthAdjust="spacingAndGlyphs" stroke="#231f20" stroke-width="0.18">300</text>
<text x="429.10" y="412.70" font-size="7.9" fill="#231f20">10<tspan font-size="5.3" dy="-3.2">1</tspan></text>
<line x1="433.40" y1="402.50" x2="433.40" y2="403.70" stroke="#231f20" stroke-width="0.5"/>
<text x="446.00" y="412.70" font-size="7.9" fill="#231f20">10<tspan font-size="5.3" dy="-3.2">2</tspan></text>
<line x1="450.30" y1="402.50" x2="450.30" y2="403.70" stroke="#231f20" stroke-width="0.5"/>
<text x="462.90" y="412.70" font-size="7.9" fill="#231f20">10<tspan font-size="5.3" dy="-3.2">3</tspan></text>
<line x1="467.20" y1="402.50" x2="467.20" y2="403.70" stroke="#231f20" stroke-width="0.5"/>
<text x="479.80" y="412.70" font-size="7.9" fill="#231f20">10<tspan font-size="5.3" dy="-3.2">4</tspan></text>
<line x1="484.10" y1="402.50" x2="484.10" y2="403.70" stroke="#231f20" stroke-width="0.5"/>
<text x="496.70" y="412.70" font-size="7.9" fill="#231f20">10<tspan font-size="5.3" dy="-3.2">5</tspan></text>
<line x1="501.00" y1="402.50" x2="501.00" y2="403.70" stroke="#231f20" stroke-width="0.5"/>
<line x1="187.70" y1="389.20" x2="187.70" y2="318.50" stroke="#3cb54a" stroke-width="1.3"/>
<polygon points="187.7,312.7 183.8,319 191.6,319" fill="#3cb54a"/>
<line x1="187.10" y1="389.20" x2="256.50" y2="389.20" stroke="#3cb54a" stroke-width="1.3"/>
<polygon points="262.7,389.2 256.2,385.6 256.2,392.8" fill="#3cb54a"/>
<text x="179.60" y="351.20" font-size="7.9" fill="#231f20" text-anchor="middle" textLength="21.00" lengthAdjust="spacingAndGlyphs" transform="rotate(-90 179.60 351.20)" stroke="#231f20" stroke-width="0.18">Count</text>
<text x="206.20" y="401.20" font-size="7.9" fill="#231f20" text-anchor="start" textLength="37.80" lengthAdjust="spacingAndGlyphs" stroke="#231f20" stroke-width="0.18">CFSE-FITC</text>
<rect x="57.50" y="573.59" width="16.20" height="4.21" fill="#eba0ad"/>
<rect x="77.50" y="504.60" width="16.20" height="73.20" fill="#a2bad1"/>
<rect x="98.10" y="567.28" width="16.20" height="10.52" fill="#b5eab8"/>
<rect x="118.70" y="527.04" width="16.20" height="50.76" fill="#b99ec8"/>
<rect x="139.30" y="540.50" width="16.20" height="37.30" fill="#fbd6ab"/>
<rect x="159.90" y="559.71" width="16.20" height="18.09" fill="#a7cbbb"/>
<rect x="180.40" y="527.04" width="16.20" height="50.76" fill="#d7d4ef"/>
<rect x="201.00" y="542.18" width="16.20" height="35.62" fill="#b9c1c9"/>
<line x1="48.70" y1="572.70" x2="225.80" y2="572.70" stroke="#a8a8a8" stroke-width="0.8"/>
<line x1="48.70" y1="578.50" x2="48.70" y2="451.30" stroke="#231f20" stroke-width="1.4"/>
<line x1="45.70" y1="577.80" x2="48.70" y2="577.80" stroke="#231f20" stroke-width="0.9"/>
<text x="42.80" y="580.60" font-size="8.3" fill="#231f20" text-anchor="end" textLength="4.40" lengthAdjust="spacingAndGlyphs" stroke="#231f20" stroke-width="0.18">0</text>
<line x1="45.70" y1="556.77" x2="48.70" y2="556.77" stroke="#231f20" stroke-width="0.9"/>
<text x="42.80" y="559.57" font-size="8.3" fill="#231f20" text-anchor="end" textLength="8.60" lengthAdjust="spacingAndGlyphs" stroke="#231f20" stroke-width="0.18">15</text>
<line x1="45.70" y1="535.73" x2="48.70" y2="535.73" stroke="#231f20" stroke-width="0.9"/>
<text x="42.80" y="538.53" font-size="8.3" fill="#231f20" text-anchor="end" textLength="8.60" lengthAdjust="spacingAndGlyphs" stroke="#231f20" stroke-width="0.18">30</text>
<line x1="45.70" y1="514.70" x2="48.70" y2="514.70" stroke="#231f20" stroke-width="0.9"/>
<text x="42.80" y="517.50" font-size="8.3" fill="#231f20" text-anchor="end" textLength="8.60" lengthAdjust="spacingAndGlyphs" stroke="#231f20" stroke-width="0.18">45</text>
<line x1="45.70" y1="493.67" x2="48.70" y2="493.67" stroke="#231f20" stroke-width="0.9"/>
<text x="42.80" y="496.47" font-size="8.3" fill="#231f20" text-anchor="end" textLength="8.60" lengthAdjust="spacingAndGlyphs" stroke="#231f20" stroke-width="0.18">60</text>
<line x1="45.70" y1="472.63" x2="48.70" y2="472.63" stroke="#231f20" stroke-width="0.9"/>
<text x="42.80" y="475.43" font-size="8.3" fill="#231f20" text-anchor="end" textLength="8.60" lengthAdjust="spacingAndGlyphs" stroke="#231f20" stroke-width="0.18">75</text>
<line x1="45.70" y1="451.60" x2="48.70" y2="451.60" stroke="#231f20" stroke-width="0.9"/>
<text x="42.80" y="454.40" font-size="8.3" fill="#231f20" text-anchor="end" textLength="8.60" lengthAdjust="spacingAndGlyphs" stroke="#231f20" stroke-width="0.18">90</text>
<text x="16.70" y="513.75" font-size="8.4" fill="#231f20" text-anchor="middle" textLength="97.50" lengthAdjust="spacingAndGlyphs" transform="rotate(-90 16.70 513.75)" stroke="#231f20" stroke-width="0.18">% of lymphoproliferative cells</text>
<text x="26.80" y="513.75" font-size="8.4" fill="#231f20" text-anchor="middle" textLength="96.50" lengthAdjust="spacingAndGlyphs" transform="rotate(-90 26.80 513.75)" stroke="#231f20" stroke-width="0.18">(based on CD3+ CD8+ cells)</text>
<line x1="48.00" y1="577.80" x2="225.80" y2="577.80" stroke="#231f20" stroke-width="1.45"/>
<line x1="65.60" y1="571.07" x2="65.60" y2="577.10" stroke="#c8102e" stroke-width="1.0"/>
<line x1="61.20" y1="571.07" x2="70.00" y2="571.07" stroke="#c8102e" stroke-width="1.0"/>
<line x1="61.20" y1="577.10" x2="70.00" y2="577.10" stroke="#c8102e" stroke-width="1.0"/>
<line x1="85.60" y1="496.19" x2="85.60" y2="512.18" stroke="#0b4a8b" stroke-width="1.0"/>
<line x1="81.20" y1="496.19" x2="90.00" y2="496.19" stroke="#0b4a8b" stroke-width="1.0"/>
<line x1="81.20" y1="512.18" x2="90.00" y2="512.18" stroke="#0b4a8b" stroke-width="1.0"/>
<line x1="106.20" y1="563.36" x2="106.20" y2="572.19" stroke="#2bb84a" stroke-width="1.0"/>
<line x1="101.80" y1="563.36" x2="110.60" y2="563.36" stroke="#2bb84a" stroke-width="1.0"/>
<line x1="101.80" y1="572.19" x2="110.60" y2="572.19" stroke="#2bb84a" stroke-width="1.0"/>
<line x1="126.80" y1="516.38" x2="126.80" y2="537.14" stroke="#4b1468" stroke-width="1.0"/>
<line x1="122.40" y1="516.38" x2="131.20" y2="516.38" stroke="#4b1468" stroke-width="1.0"/>
<line x1="122.40" y1="537.14" x2="131.20" y2="537.14" stroke="#4b1468" stroke-width="1.0"/>
<line x1="147.40" y1="529.56" x2="147.40" y2="551.16" stroke="#f28a1a" stroke-width="1.0"/>
<line x1="143.00" y1="529.56" x2="151.80" y2="529.56" stroke="#f28a1a" stroke-width="1.0"/>
<line x1="143.00" y1="551.16" x2="151.80" y2="551.16" stroke="#f28a1a" stroke-width="1.0"/>
<line x1="168.00" y1="553.26" x2="168.00" y2="565.18" stroke="#0b5e48" stroke-width="1.0"/>
<line x1="163.60" y1="553.26" x2="172.40" y2="553.26" stroke="#0b5e48" stroke-width="1.0"/>
<line x1="163.60" y1="565.18" x2="172.40" y2="565.18" stroke="#0b5e48" stroke-width="1.0"/>
<line x1="188.50" y1="516.38" x2="188.50" y2="537.42" stroke="#8a80cc" stroke-width="1.0"/>
<line x1="184.10" y1="516.38" x2="192.90" y2="516.38" stroke="#8a80cc" stroke-width="1.0"/>
<line x1="184.10" y1="537.42" x2="192.90" y2="537.42" stroke="#8a80cc" stroke-width="1.0"/>
<line x1="209.10" y1="536.29" x2="209.10" y2="548.35" stroke="#1d3550" stroke-width="1.0"/>
<line x1="204.70" y1="536.29" x2="213.50" y2="536.29" stroke="#1d3550" stroke-width="1.0"/>
<line x1="204.70" y1="548.35" x2="213.50" y2="548.35" stroke="#1d3550" stroke-width="1.0"/>
<g fill="#c8102e"><circle cx="65.10" cy="550.20" r="1.7"/><circle cx="61.00" cy="568.80" r="1.7"/><circle cx="65.20" cy="568.80" r="1.7"/><circle cx="69.10" cy="568.80" r="1.7"/><circle cx="59.30" cy="575.20" r="1.7"/><circle cx="62.30" cy="574.60" r="1.7"/><circle cx="65.60" cy="574.20" r="1.7"/><circle cx="68.90" cy="574.60" r="1.7"/><circle cx="71.90" cy="575.20" r="1.7"/><circle cx="60.50" cy="577.20" r="1.7"/><circle cx="63.50" cy="577.60" r="1.7"/><circle cx="66.50" cy="577.80" r="1.7"/><circle cx="69.50" cy="577.60" r="1.7"/><circle cx="72.00" cy="577.00" r="1.7"/><circle cx="65.60" cy="572.50" r="1.7"/><circle cx="58.30" cy="576.50" r="1.7"/></g>
<g fill="#0b4a8b"><circle cx="85.60" cy="455.20" r="1.7"/><circle cx="83.70" cy="469.70" r="1.7"/><circle cx="87.50" cy="469.70" r="1.7"/><circle cx="83.70" cy="473.90" r="1.7"/><circle cx="87.50" cy="473.90" r="1.7"/><circle cx="85.60" cy="501.10" r="1.7"/><circle cx="85.60" cy="508.60" r="1.7"/><circle cx="83.60" cy="516.80" r="1.7"/><circle cx="87.50" cy="518.20" r="1.7"/><circle cx="83.60" cy="524.50" r="1.7"/><circle cx="87.50" cy="524.50" r="1.7"/><circle cx="83.60" cy="528.80" r="1.7"/><circle cx="87.50" cy="530.50" r="1.7"/><circle cx="85.80" cy="564.40" r="1.7"/></g>
<g fill="#2bb84a"><circle cx="106.20" cy="533.10" r="1.7"/><circle cx="106.20" cy="542.80" r="1.7"/><circle cx="106.20" cy="551.50" r="1.7"/><circle cx="102.20" cy="568.40" r="1.7"/><circle cx="106.20" cy="569.20" r="1.7"/><circle cx="110.20" cy="566.00" r="1.7"/><circle cx="100.50" cy="574.50" r="1.7"/><circle cx="103.50" cy="575.50" r="1.7"/><circle cx="106.50" cy="574.50" r="1.7"/><circle cx="109.50" cy="575.50" r="1.7"/><circle cx="112.00" cy="574.60" r="1.7"/><circle cx="102.00" cy="577.20" r="1.7"/><circle cx="105.00" cy="577.60" r="1.7"/><circle cx="108.00" cy="577.60" r="1.7"/><circle cx="111.00" cy="577.20" r="1.7"/></g>
<g fill="#4b1468"><circle cx="126.80" cy="468.00" r="1.7"/><circle cx="126.80" cy="483.30" r="1.7"/><circle cx="124.80" cy="489.30" r="1.7"/><circle cx="129.00" cy="489.30" r="1.7"/><circle cx="126.80" cy="494.40" r="1.7"/><circle cx="126.80" cy="501.90" r="1.7"/><circle cx="126.80" cy="510.60" r="1.7"/><circle cx="126.70" cy="543.70" r="1.7"/><circle cx="126.70" cy="555.20" r="1.7"/><circle cx="124.90" cy="562.00" r="1.7"/><circle cx="129.10" cy="565.60" r="1.7"/><circle cx="122.50" cy="569.30" r="1.7"/><circle cx="127.00" cy="571.20" r="1.7"/><circle cx="130.70" cy="570.10" r="1.7"/></g>
<g fill="#f28a1a"><circle cx="147.40" cy="459.50" r="1.7"/><circle cx="145.20" cy="471.80" r="1.7"/><circle cx="149.20" cy="473.10" r="1.7"/><circle cx="147.60" cy="535.90" r="1.7"/><circle cx="147.60" cy="541.60" r="1.7"/><circle cx="145.30" cy="554.10" r="1.7"/><circle cx="149.40" cy="553.60" r="1.7"/><circle cx="147.60" cy="559.40" r="1.7"/><circle cx="145.30" cy="564.90" r="1.7"/><circle cx="149.40" cy="563.50" r="1.7"/><circle cx="145.30" cy="570.80" r="1.7"/><circle cx="149.40" cy="571.20" r="1.7"/><circle cx="151.50" cy="570.50" r="1.7"/><circle cx="145.30" cy="575.30" r="1.7"/></g>
<g fill="#0b5e48"><circle cx="168.10" cy="497.80" r="1.7"/><circle cx="167.90" cy="526.30" r="1.7"/><circle cx="167.90" cy="536.30" r="1.7"/><circle cx="167.90" cy="546.60" r="1.7"/><circle cx="167.90" cy="564.00" r="1.7"/><circle cx="162.10" cy="568.10" r="1.7"/><circle cx="166.00" cy="570.20" r="1.7"/><circle cx="170.20" cy="570.70" r="1.7"/><circle cx="174.30" cy="569.80" r="1.7"/><circle cx="162.10" cy="575.30" r="1.7"/><circle cx="166.00" cy="575.30" r="1.7"/><circle cx="170.20" cy="575.30" r="1.7"/><circle cx="174.30" cy="575.30" r="1.7"/><circle cx="167.90" cy="577.50" r="1.7"/></g>
<g fill="#8a80cc"><circle cx="186.50" cy="477.90" r="1.7"/><circle cx="190.60" cy="479.40" r="1.7"/><circle cx="188.40" cy="484.40" r="1.7"/><circle cx="188.40" cy="489.40" r="1.7"/><circle cx="190.60" cy="493.10" r="1.7"/><circle cx="186.50" cy="496.60" r="1.7"/><circle cx="188.40" cy="512.10" r="1.7"/><circle cx="188.50" cy="549.10" r="1.7"/><circle cx="188.50" cy="556.20" r="1.7"/><circle cx="188.50" cy="561.40" r="1.7"/><circle cx="192.60" cy="566.50" r="1.7"/><circle cx="184.60" cy="569.10" r="1.7"/><circle cx="188.50" cy="569.10" r="1.7"/><circle cx="188.50" cy="574.90" r="1.7"/></g>
<g fill="#1d3550"><circle cx="209.00" cy="509.40" r="1.7"/><circle cx="205.00" cy="517.80" r="1.7"/><circle cx="212.80" cy="517.50" r="1.7"/><circle cx="209.00" cy="519.80" r="1.7"/><circle cx="209.10" cy="529.40" r="1.7"/><circle cx="209.10" cy="535.00" r="1.7"/><circle cx="209.10" cy="539.70" r="1.7"/><circle cx="209.10" cy="546.60" r="1.7"/><circle cx="211.40" cy="549.10" r="1.7"/><circle cx="207.20" cy="552.60" r="1.7"/><circle cx="207.20" cy="562.00" r="1.7"/><circle cx="211.10" cy="564.60" r="1.7"/><circle cx="211.10" cy="572.00" r="1.7"/><circle cx="207.20" cy="574.90" r="1.7"/></g>
<text x="85.60" y="454.20" font-size="8.0" fill="#231f20" text-anchor="middle" stroke="#231f20" stroke-width="0.35">****</text>
<text x="126.80" y="454.20" font-size="8.0" fill="#231f20" text-anchor="middle" stroke="#231f20" stroke-width="0.35">***</text>
<text x="147.40" y="454.20" font-size="8.0" fill="#231f20" text-anchor="middle" stroke="#231f20" stroke-width="0.35">**</text>
<text x="188.50" y="454.20" font-size="8.0" fill="#231f20" text-anchor="middle" stroke="#231f20" stroke-width="0.35">***</text>
<text x="209.10" y="454.20" font-size="8.0" fill="#231f20" text-anchor="middle" stroke="#231f20" stroke-width="0.35">**</text>
<text x="107.70" y="456.70" font-size="8.2" fill="#231f20" text-anchor="middle" textLength="11.50" lengthAdjust="spacingAndGlyphs" transform="rotate(-45 107.70 456.70)" stroke="#231f20" stroke-width="0.18">NS</text>
<text x="169.80" y="456.90" font-size="8.2" fill="#231f20" text-anchor="middle" textLength="11.50" lengthAdjust="spacingAndGlyphs" transform="rotate(-45 169.80 456.90)" stroke="#231f20" stroke-width="0.18">NS</text>
<text x="27.00" y="587.40" font-size="7.9" fill="#231f20" text-anchor="start" textLength="24.00" lengthAdjust="spacingAndGlyphs" stroke="#231f20" stroke-width="0.18">Pulsed</text>
<text x="65.60" y="587.40" font-size="7.9" fill="#231f20" text-anchor="middle" stroke="#231f20" stroke-width="0.18">–</text>
<text x="85.60" y="587.40" font-size="7.9" fill="#231f20" text-anchor="middle" stroke="#231f20" stroke-width="0.18">+</text>
<text x="106.20" y="587.40" font-size="7.9" fill="#231f20" text-anchor="middle" stroke="#231f20" stroke-width="0.18">–</text>
<text x="126.80" y="587.40" font-size="7.9" fill="#231f20" text-anchor="middle" stroke="#231f20" stroke-width="0.18">+</text>
<text x="168.00" y="587.40" font-size="7.9" fill="#231f20" text-anchor="middle" stroke="#231f20" stroke-width="0.18">–</text>
<text x="188.50" y="587.40" font-size="7.9" fill="#231f20" text-anchor="middle" stroke="#231f20" stroke-width="0.18">+</text>
<text x="139.30" y="587.50" font-size="7.9" fill="#231f20" text-anchor="start" textLength="16.50" lengthAdjust="spacingAndGlyphs" stroke="#231f20" stroke-width="0.18">OVA</text>
<text x="200.70" y="587.50" font-size="7.9" fill="#231f20" text-anchor="start" textLength="16.50" lengthAdjust="spacingAndGlyphs" stroke="#231f20" stroke-width="0.18">OVA</text>
<line x1="98.30" y1="590.20" x2="155.80" y2="590.20" stroke="#231f20" stroke-width="1.0"/>
<line x1="161.80" y1="590.20" x2="218.90" y2="590.20" stroke="#231f20" stroke-width="1.0"/>
<text x="81.00" y="599.60" font-size="7.9" fill="#231f20" text-anchor="start" textLength="10.70" lengthAdjust="spacingAndGlyphs" stroke="#231f20" stroke-width="0.18">DC</text>
<text x="101.20" y="599.60" font-size="7.9" fill="#231f20" text-anchor="start" textLength="52.00" lengthAdjust="spacingAndGlyphs" stroke="#231f20" stroke-width="0.18">Activated PLTs</text>
<text x="182.00" y="599.60" font-size="7.9" fill="#231f20" text-anchor="start" textLength="17.40" lengthAdjust="spacingAndGlyphs" stroke="#231f20" stroke-width="0.18">PEVs</text>
<rect x="274.65" y="498.85" width="14.70" height="78.95" fill="#a2bad1"/>
<rect x="293.50" y="577.10" width="15.00" height="0.70" fill="#a7cbbb"/>
<rect x="315.05" y="574.57" width="10.50" height="3.23" fill="#d7d4ef"/>
<rect x="332.30" y="573.17" width="14.20" height="4.63" fill="#b9c1c9"/>
<line x1="266.70" y1="575.60" x2="356.00" y2="575.60" stroke="#a8a8a8" stroke-width="0.8"/>
<line x1="266.70" y1="578.50" x2="266.70" y2="451.30" stroke="#231f20" stroke-width="1.4"/>
<line x1="263.70" y1="577.80" x2="266.70" y2="577.80" stroke="#231f20" stroke-width="0.9"/>
<text x="260.80" y="580.60" font-size="8.3" fill="#231f20" text-anchor="end" textLength="4.40" lengthAdjust="spacingAndGlyphs" stroke="#231f20" stroke-width="0.18">0</text>
<line x1="263.70" y1="556.77" x2="266.70" y2="556.77" stroke="#231f20" stroke-width="0.9"/>
<text x="260.80" y="559.57" font-size="8.3" fill="#231f20" text-anchor="end" textLength="8.60" lengthAdjust="spacingAndGlyphs" stroke="#231f20" stroke-width="0.18">15</text>
<line x1="263.70" y1="535.73" x2="266.70" y2="535.73" stroke="#231f20" stroke-width="0.9"/>
<text x="260.80" y="538.53" font-size="8.3" fill="#231f20" text-anchor="end" textLength="8.60" lengthAdjust="spacingAndGlyphs" stroke="#231f20" stroke-width="0.18">30</text>
<line x1="263.70" y1="514.70" x2="266.70" y2="514.70" stroke="#231f20" stroke-width="0.9"/>
<text x="260.80" y="517.50" font-size="8.3" fill="#231f20" text-anchor="end" textLength="8.60" lengthAdjust="spacingAndGlyphs" stroke="#231f20" stroke-width="0.18">45</text>
<line x1="263.70" y1="493.67" x2="266.70" y2="493.67" stroke="#231f20" stroke-width="0.9"/>
<text x="260.80" y="496.47" font-size="8.3" fill="#231f20" text-anchor="end" textLength="8.60" lengthAdjust="spacingAndGlyphs" stroke="#231f20" stroke-width="0.18">60</text>
<line x1="263.70" y1="472.63" x2="266.70" y2="472.63" stroke="#231f20" stroke-width="0.9"/>
<text x="260.80" y="475.43" font-size="8.3" fill="#231f20" text-anchor="end" textLength="8.60" lengthAdjust="spacingAndGlyphs" stroke="#231f20" stroke-width="0.18">75</text>
<line x1="263.70" y1="451.60" x2="266.70" y2="451.60" stroke="#231f20" stroke-width="0.9"/>
<text x="260.80" y="454.40" font-size="8.3" fill="#231f20" text-anchor="end" textLength="8.60" lengthAdjust="spacingAndGlyphs" stroke="#231f20" stroke-width="0.18">90</text>
<text x="234.20" y="514.95" font-size="8.4" fill="#231f20" text-anchor="middle" textLength="99.50" lengthAdjust="spacingAndGlyphs" transform="rotate(-90 234.20 514.95)" stroke="#231f20" stroke-width="0.18">% of lymphoproliferative cells</text>
<text x="245.30" y="514.95" font-size="8.4" fill="#231f20" text-anchor="middle" textLength="98.50" lengthAdjust="spacingAndGlyphs" transform="rotate(-90 245.30 514.95)" stroke="#231f20" stroke-width="0.18">(based on CD3+ CD8+ cells)</text>
<line x1="266.00" y1="577.80" x2="355.50" y2="577.80" stroke="#231f20" stroke-width="1.45"/>
<line x1="282.00" y1="487.36" x2="282.00" y2="508.95" stroke="#3a6ea5" stroke-width="1.0"/>
<line x1="277.60" y1="487.36" x2="286.40" y2="487.36" stroke="#3a6ea5" stroke-width="1.0"/>
<line x1="277.60" y1="508.95" x2="286.40" y2="508.95" stroke="#3a6ea5" stroke-width="1.0"/>
<line x1="320.30" y1="573.03" x2="320.30" y2="576.68" stroke="#8a80cc" stroke-width="1.0"/>
<line x1="315.90" y1="573.03" x2="324.70" y2="573.03" stroke="#8a80cc" stroke-width="1.0"/>
<line x1="315.90" y1="576.68" x2="324.70" y2="576.68" stroke="#8a80cc" stroke-width="1.0"/>
<line x1="339.40" y1="569.11" x2="339.40" y2="576.40" stroke="#4a5a6c" stroke-width="1.0"/>
<line x1="335.00" y1="569.11" x2="343.80" y2="569.11" stroke="#4a5a6c" stroke-width="1.0"/>
<line x1="335.00" y1="576.40" x2="343.80" y2="576.40" stroke="#4a5a6c" stroke-width="1.0"/>
<g fill="#0b4a8b"><circle cx="281.50" cy="455.10" r="1.7"/><circle cx="282.00" cy="500.50" r="1.7"/><circle cx="279.40" cy="508.40" r="1.7"/><circle cx="283.90" cy="511.60" r="1.7"/><circle cx="282.00" cy="516.90" r="1.7"/></g>
<g fill="#0b5e48"><circle cx="295.20" cy="577.00" r="1.7"/><circle cx="298.40" cy="577.20" r="1.7"/><circle cx="301.60" cy="577.30" r="1.7"/><circle cx="304.80" cy="577.20" r="1.7"/><circle cx="308.00" cy="577.00" r="1.7"/></g>
<g fill="#8a80cc"><circle cx="318.60" cy="569.30" r="1.7"/><circle cx="322.60" cy="573.30" r="1.7"/><circle cx="317.10" cy="576.50" r="1.7"/><circle cx="319.80" cy="577.00" r="1.7"/><circle cx="323.10" cy="576.50" r="1.7"/></g>
<g fill="#1d3550"><circle cx="339.60" cy="557.70" r="1.7"/><circle cx="334.10" cy="576.80" r="1.7"/><circle cx="337.20" cy="577.00" r="1.7"/><circle cx="340.90" cy="577.00" r="1.7"/><circle cx="344.50" cy="577.00" r="1.7"/></g>
<text x="301.40" y="454.20" font-size="8.0" fill="#231f20" text-anchor="middle" stroke="#231f20" stroke-width="0.35">**</text>
<text x="320.50" y="454.20" font-size="8.0" fill="#231f20" text-anchor="middle" stroke="#231f20" stroke-width="0.35">**</text>
<text x="339.60" y="454.20" font-size="8.0" fill="#231f20" text-anchor="middle" stroke="#231f20" stroke-width="0.35">**</text>
<text x="246.20" y="587.40" font-size="7.9" fill="#231f20" text-anchor="start" textLength="23.40" lengthAdjust="spacingAndGlyphs" stroke="#231f20" stroke-width="0.18">Pulsed</text>
<text x="282.00" y="587.40" font-size="7.9" fill="#231f20" text-anchor="middle" stroke="#231f20" stroke-width="0.18">+</text>
<text x="301.00" y="587.40" font-size="7.9" fill="#231f20" text-anchor="middle" stroke="#231f20" stroke-width="0.18">–</text>
<text x="320.20" y="587.40" font-size="7.9" fill="#231f20" text-anchor="middle" stroke="#231f20" stroke-width="0.18">+</text>
<text x="331.70" y="587.50" font-size="7.9" fill="#231f20" text-anchor="start" textLength="16.50" lengthAdjust="spacingAndGlyphs" stroke="#231f20" stroke-width="0.18">OVA</text>
<line x1="292.80" y1="589.90" x2="349.50" y2="589.90" stroke="#231f20" stroke-width="1.0"/>
<text x="276.90" y="598.90" font-size="7.9" fill="#231f20" text-anchor="start" textLength="76.20" lengthAdjust="spacingAndGlyphs" stroke="#231f20" stroke-width="0.18">DC PEV depleted sup</text>
<rect x="402.65" y="538.26" width="15.30" height="39.54" fill="#b9c1c9"/>
<rect x="425.50" y="569.95" width="13.60" height="7.85" fill="#eba0ad"/>
<rect x="469.85" y="493.67" width="14.30" height="84.13" fill="#a2bad1"/>
<rect x="492.05" y="519.19" width="14.30" height="58.61" fill="#eba0ad"/>
<line x1="396.10" y1="572.70" x2="447.00" y2="572.70" stroke="#909090" stroke-width="0.8"/>
<line x1="459.10" y1="572.70" x2="513.00" y2="572.70" stroke="#909090" stroke-width="0.8"/>
<line x1="396.10" y1="578.50" x2="396.10" y2="451.30" stroke="#231f20" stroke-width="1.4"/>
<line x1="393.10" y1="577.80" x2="396.10" y2="577.80" stroke="#231f20" stroke-width="0.9"/>
<text x="390.20" y="580.60" font-size="8.3" fill="#231f20" text-anchor="end" textLength="4.40" lengthAdjust="spacingAndGlyphs" stroke="#231f20" stroke-width="0.18">0</text>
<line x1="393.10" y1="556.77" x2="396.10" y2="556.77" stroke="#231f20" stroke-width="0.9"/>
<text x="390.20" y="559.57" font-size="8.3" fill="#231f20" text-anchor="end" textLength="8.60" lengthAdjust="spacingAndGlyphs" stroke="#231f20" stroke-width="0.18">15</text>
<line x1="393.10" y1="535.73" x2="396.10" y2="535.73" stroke="#231f20" stroke-width="0.9"/>
<text x="390.20" y="538.53" font-size="8.3" fill="#231f20" text-anchor="end" textLength="8.60" lengthAdjust="spacingAndGlyphs" stroke="#231f20" stroke-width="0.18">30</text>
<line x1="393.10" y1="514.70" x2="396.10" y2="514.70" stroke="#231f20" stroke-width="0.9"/>
<text x="390.20" y="517.50" font-size="8.3" fill="#231f20" text-anchor="end" textLength="8.60" lengthAdjust="spacingAndGlyphs" stroke="#231f20" stroke-width="0.18">45</text>
<line x1="393.10" y1="493.67" x2="396.10" y2="493.67" stroke="#231f20" stroke-width="0.9"/>
<text x="390.20" y="496.47" font-size="8.3" fill="#231f20" text-anchor="end" textLength="8.60" lengthAdjust="spacingAndGlyphs" stroke="#231f20" stroke-width="0.18">60</text>
<line x1="393.10" y1="472.63" x2="396.10" y2="472.63" stroke="#231f20" stroke-width="0.9"/>
<text x="390.20" y="475.43" font-size="8.3" fill="#231f20" text-anchor="end" textLength="8.60" lengthAdjust="spacingAndGlyphs" stroke="#231f20" stroke-width="0.18">75</text>
<line x1="393.10" y1="451.60" x2="396.10" y2="451.60" stroke="#231f20" stroke-width="0.9"/>
<text x="390.20" y="454.40" font-size="8.3" fill="#231f20" text-anchor="end" textLength="8.60" lengthAdjust="spacingAndGlyphs" stroke="#231f20" stroke-width="0.18">90</text>
<text x="365.30" y="513.75" font-size="8.4" fill="#231f20" text-anchor="middle" textLength="97.50" lengthAdjust="spacingAndGlyphs" transform="rotate(-90 365.30 513.75)" stroke="#231f20" stroke-width="0.18">% of lymphoproliferative cells</text>
<text x="375.30" y="513.75" font-size="8.4" fill="#231f20" text-anchor="middle" textLength="96.50" lengthAdjust="spacingAndGlyphs" transform="rotate(-90 375.30 513.75)" stroke="#231f20" stroke-width="0.18">(based on CD3+ CD8+ cells)</text>
<line x1="459.10" y1="578.50" x2="459.10" y2="451.30" stroke="#231f20" stroke-width="1.4"/>
<line x1="456.10" y1="577.80" x2="459.10" y2="577.80" stroke="#231f20" stroke-width="0.9"/>
<text x="453.20" y="580.60" font-size="8.3" fill="#231f20" text-anchor="end" textLength="4.40" lengthAdjust="spacingAndGlyphs" stroke="#231f20" stroke-width="0.18">0</text>
<line x1="456.10" y1="556.77" x2="459.10" y2="556.77" stroke="#231f20" stroke-width="0.9"/>
<text x="453.20" y="559.57" font-size="8.3" fill="#231f20" text-anchor="end" textLength="8.60" lengthAdjust="spacingAndGlyphs" stroke="#231f20" stroke-width="0.18">15</text>
<line x1="456.10" y1="535.73" x2="459.10" y2="535.73" stroke="#231f20" stroke-width="0.9"/>
<text x="453.20" y="538.53" font-size="8.3" fill="#231f20" text-anchor="end" textLength="8.60" lengthAdjust="spacingAndGlyphs" stroke="#231f20" stroke-width="0.18">30</text>
<line x1="456.10" y1="514.70" x2="459.10" y2="514.70" stroke="#231f20" stroke-width="0.9"/>
<text x="453.20" y="517.50" font-size="8.3" fill="#231f20" text-anchor="end" textLength="8.60" lengthAdjust="spacingAndGlyphs" stroke="#231f20" stroke-width="0.18">45</text>
<line x1="456.10" y1="493.67" x2="459.10" y2="493.67" stroke="#231f20" stroke-width="0.9"/>
<text x="453.20" y="496.47" font-size="8.3" fill="#231f20" text-anchor="end" textLength="8.60" lengthAdjust="spacingAndGlyphs" stroke="#231f20" stroke-width="0.18">60</text>
<line x1="456.10" y1="472.63" x2="459.10" y2="472.63" stroke="#231f20" stroke-width="0.9"/>
<text x="453.20" y="475.43" font-size="8.3" fill="#231f20" text-anchor="end" textLength="8.60" lengthAdjust="spacingAndGlyphs" stroke="#231f20" stroke-width="0.18">75</text>
<line x1="456.10" y1="451.60" x2="459.10" y2="451.60" stroke="#231f20" stroke-width="0.9"/>
<text x="453.20" y="454.40" font-size="8.3" fill="#231f20" text-anchor="end" textLength="8.60" lengthAdjust="spacingAndGlyphs" stroke="#231f20" stroke-width="0.18">90</text>
<line x1="395.40" y1="577.80" x2="447.00" y2="577.80" stroke="#231f20" stroke-width="1.45"/>
<line x1="458.40" y1="577.80" x2="512.80" y2="577.80" stroke="#231f20" stroke-width="1.45"/>
<line x1="410.30" y1="531.53" x2="410.30" y2="545.13" stroke="#1d3550" stroke-width="1.0"/>
<line x1="405.90" y1="531.53" x2="414.70" y2="531.53" stroke="#1d3550" stroke-width="1.0"/>
<line x1="405.90" y1="545.13" x2="414.70" y2="545.13" stroke="#1d3550" stroke-width="1.0"/>
<line x1="432.30" y1="567.00" x2="432.30" y2="573.59" stroke="#c8102e" stroke-width="1.0"/>
<line x1="427.90" y1="567.00" x2="436.70" y2="567.00" stroke="#c8102e" stroke-width="1.0"/>
<line x1="427.90" y1="573.59" x2="436.70" y2="573.59" stroke="#c8102e" stroke-width="1.0"/>
<line x1="477.00" y1="474.04" x2="477.00" y2="512.46" stroke="#0b4a8b" stroke-width="1.0"/>
<line x1="472.60" y1="474.04" x2="481.40" y2="474.04" stroke="#0b4a8b" stroke-width="1.0"/>
<line x1="472.60" y1="512.46" x2="481.40" y2="512.46" stroke="#0b4a8b" stroke-width="1.0"/>
<line x1="499.20" y1="505.45" x2="499.20" y2="532.65" stroke="#c8102e" stroke-width="1.0"/>
<line x1="494.80" y1="505.45" x2="503.60" y2="505.45" stroke="#c8102e" stroke-width="1.0"/>
<line x1="494.80" y1="532.65" x2="503.60" y2="532.65" stroke="#c8102e" stroke-width="1.0"/>
<g fill="#1d3550"><circle cx="410.80" cy="509.00" r="1.7"/><circle cx="408.60" cy="517.90" r="1.7"/><circle cx="412.70" cy="517.00" r="1.7"/><circle cx="410.80" cy="535.20" r="1.7"/><circle cx="410.80" cy="540.30" r="1.7"/><circle cx="408.90" cy="548.60" r="1.7"/><circle cx="412.70" cy="552.40" r="1.7"/><circle cx="412.70" cy="561.60" r="1.7"/><circle cx="409.30" cy="564.60" r="1.7"/></g>
<g fill="#c8102e"><circle cx="430.20" cy="561.10" r="1.7"/><circle cx="434.80" cy="561.10" r="1.7"/><circle cx="436.10" cy="567.50" r="1.7"/><circle cx="428.40" cy="570.30" r="1.7"/><circle cx="432.50" cy="570.30" r="1.7"/><circle cx="427.20" cy="573.90" r="1.7"/><circle cx="438.30" cy="573.30" r="1.7"/><circle cx="430.60" cy="576.50" r="1.7"/><circle cx="434.40" cy="576.50" r="1.7"/></g>
<g fill="#0b4a8b"><circle cx="476.60" cy="454.30" r="1.7"/><circle cx="476.60" cy="508.30" r="1.7"/><circle cx="476.60" cy="516.20" r="1.7"/></g>
<g fill="#c8102e"><circle cx="498.50" cy="493.30" r="1.7"/><circle cx="498.50" cy="525.10" r="1.7"/><circle cx="498.50" cy="539.00" r="1.7"/></g>
<text x="422.00" y="454.20" font-size="8.0" fill="#231f20" text-anchor="middle" stroke="#231f20" stroke-width="0.35">**</text>
<text x="488.20" y="458.20" font-size="8.2" fill="#231f20" text-anchor="middle" textLength="11.50" lengthAdjust="spacingAndGlyphs" transform="rotate(-45 488.20 458.20)" stroke="#231f20" stroke-width="0.18">NS</text>
<text x="414.50" y="583.20" font-size="7.9" fill="#231f20" text-anchor="end" textLength="46.50" lengthAdjust="spacingAndGlyphs" transform="rotate(-45 414.50 583.20)" stroke="#231f20" stroke-width="0.18">PEVs + OVA</text>
<text x="438.70" y="583.20" font-size="7.9" fill="#231f20" text-anchor="end" textLength="73.00" lengthAdjust="spacingAndGlyphs" transform="rotate(-45 438.70 583.20)" stroke="#231f20" stroke-width="0.18">PEVs(epoxo) + OVA</text>
<text x="479.60" y="583.20" font-size="7.9" fill="#231f20" text-anchor="end" textLength="31.50" lengthAdjust="spacingAndGlyphs" transform="rotate(-45 479.60 583.20)" stroke="#231f20" stroke-width="0.18">DC + PP</text>
<text x="503.30" y="583.20" font-size="7.9" fill="#231f20" text-anchor="end" textLength="60.50" lengthAdjust="spacingAndGlyphs" transform="rotate(-45 503.30 583.20)" stroke="#231f20" stroke-width="0.18">DC(epoxo) + PP</text>
</svg>
</body></html>
